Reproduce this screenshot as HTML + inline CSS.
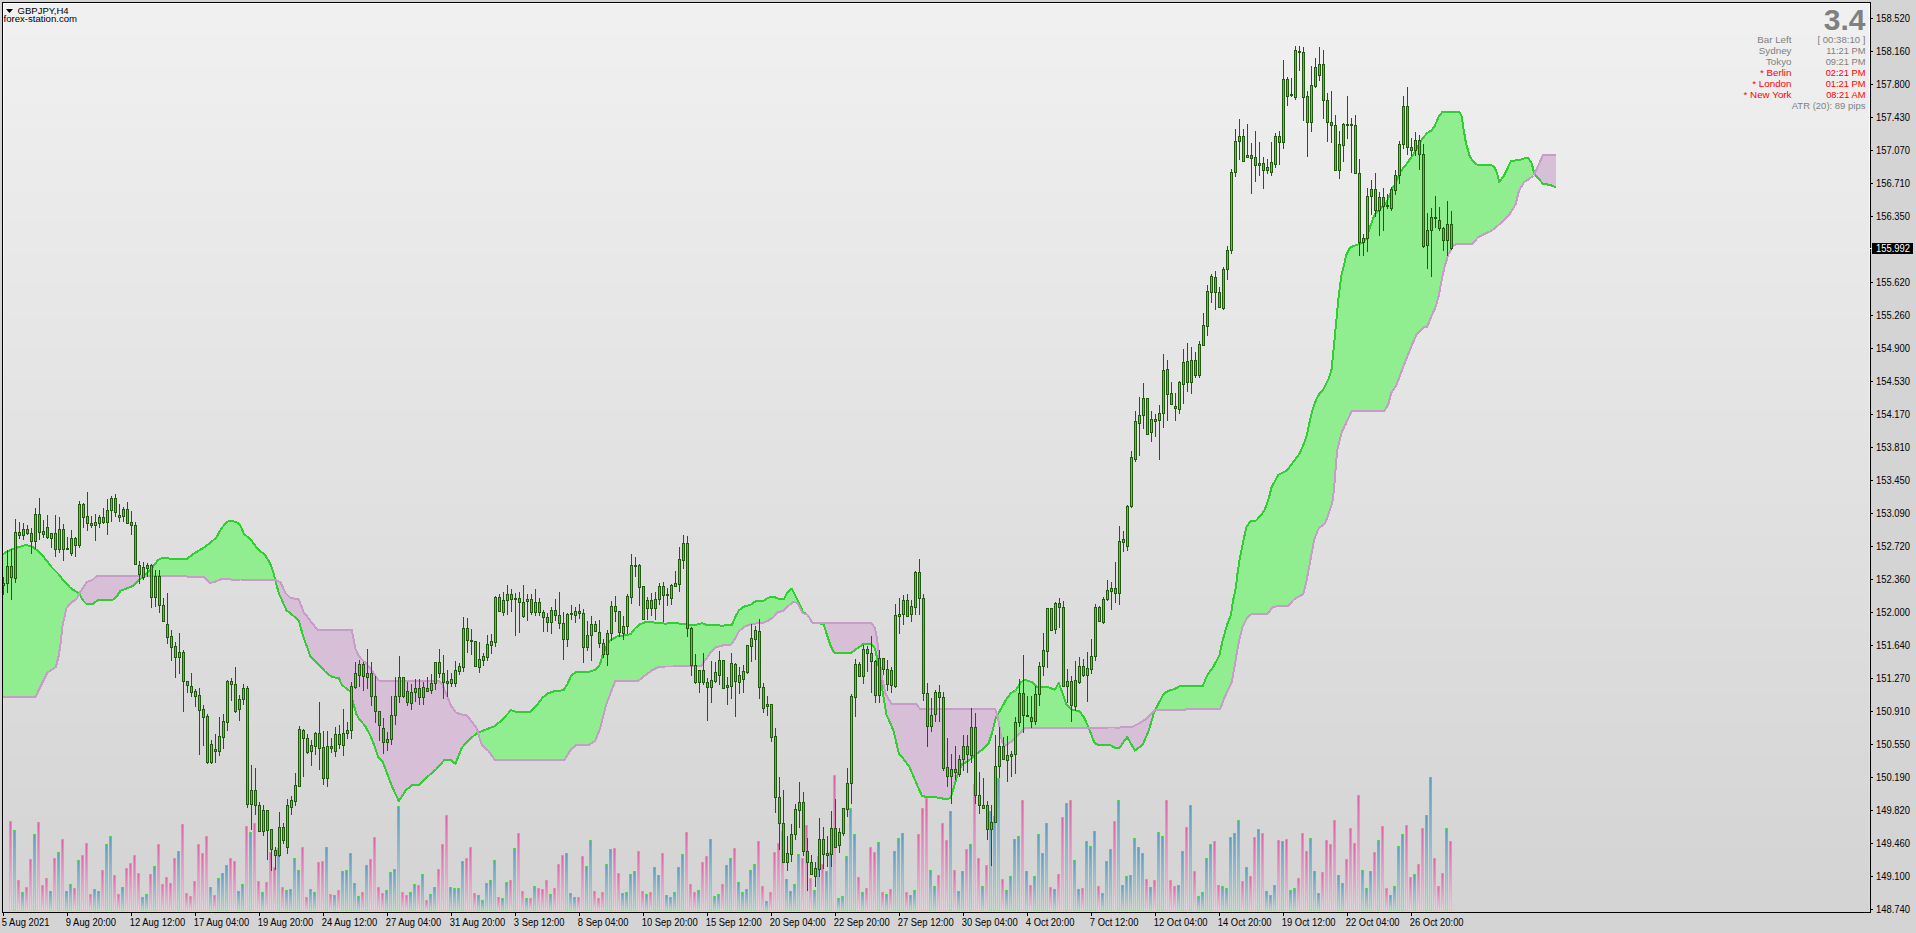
<!DOCTYPE html>
<html><head><meta charset="utf-8"><title>GBPJPY,H4</title>
<style>html,body{margin:0;padding:0;background:#d4d4d4;overflow:hidden;} svg{display:block;} text{shape-rendering:auto;}</style>
</head><body>
<svg width="1916" height="933" viewBox="0 0 1916 933" shape-rendering="crispEdges" font-family="'Liberation Sans', Arial, sans-serif">
<defs>
<linearGradient id="bg" x1="0" y1="0" x2="0" y2="1">
<stop offset="0" stop-color="#f0f0f0"/><stop offset="1" stop-color="#d6d6d6"/>
</linearGradient>
<linearGradient id="vg" x1="0" y1="0" x2="0" y2="1">
<stop offset="0" stop-color="#30ee30"/><stop offset="1" stop-color="#98e098"/></linearGradient>
<linearGradient id="vgi" x1="0" y1="0" x2="0" y2="1">
<stop offset="0" stop-color="#5c9cc0"/><stop offset="1" stop-color="#d4dcd4"/></linearGradient>
<linearGradient id="vp" x1="0" y1="0" x2="0" y2="1">
<stop offset="0" stop-color="#e8909c"/><stop offset="1" stop-color="#e8bcbc"/></linearGradient>
<linearGradient id="vpi" x1="0" y1="0" x2="0" y2="1">
<stop offset="0" stop-color="#e060a8"/><stop offset="1" stop-color="#e4dce0"/></linearGradient>
<linearGradient id="vl" x1="0" y1="0" x2="0" y2="1"><stop offset="0" stop-color="#ffffff"/><stop offset="1" stop-color="#dadada"/></linearGradient>
</defs>
<rect x="0" y="0" width="1916" height="933" fill="#d4d4d4"/>
<rect x="3" y="3" width="1867" height="31" fill="rgb(240,240,240)"/>
<rect x="3" y="34" width="1867" height="32" fill="rgb(239,239,239)"/>
<rect x="3" y="66" width="1867" height="31" fill="rgb(238,238,238)"/>
<rect x="3" y="97" width="1867" height="31" fill="rgb(237,237,237)"/>
<rect x="3" y="128" width="1867" height="32" fill="rgb(236,236,236)"/>
<rect x="3" y="160" width="1867" height="31" fill="rgb(235,235,235)"/>
<rect x="3" y="191" width="1867" height="31" fill="rgb(234,234,234)"/>
<rect x="3" y="222" width="1867" height="31" fill="rgb(233,233,233)"/>
<rect x="3" y="253" width="1867" height="32" fill="rgb(232,232,232)"/>
<rect x="3" y="285" width="1867" height="31" fill="rgb(231,231,231)"/>
<rect x="3" y="316" width="1867" height="31" fill="rgb(230,230,230)"/>
<rect x="3" y="347" width="1867" height="32" fill="rgb(229,229,229)"/>
<rect x="3" y="379" width="1867" height="31" fill="rgb(228,228,228)"/>
<rect x="3" y="410" width="1867" height="31" fill="rgb(227,227,227)"/>
<rect x="3" y="441" width="1867" height="32" fill="rgb(226,226,226)"/>
<rect x="3" y="473" width="1867" height="31" fill="rgb(225,225,225)"/>
<rect x="3" y="504" width="1867" height="31" fill="rgb(224,224,224)"/>
<rect x="3" y="535" width="1867" height="32" fill="rgb(223,223,223)"/>
<rect x="3" y="567" width="1867" height="31" fill="rgb(222,222,222)"/>
<rect x="3" y="598" width="1867" height="31" fill="rgb(221,221,221)"/>
<rect x="3" y="629" width="1867" height="32" fill="rgb(220,220,220)"/>
<rect x="3" y="661" width="1867" height="31" fill="rgb(219,219,219)"/>
<rect x="3" y="692" width="1867" height="31" fill="rgb(218,218,218)"/>
<rect x="3" y="723" width="1867" height="31" fill="rgb(217,217,217)"/>
<rect x="3" y="754" width="1867" height="32" fill="rgb(216,216,216)"/>
<rect x="3" y="786" width="1867" height="31" fill="rgb(215,215,215)"/>
<rect x="3" y="817" width="1867" height="31" fill="rgb(214,214,214)"/>
<rect x="3" y="848" width="1867" height="32" fill="rgb(213,213,213)"/>
<rect x="3" y="880" width="1867" height="31" fill="rgb(212,212,212)"/>
<rect x="3" y="3" width="1867" height="1" fill="#fff"/>
<rect x="3" y="3" width="1" height="909" fill="url(#vl)"/>
<rect x="1869" y="3" width="1" height="909" fill="url(#vl)"/>
<polygon points="3.00,554.00 11.60,549.30 11.60,549.30 19.30,547.00 19.30,547.00 26.00,545.00 26.00,545.00 31.80,546.40 31.80,546.40 35.70,549.20 35.70,549.20 38.60,551.20 38.60,551.20 41.50,554.50 41.50,554.50 45.30,558.90 45.30,558.90 47.30,561.50 47.30,561.50 52.10,567.60 52.10,567.60 55.90,571.40 55.90,571.40 57.90,573.40 57.90,573.40 58.80,574.50 58.80,574.50 60.80,577.00 60.80,577.00 62.70,579.40 62.70,579.40 63.60,580.50 63.60,580.50 66.50,583.70 66.50,583.70 70.40,587.90 70.40,587.90 71.40,588.60 71.40,588.60 76.20,591.70 76.20,591.70 79.10,593.60 79.10,593.60 79.27,593.90 79.10,594.20 79.10,594.20 76.20,599.40 76.20,599.40 71.40,602.30 71.40,602.30 70.40,603.50 70.40,603.50 66.50,608.10 66.50,608.10 63.60,620.60 63.60,620.60 62.70,624.50 62.70,624.50 60.80,641.90 60.80,641.90 58.80,655.40 58.80,655.40 57.90,659.00 57.90,659.00 55.90,666.90 55.90,666.90 52.10,669.50 52.10,669.50 47.30,672.70 47.30,672.70 45.30,676.70 45.30,676.70 41.50,684.30 41.50,684.30 38.60,690.50 38.60,690.50 35.70,696.80 35.70,696.80 31.80,696.80 31.80,696.80 26.00,696.80 26.00,696.80 19.30,696.80 19.30,696.80 11.60,696.80 11.60,696.80 3.00,696.80" fill="#90ee90"/>
<polygon points="79.27,593.90 81.00,597.00 81.00,597.00 82.90,600.40 82.90,600.40 86.80,604.30 86.80,604.30 92.60,604.30 92.60,604.30 96.40,601.20 96.40,601.20 97.40,600.40 97.40,600.40 104.10,600.40 104.10,600.40 111.90,600.40 111.90,600.40 116.70,596.50 116.70,596.50 120.50,590.80 120.50,590.80 127.30,588.20 127.30,588.20 133.10,585.90 133.10,585.90 138.90,580.50 138.90,580.50 143.35,576.40 138.90,576.40 138.90,576.40 133.10,576.40 133.10,576.40 127.30,576.40 127.30,576.40 120.50,576.30 120.50,576.30 116.70,576.30 116.70,576.30 111.90,576.30 111.90,576.30 104.10,576.30 104.10,576.30 97.40,576.30 97.40,576.30 96.40,576.30 96.40,576.30 92.60,579.80 92.60,579.80 86.80,582.10 86.80,582.10 82.90,587.90 82.90,587.90 81.00,590.80 81.00,590.80" fill="#d8bfd8"/>
<polygon points="143.35,576.40 146.60,573.40 146.60,573.40 152.40,567.60 152.40,567.60 158.10,559.90 158.10,559.90 162.00,558.00 162.00,558.00 173.60,558.90 173.60,558.90 187.10,558.90 187.10,558.90 192.90,554.10 192.90,554.10 197.70,551.40 197.70,551.40 203.50,547.80 203.50,547.80 205.40,546.60 205.40,546.60 210.20,542.70 210.20,542.70 215.10,538.70 215.10,538.70 216.00,538.00 216.00,538.00 220.80,529.30 220.80,529.30 226.60,522.00 226.60,522.00 230.50,520.60 230.50,520.60 236.30,522.00 236.30,522.00 240.10,525.00 240.10,525.00 244.00,534.10 244.00,534.10 249.80,538.50 249.80,538.50 257.50,548.60 257.50,548.60 265.20,555.30 265.20,555.30 270.00,563.00 270.00,563.00 272.90,570.70 272.90,570.70 274.80,578.40 274.80,578.40 275.23,579.99 274.80,579.80 274.80,579.80 272.90,579.80 272.90,579.80 270.00,579.80 270.00,579.80 265.20,579.70 265.20,579.70 257.50,579.70 257.50,579.70 249.80,579.60 249.80,579.60 244.00,579.60 244.00,579.60 240.10,579.50 240.10,579.50 236.30,579.50 236.30,579.50 230.50,579.50 230.50,579.50 226.60,579.40 226.60,579.40 220.80,579.40 220.80,579.40 216.00,581.30 216.00,581.30 215.10,581.70 215.10,581.70 210.20,582.90 210.20,582.90 205.40,578.30 205.40,578.30 203.50,576.50 203.50,576.50 197.70,576.50 197.70,576.50 192.90,576.50 192.90,576.50 187.10,576.50 187.10,576.50 173.60,576.40 173.60,576.40 162.00,576.40 162.00,576.40 158.10,576.40 158.10,576.40 152.40,576.40 152.40,576.40 146.60,576.40 146.60,576.40" fill="#90ee90"/>
<polygon points="275.23,579.99 278.70,592.90 278.70,592.90 280.60,597.20 280.60,597.20 285.40,608.00 285.40,608.00 286.40,610.20 286.40,610.20 290.20,613.30 290.20,613.30 293.10,615.60 293.10,615.60 298.90,620.90 298.90,620.90 302.80,635.30 302.80,635.30 303.70,637.80 303.70,637.80 310.50,656.50 310.50,656.50 317.20,663.10 317.20,663.10 320.00,665.90 320.00,665.90 325.00,671.50 325.00,671.50 332.40,677.40 332.40,677.40 338.70,677.70 338.70,677.70 341.80,684.60 341.80,684.60 347.40,689.60 347.40,689.60 350.50,691.40 350.50,691.40 351.70,696.30 351.70,696.30 353.00,701.70 353.00,701.70 353.50,703.70 353.50,703.70 355.40,710.60 355.40,710.60 356.40,714.30 356.40,714.30 358.60,718.00 358.60,718.00 359.30,719.20 359.30,719.20 363.50,724.10 363.50,724.10 365.10,725.90 365.10,725.90 366.10,727.70 366.10,727.70 369.90,734.60 369.90,734.60 371.90,739.50 371.90,739.50 373.80,744.20 373.80,744.20 378.60,757.80 378.60,757.80 382.50,761.20 382.50,761.20 386.30,771.30 386.30,771.30 392.10,786.70 392.10,786.70 398.90,801.20 398.90,801.20 405.60,790.60 405.60,790.60 412.40,784.80 412.40,784.80 419.20,784.80 419.20,784.80 424.90,779.00 424.90,779.00 436.50,769.00 436.50,769.00 438.50,766.70 438.50,766.70 442.30,762.30 442.30,762.30 444.20,760.10 444.20,760.10 446.20,760.10 446.20,760.10 451.00,760.10 451.00,760.10 455.40,763.90 455.40,763.90 455.80,762.90 455.80,762.90 460.70,750.40 460.70,750.40 461.60,748.10 461.60,748.10 467.40,741.50 467.40,741.50 469.30,739.40 469.30,739.40 471.30,737.80 471.30,737.80 477.10,733.10 477.10,733.10 478.06,732.70 477.10,728.80 477.10,728.80 471.30,721.10 471.30,721.10 469.30,718.30 469.30,718.30 467.40,715.70 467.40,715.70 461.60,714.50 461.60,714.50 460.70,714.30 460.70,714.30 455.80,712.40 455.80,712.40 455.40,711.80 455.40,711.80 451.00,705.60 451.00,705.60 446.20,694.10 446.20,694.10 444.20,689.10 444.20,689.10 442.30,684.40 442.30,684.40 438.50,680.50 438.50,680.50 436.50,680.50 436.50,680.50 424.90,680.50 424.90,680.50 419.20,680.50 419.20,680.50 412.40,680.50 412.40,680.50 405.60,680.50 405.60,680.50 398.90,680.50 398.90,680.50 392.10,680.50 392.10,680.50 386.30,680.50 386.30,680.50 382.50,680.50 382.50,680.50 378.60,680.50 378.60,680.50 373.80,673.60 373.80,673.60 371.90,670.90 371.90,670.90 369.90,668.20 369.90,668.20 366.10,663.20 366.10,663.20 365.10,662.40 365.10,662.40 363.50,661.00 363.50,661.00 359.30,656.70 359.30,656.70 358.60,656.00 358.60,656.00 356.40,650.80 356.40,650.80 355.40,648.50 355.40,648.50 353.50,638.60 353.50,638.60 353.00,636.00 353.00,636.00 351.70,629.60 351.70,629.60 350.50,629.60 350.50,629.60 347.40,629.60 347.40,629.60 341.80,629.60 341.80,629.60 338.70,629.60 338.70,629.60 332.40,629.50 332.40,629.50 325.00,629.50 325.00,629.50 320.00,629.50 320.00,629.50 317.20,629.50 317.20,629.50 310.50,620.90 310.50,620.90 303.70,612.20 303.70,612.20 302.80,609.80 302.80,609.80 298.90,599.60 298.90,599.60 293.10,598.30 293.10,598.30 290.20,597.70 290.20,597.70 286.40,593.90 286.40,593.90 285.40,592.90 285.40,592.90 280.60,582.30 280.60,582.30 278.70,581.50 278.70,581.50" fill="#d8bfd8"/>
<polygon points="478.06,732.70 479.00,732.30 479.00,732.30 481.90,731.20 481.90,731.20 486.70,729.20 486.70,729.20 488.60,728.50 488.60,728.50 494.80,726.10 494.80,726.10 501.60,720.30 501.60,720.30 511.20,710.10 511.20,710.10 515.10,711.60 515.10,711.60 530.50,711.60 530.50,711.60 536.30,705.80 536.30,705.80 542.10,698.10 542.10,698.10 547.90,693.30 547.90,693.30 555.60,690.80 555.60,690.80 563.40,690.40 563.40,690.40 564.30,689.00 564.30,689.00 567.20,684.60 567.20,684.60 571.10,675.90 571.10,675.90 575.90,672.00 575.90,672.00 588.50,671.60 588.50,671.60 590.40,671.50 590.40,671.50 595.20,669.60 595.20,669.60 596.20,669.20 596.20,669.20 600.00,664.30 600.00,664.30 602.90,653.70 602.90,653.70 605.80,648.10 605.80,648.10 609.70,640.60 609.70,640.60 611.60,639.50 611.60,639.50 615.50,637.40 615.50,637.40 617.40,636.30 617.40,636.30 625.10,635.40 625.10,635.40 630.90,634.00 630.90,634.00 634.80,628.60 634.80,628.60 638.60,625.30 638.60,625.30 639.60,624.40 639.60,624.40 644.40,622.60 644.40,622.60 646.40,621.90 646.40,621.90 652.20,622.40 652.20,622.40 657.70,622.70 657.70,622.70 659.70,623.00 659.70,623.00 665.40,623.70 665.40,623.70 673.20,622.70 673.20,622.70 688.60,624.70 688.60,624.70 696.30,624.70 696.30,624.70 701.20,623.50 701.20,623.50 702.10,623.30 702.10,623.30 705.00,624.30 705.00,624.30 707.90,625.30 707.90,625.30 709.80,625.30 709.80,625.30 715.60,625.40 715.60,625.40 723.40,625.60 723.40,625.60 731.10,624.80 731.10,624.80 732.00,624.70 732.00,624.70 734.90,617.90 734.90,617.90 738.80,610.20 738.80,610.20 744.60,606.30 744.60,606.30 750.40,604.80 750.40,604.80 752.30,603.50 752.30,603.50 756.20,600.90 756.20,600.90 762.00,600.60 762.00,600.60 763.90,600.50 763.90,600.50 767.80,598.10 767.80,598.10 768.70,597.60 768.70,597.60 773.60,596.70 773.60,596.70 777.40,598.20 777.40,598.20 778.40,598.60 778.40,598.60 783.20,598.60 783.20,598.60 784.20,598.60 784.20,598.60 787.10,592.80 787.10,592.80 789.00,591.10 789.00,591.10 791.90,588.60 791.90,588.60 793.80,592.50 793.80,592.50 795.80,596.70 795.80,596.70 797.70,600.60 797.70,600.60 799.60,604.40 799.60,604.40 802.50,610.90 802.50,610.90 803.00,612.00 803.00,612.00 807.40,614.70 807.40,614.70 803.00,613.00 803.00,613.00 802.50,612.80 802.50,612.80 799.60,607.00 799.60,607.00 797.70,603.20 797.70,603.20 795.80,602.40 795.80,602.40 793.80,601.50 793.80,601.50 791.90,603.00 791.90,603.00 789.00,605.40 789.00,605.40 787.10,607.10 787.10,607.10 784.20,609.70 784.20,609.70 783.20,610.60 783.20,610.60 778.40,612.20 778.40,612.20 777.40,612.50 777.40,612.50 773.60,617.00 773.60,617.00 768.70,620.20 768.70,620.20 767.80,620.80 767.80,620.80 763.90,622.50 763.90,622.50 762.00,623.30 762.00,623.30 756.20,623.50 756.20,623.50 752.30,623.70 752.30,623.70 750.40,624.40 750.40,624.40 744.60,626.60 744.60,626.60 738.80,631.40 738.80,631.40 734.90,639.20 734.90,639.20 732.00,643.30 732.00,643.30 731.10,644.60 731.10,644.60 723.40,645.30 723.40,645.30 715.60,647.30 715.60,647.30 709.80,653.60 709.80,653.60 707.90,656.30 707.90,656.30 705.00,660.40 705.00,660.40 702.10,664.80 702.10,664.80 701.20,666.20 701.20,666.20 696.30,666.20 696.30,666.20 688.60,666.30 688.60,666.30 673.20,666.50 673.20,666.50 665.40,666.50 665.40,666.50 659.70,666.60 659.70,666.60 657.70,667.50 657.70,667.50 652.20,670.10 652.20,670.10 646.40,674.40 646.40,674.40 644.40,675.90 644.40,675.90 639.60,679.90 639.60,679.90 638.60,680.70 638.60,680.70 634.80,680.70 634.80,680.70 630.90,680.70 630.90,680.70 625.10,680.70 625.10,680.70 617.40,680.70 617.40,680.70 615.50,680.70 615.50,680.70 611.60,690.40 611.60,690.40 609.70,695.40 609.70,695.40 605.80,705.80 605.80,705.80 602.90,717.40 602.90,717.40 600.00,729.00 600.00,729.00 596.20,738.20 596.20,738.20 595.20,740.60 595.20,740.60 590.40,744.00 590.40,744.00 588.50,745.40 588.50,745.40 575.90,745.40 575.90,745.40 571.10,749.30 571.10,749.30 567.20,755.40 567.20,755.40 564.30,759.90 564.30,759.90 563.40,759.90 563.40,759.90 555.60,759.90 555.60,759.90 547.90,759.90 547.90,759.90 542.10,759.90 542.10,759.90 536.30,759.90 536.30,759.90 530.50,759.90 530.50,759.90 515.10,759.90 515.10,759.90 511.20,759.90 511.20,759.90 501.60,759.90 501.60,759.90 494.80,759.90 494.80,759.90 488.60,751.00 488.60,751.00 486.70,749.40 486.70,749.40 481.90,745.20 481.90,745.20 479.00,736.50 479.00,736.50" fill="#90ee90"/>
<polygon points="807.40,614.70 812.20,622.50 812.20,622.50 818.00,623.00 818.00,623.00 823.80,624.40 823.80,624.40 826.70,634.10 826.70,634.10 830.50,645.60 830.50,645.60 834.40,653.00 834.40,653.00 850.80,653.00 850.80,653.00 855.60,649.50 855.60,649.50 863.40,644.10 863.40,644.10 871.10,643.70 871.10,643.70 874.90,648.50 874.90,648.50 876.90,657.20 876.90,657.20 878.80,667.40 878.80,667.40 879.80,672.70 879.80,672.70 881.70,685.30 881.70,685.30 882.70,692.00 882.70,692.00 885.60,709.60 885.60,709.60 886.50,715.10 886.50,715.10 890.00,722.30 890.00,722.30 891.40,725.80 891.40,725.80 893.90,732.00 893.90,732.00 898.70,753.20 898.70,753.20 903.50,759.00 903.50,759.00 909.30,766.70 909.30,766.70 915.10,780.20 915.10,780.20 915.50,781.10 915.50,781.10 920.30,792.10 920.30,792.10 921.90,795.70 921.90,795.70 924.70,796.60 924.70,796.60 938.30,797.60 938.30,797.60 946.90,799.50 946.90,799.50 950.80,797.60 950.80,797.60 953.70,788.00 953.70,788.00 957.60,774.40 957.60,774.40 962.40,763.80 962.40,763.80 967.20,761.90 967.20,761.90 974.90,755.10 974.90,755.10 982.70,749.30 982.70,749.30 988.50,743.60 988.50,743.60 992.30,732.00 992.30,732.00 995.20,720.50 995.20,720.50 996.20,716.50 996.20,716.50 997.10,715.10 997.10,715.10 997.18,714.98 997.10,714.60 997.10,714.60 996.20,711.90 996.20,711.90 995.20,708.80 995.20,708.80 992.30,708.80 992.30,708.80 988.50,708.80 988.50,708.80 982.70,708.80 982.70,708.80 974.90,708.90 974.90,708.90 967.20,708.90 967.20,708.90 962.40,708.90 962.40,708.90 957.60,708.90 957.60,708.90 953.70,708.90 953.70,708.90 950.80,708.90 950.80,708.90 946.90,708.90 946.90,708.90 938.30,709.00 938.30,709.00 924.70,709.00 924.70,709.00 921.90,709.00 921.90,709.00 920.30,709.00 920.30,709.00 915.50,703.60 915.50,703.60 915.10,703.60 915.10,703.60 909.30,703.60 909.30,703.60 903.50,703.60 903.50,703.60 898.70,703.60 898.70,703.60 893.90,703.60 893.90,703.60 891.40,703.60 891.40,703.60 890.00,701.30 890.00,701.30 886.50,695.40 886.50,695.40 885.60,693.90 885.60,693.90 882.70,681.00 882.70,681.00 881.70,676.50 881.70,676.50 879.80,661.40 879.80,661.40 878.80,653.40 878.80,653.40 876.90,637.90 876.90,637.90 874.90,628.30 874.90,628.30 871.10,622.50 871.10,622.50 863.40,622.50 863.40,622.50 855.60,622.50 855.60,622.50 850.80,622.50 850.80,622.50 834.40,622.50 834.40,622.50 830.50,622.50 830.50,622.50 826.70,622.50 826.70,622.50 823.80,622.50 823.80,622.50 818.00,622.50 818.00,622.50 812.20,622.50 812.20,622.50 807.40,614.70" fill="#d8bfd8"/>
<polygon points="997.18,714.98 999.10,712.10 999.10,712.10 1000.00,710.70 1000.00,710.70 1002.00,707.00 1002.00,707.00 1005.80,700.10 1005.80,700.10 1010.70,693.40 1010.70,693.40 1013.60,691.60 1013.60,691.60 1015.50,690.50 1015.50,690.50 1021.30,681.80 1021.30,681.80 1025.10,679.80 1025.10,679.80 1032.90,682.70 1032.90,682.70 1036.70,686.60 1036.70,686.60 1044.40,686.60 1044.40,686.60 1050.00,687.80 1050.00,687.80 1054.80,689.80 1054.80,689.80 1058.70,683.00 1058.70,683.00 1061.60,690.70 1061.60,690.70 1066.40,704.20 1066.40,704.20 1072.20,710.00 1072.20,710.00 1079.00,711.00 1079.00,711.00 1083.80,716.80 1083.80,716.80 1088.60,727.40 1088.60,727.40 1088.71,727.70 1088.60,727.70 1088.60,727.70 1083.80,727.70 1083.80,727.70 1079.00,727.70 1079.00,727.70 1072.20,727.80 1072.20,727.80 1066.40,727.80 1066.40,727.80 1061.60,727.90 1061.60,727.90 1058.70,727.90 1058.70,727.90 1054.80,727.90 1054.80,727.90 1050.00,727.90 1050.00,727.90 1044.40,728.00 1044.40,728.00 1036.70,728.00 1036.70,728.00 1032.90,728.00 1032.90,728.00 1025.10,728.10 1025.10,728.10 1021.30,732.00 1021.30,732.00 1015.50,737.80 1015.50,737.80 1013.60,739.70 1013.60,739.70 1010.70,741.90 1010.70,741.90 1005.80,745.50 1005.80,745.50 1002.00,741.60 1002.00,741.60 1000.00,729.60 1000.00,729.60 999.10,724.20 999.10,724.20" fill="#90ee90"/>
<polygon points="1088.71,727.70 1094.40,742.90 1094.40,742.90 1098.30,744.80 1098.30,744.80 1109.80,744.80 1109.80,744.80 1114.70,747.70 1114.70,747.70 1119.50,747.70 1119.50,747.70 1127.20,737.10 1127.20,737.10 1131.10,743.90 1131.10,743.90 1134.90,750.60 1134.90,750.60 1138.80,747.70 1138.80,747.70 1142.70,744.80 1142.70,744.80 1146.50,736.00 1146.50,736.00 1148.50,731.30 1148.50,731.30 1154.20,712.00 1154.20,712.00 1155.20,710.00 1155.20,710.00 1154.20,711.00 1154.20,711.00 1148.50,716.70 1148.50,716.70 1146.50,718.70 1146.50,718.70 1142.70,721.10 1142.70,721.10 1138.80,723.60 1138.80,723.60 1134.90,725.50 1134.90,725.50 1131.10,727.40 1131.10,727.40 1127.20,727.40 1127.20,727.40 1119.50,727.50 1119.50,727.50 1114.70,727.50 1114.70,727.50 1109.80,727.50 1109.80,727.50 1098.30,727.60 1098.30,727.60 1094.40,727.60 1094.40,727.60" fill="#d8bfd8"/>
<polygon points="1155.20,710.00 1158.10,704.20 1158.10,704.20 1163.90,693.60 1163.90,693.60 1168.70,690.70 1168.70,690.70 1174.50,689.20 1174.50,689.20 1180.30,685.90 1180.30,685.90 1202.90,685.80 1202.90,685.80 1206.80,676.10 1206.80,676.10 1213.50,666.40 1213.50,666.40 1219.30,655.80 1219.30,655.80 1220.30,651.10 1220.30,651.10 1222.20,642.30 1222.20,642.30 1224.10,635.40 1224.10,635.40 1227.00,624.90 1227.00,624.90 1230.90,615.30 1230.90,615.30 1231.90,608.20 1231.90,608.20 1232.80,601.80 1232.80,601.80 1234.70,593.00 1234.70,593.00 1235.70,588.30 1235.70,588.30 1237.60,572.80 1237.60,572.80 1239.60,559.30 1239.60,559.30 1241.50,549.70 1241.50,549.70 1242.50,544.90 1242.50,544.90 1243.50,540.10 1243.50,540.10 1246.40,527.00 1246.40,527.00 1247.30,525.70 1247.30,525.70 1250.30,521.20 1250.30,521.20 1252.10,521.00 1252.10,521.00 1256.10,520.60 1256.10,520.60 1263.80,511.50 1263.80,511.50 1266.70,504.80 1266.70,504.80 1267.60,501.80 1267.60,501.80 1269.60,495.10 1269.60,495.10 1271.50,487.40 1271.50,487.40 1272.40,485.70 1272.40,485.70 1277.20,476.90 1277.20,476.90 1278.30,474.90 1278.30,474.90 1286.90,470.40 1286.90,470.40 1287.80,469.20 1287.80,469.20 1293.70,461.40 1293.70,461.40 1294.60,460.20 1294.60,460.20 1299.50,453.60 1299.50,453.60 1303.30,445.20 1303.30,445.20 1304.30,443.00 1304.30,443.00 1306.20,436.70 1306.20,436.70 1307.20,433.40 1307.20,433.40 1309.10,424.50 1309.10,424.50 1310.10,419.80 1310.10,419.80 1312.00,412.30 1312.00,412.30 1313.00,408.30 1313.00,408.30 1314.00,405.60 1314.00,405.60 1315.90,400.50 1315.90,400.50 1318.80,394.70 1318.80,394.70 1323.60,389.00 1323.60,389.00 1324.60,387.00 1324.60,387.00 1328.50,379.30 1328.50,379.30 1331.40,370.60 1331.40,370.60 1332.30,362.00 1332.30,362.00 1332.50,360.10 1332.50,360.10 1334.20,342.80 1334.20,342.80 1335.20,332.60 1335.20,332.60 1335.40,330.60 1335.40,330.60 1337.10,312.50 1337.10,312.50 1338.30,299.70 1338.30,299.70 1339.10,293.30 1339.10,293.30 1341.20,276.50 1341.20,276.50 1342.00,273.30 1342.00,273.30 1344.10,264.90 1344.10,264.90 1345.80,256.70 1345.80,256.70 1346.10,255.30 1346.10,255.30 1349.90,247.60 1349.90,247.60 1351.60,246.90 1351.60,246.90 1354.70,245.60 1354.70,245.60 1361.50,243.30 1361.50,243.30 1366.30,238.90 1366.30,238.90 1370.20,226.30 1370.20,226.30 1375.00,213.80 1375.00,213.80 1379.80,209.00 1379.80,209.00 1384.40,205.10 1384.40,205.10 1385.60,204.10 1385.60,204.10 1388.30,197.90 1388.30,197.90 1388.70,197.00 1388.70,197.00 1391.20,191.10 1391.20,191.10 1392.40,188.30 1392.40,188.30 1396.00,182.30 1396.00,182.30 1396.20,182.00 1396.20,182.00 1400.00,173.30 1400.00,173.30 1401.10,170.80 1401.10,170.80 1405.90,164.80 1405.90,164.80 1406.10,164.60 1406.10,164.60 1410.70,158.10 1410.70,158.10 1412.30,155.90 1412.30,155.90 1416.50,149.10 1416.50,149.10 1417.30,147.80 1417.30,147.80 1422.30,138.50 1422.30,138.50 1424.20,136.40 1424.20,136.40 1427.10,133.10 1427.10,133.10 1427.30,132.90 1427.30,132.90 1431.60,130.40 1431.60,130.40 1432.00,129.80 1432.00,129.80 1434.70,126.10 1434.70,126.10 1435.80,123.60 1435.80,123.60 1437.20,120.50 1437.20,120.50 1438.50,116.70 1438.50,116.70 1438.70,116.50 1438.70,116.50 1441.60,112.80 1441.60,112.80 1442.20,112.10 1442.20,112.10 1444.50,112.10 1444.50,112.10 1448.40,112.10 1448.40,112.10 1453.20,112.10 1453.20,112.10 1457.10,112.10 1457.10,112.10 1459.60,112.10 1459.60,112.10 1461.50,116.10 1461.50,116.10 1463.30,127.30 1463.30,127.30 1465.80,142.20 1465.80,142.20 1469.60,155.90 1469.60,155.90 1472.50,160.60 1472.50,160.60 1472.70,160.90 1472.70,160.90 1477.00,164.60 1477.00,164.60 1478.30,164.60 1478.30,164.60 1484.10,164.60 1484.10,164.60 1490.70,164.60 1490.70,164.60 1491.50,165.10 1491.50,165.10 1494.40,167.10 1494.40,167.10 1496.90,172.70 1496.90,172.70 1498.30,178.40 1498.30,178.40 1499.20,182.00 1499.20,182.00 1503.50,176.30 1503.50,176.30 1508.60,166.10 1508.60,166.10 1511.20,160.90 1511.20,160.90 1515.50,160.40 1515.50,160.40 1518.90,159.90 1518.90,159.90 1520.60,159.70 1520.60,159.70 1524.00,158.40 1524.00,158.40 1524.90,158.00 1524.90,158.00 1528.30,158.00 1528.30,158.00 1529.20,159.40 1529.20,159.40 1531.80,163.50 1531.80,163.50 1533.50,170.50 1533.50,170.50 1534.30,173.80 1534.30,173.80 1534.33,173.84 1534.30,173.90 1534.30,173.90 1533.50,175.50 1533.50,175.50 1531.80,176.80 1531.80,176.80 1529.20,178.90 1529.20,178.90 1528.30,179.50 1528.30,179.50 1524.90,181.70 1524.90,181.70 1524.00,182.30 1524.00,182.30 1520.60,188.00 1520.60,188.00 1518.90,190.90 1518.90,190.90 1515.50,204.60 1515.50,204.60 1511.20,211.60 1511.20,211.60 1508.60,215.80 1508.60,215.80 1503.50,220.50 1503.50,220.50 1499.20,224.40 1499.20,224.40 1498.30,225.20 1498.30,225.20 1496.90,226.30 1496.90,226.30 1494.40,228.40 1494.40,228.40 1491.50,230.70 1491.50,230.70 1490.70,231.10 1490.70,231.10 1484.10,234.10 1484.10,234.10 1478.30,237.00 1478.30,237.00 1477.00,238.50 1477.00,238.50 1472.70,243.50 1472.70,243.50 1472.50,243.70 1472.50,243.70 1469.60,243.70 1469.60,243.70 1465.80,243.70 1465.80,243.70 1463.30,243.70 1463.30,243.70 1461.50,243.70 1461.50,243.70 1459.60,243.70 1459.60,243.70 1457.10,243.70 1457.10,243.70 1453.20,245.60 1453.20,245.60 1448.40,254.30 1448.40,254.30 1444.50,266.90 1444.50,266.90 1442.20,277.60 1442.20,277.60 1441.60,280.40 1441.60,280.40 1438.70,295.80 1438.70,295.80 1438.50,296.50 1438.50,296.50 1437.20,301.30 1437.20,301.30 1435.80,306.40 1435.80,306.40 1434.70,308.90 1434.70,308.90 1432.00,315.10 1432.00,315.10 1431.60,316.00 1431.60,316.00 1427.30,326.20 1427.30,326.20 1427.10,326.70 1427.10,326.70 1424.20,326.70 1424.20,326.70 1422.30,328.60 1422.30,328.60 1417.30,333.60 1417.30,333.60 1416.50,334.40 1416.50,334.40 1412.30,344.20 1412.30,344.20 1410.70,348.00 1410.70,348.00 1406.10,359.60 1406.10,359.60 1405.90,360.10 1405.90,360.10 1401.10,372.50 1401.10,372.50 1400.00,375.40 1400.00,375.40 1396.20,385.60 1396.20,385.60 1396.00,386.10 1396.00,386.10 1392.40,391.10 1392.40,391.10 1391.20,392.80 1391.20,392.80 1388.70,402.80 1388.70,402.80 1388.30,404.40 1388.30,404.40 1385.60,409.10 1385.60,409.10 1384.40,411.20 1384.40,411.20 1379.80,411.20 1379.80,411.20 1375.00,411.20 1375.00,411.20 1370.20,411.20 1370.20,411.20 1366.30,411.20 1366.30,411.20 1361.50,411.20 1361.50,411.20 1354.70,411.20 1354.70,411.20 1351.60,411.20 1351.60,411.20 1349.90,414.90 1349.90,414.90 1346.10,423.10 1346.10,423.10 1345.80,423.70 1345.80,423.70 1344.10,427.10 1344.10,427.10 1342.00,431.40 1342.00,431.40 1341.20,434.60 1341.20,434.60 1339.10,443.00 1339.10,443.00 1338.30,446.10 1338.30,446.10 1337.10,450.70 1337.10,450.70 1335.40,471.50 1335.40,471.50 1335.20,473.90 1335.20,473.90 1334.20,487.40 1334.20,487.40 1332.50,501.30 1332.50,501.30 1332.30,502.90 1332.30,502.90 1331.40,505.60 1331.40,505.60 1328.50,514.40 1328.50,514.40 1324.60,524.10 1324.60,524.10 1323.60,524.80 1323.60,524.80 1318.80,528.00 1318.80,528.00 1315.90,535.30 1315.90,535.30 1314.00,540.10 1314.00,540.10 1313.00,545.90 1313.00,545.90 1312.00,551.60 1312.00,551.60 1310.10,561.70 1310.10,561.70 1309.10,567.00 1309.10,567.00 1307.20,577.20 1307.20,577.20 1306.20,582.50 1306.20,582.50 1304.30,590.10 1304.30,590.10 1303.30,594.10 1303.30,594.10 1299.50,596.20 1299.50,596.20 1294.60,598.90 1294.60,598.90 1293.70,599.80 1293.70,599.80 1287.80,606.00 1287.80,606.00 1286.90,606.00 1286.90,606.00 1278.30,606.00 1278.30,606.00 1277.20,606.00 1277.20,606.00 1272.40,607.60 1272.40,607.60 1271.50,608.80 1271.50,608.80 1269.60,611.30 1269.60,611.30 1267.60,613.90 1267.60,613.90 1266.70,613.90 1266.70,613.90 1263.80,613.90 1263.80,613.90 1256.10,613.90 1256.10,613.90 1252.10,613.90 1252.10,613.90 1250.30,615.10 1250.30,615.10 1247.30,617.20 1247.30,617.20 1246.40,619.00 1246.40,619.00 1243.50,624.90 1243.50,624.90 1242.50,626.90 1242.50,626.90 1241.50,630.90 1241.50,630.90 1239.60,638.50 1239.60,638.50 1237.60,648.10 1237.60,648.10 1235.70,659.50 1235.70,659.50 1234.70,665.50 1234.70,665.50 1232.80,676.60 1232.80,676.60 1231.90,681.90 1231.90,681.90 1230.90,684.00 1230.90,684.00 1227.00,692.20 1227.00,692.20 1224.10,698.30 1224.10,698.30 1222.20,703.60 1222.20,703.60 1220.30,708.90 1220.30,708.90 1219.30,708.90 1219.30,708.90 1213.50,709.00 1213.50,709.00 1206.80,709.10 1206.80,709.10 1202.90,709.20 1202.90,709.20 1180.30,709.60 1180.30,709.60 1174.50,709.70 1174.50,709.70 1168.70,709.80 1168.70,709.80 1163.90,709.90 1163.90,709.90 1158.10,710.00 1158.10,710.00 1155.20,710.00" fill="#90ee90"/>
<polygon points="1534.33,173.84 1536.90,176.80 1536.90,176.80 1542.90,183.70 1542.90,183.70 1549.80,184.90 1549.80,184.90 1555.80,187.10 1555.80,187.10 1556.00,187.10 1556.00,155.20 1555.80,155.20 1555.80,155.20 1549.80,155.20 1549.80,155.20 1542.90,155.20 1542.90,155.20 1536.90,168.60 1536.90,168.60" fill="#d8bfd8"/>
<polyline points="3,554.0 11.6,549.3 19.3,547.0 26,545.0 31.8,546.4 35.7,549.2 38.6,551.2 41.5,554.5 45.3,558.9 47.3,561.5 52.1,567.6 55.9,571.4 57.9,573.4 58.8,574.5 60.8,577.0 62.7,579.4 63.6,580.5 66.5,583.7 70.4,587.9 71.4,588.6 76.2,591.7 79.1,593.6 81,597.0 82.9,600.4 86.8,604.3 92.6,604.3 96.4,601.2 97.4,600.4 104.1,600.4 111.9,600.4 116.7,596.5 120.5,590.8 127.3,588.2 133.1,585.9 138.9,580.5 146.6,573.4 152.4,567.6 158.1,559.9 162,558.0 173.6,558.9 187.1,558.9 192.9,554.1 197.7,551.4 203.5,547.8 205.4,546.6 210.2,542.7 215.1,538.7 216,538.0 220.8,529.3 226.6,522.0 230.5,520.6 236.3,522.0 240.1,525.0 244,534.1 249.8,538.5 257.5,548.6 265.2,555.3 270,563.0 272.9,570.7 274.8,578.4 278.7,592.9 280.6,597.2 285.4,608.0 286.4,610.2 290.2,613.3 293.1,615.6 298.9,620.9 302.8,635.3 303.7,637.8 310.5,656.5 317.2,663.1 320,665.9 325,671.5 332.4,677.4 338.7,677.7 341.8,684.6 347.4,689.6 350.5,691.4 351.7,696.3 353,701.7 353.5,703.7 355.4,710.6 356.4,714.3 358.6,718.0 359.3,719.2 363.5,724.1 365.1,725.9 366.1,727.7 369.9,734.6 371.9,739.5 373.8,744.2 378.6,757.8 382.5,761.2 386.3,771.3 392.1,786.7 398.9,801.2 405.6,790.6 412.4,784.8 419.2,784.8 424.9,779.0 436.5,769.0 438.5,766.7 442.3,762.3 444.2,760.1 446.2,760.1 451,760.1 455.4,763.9 455.8,762.9 460.7,750.4 461.6,748.1 467.4,741.5 469.3,739.4 471.3,737.8 477.1,733.1 479,732.3 481.9,731.2 486.7,729.2 488.6,728.5 494.8,726.1 501.6,720.3 511.2,710.1 515.1,711.6 530.5,711.6 536.3,705.8 542.1,698.1 547.9,693.3 555.6,690.8 563.4,690.4 564.3,689.0 567.2,684.6 571.1,675.9 575.9,672.0 588.5,671.6 590.4,671.5 595.2,669.6 596.2,669.2 600,664.3 602.9,653.7 605.8,648.1 609.7,640.6 611.6,639.5 615.5,637.4 617.4,636.3 625.1,635.4 630.9,634.0 634.8,628.6 638.6,625.3 639.6,624.4 644.4,622.6 646.4,621.9 652.2,622.4 657.7,622.7 659.7,623.0 665.4,623.7 673.2,622.7 688.6,624.7 696.3,624.7 701.2,623.5 702.1,623.3 705,624.3 707.9,625.3 709.8,625.3 715.6,625.4 723.4,625.6 731.1,624.8 732,624.7 734.9,617.9 738.8,610.2 744.6,606.3 750.4,604.8 752.3,603.5 756.2,600.9 762,600.6 763.9,600.5 767.8,598.1 768.7,597.6 773.6,596.7 777.4,598.2 778.4,598.6 783.2,598.6 784.2,598.6 787.1,592.8 789,591.1 791.9,588.6 793.8,592.5 795.8,596.7 797.7,600.6 799.6,604.4 802.5,610.9 803,612.0 807.4,614.7 812.2,622.5 818,623.0 823.8,624.4 826.7,634.1 830.5,645.6 834.4,653.0 850.8,653.0 855.6,649.5 863.4,644.1 871.1,643.7 874.9,648.5 876.9,657.2 878.8,667.4 879.8,672.7 881.7,685.3 882.7,692.0 885.6,709.6 886.5,715.1 890,722.3 891.4,725.8 893.9,732.0 898.7,753.2 903.5,759.0 909.3,766.7 915.1,780.2 915.5,781.1 920.3,792.1 921.9,795.7 924.7,796.6 938.3,797.6 946.9,799.5 950.8,797.6 953.7,788.0 957.6,774.4 962.4,763.8 967.2,761.9 974.9,755.1 982.7,749.3 988.5,743.6 992.3,732.0 995.2,720.5 996.2,716.5 997.1,715.1 999.1,712.1 1000,710.7 1002,707.0 1005.8,700.1 1010.7,693.4 1013.6,691.6 1015.5,690.5 1021.3,681.8 1025.1,679.8 1032.9,682.7 1036.7,686.6 1044.4,686.6 1050,687.8 1054.8,689.8 1058.7,683.0 1061.6,690.7 1066.4,704.2 1072.2,710.0 1079,711.0 1083.8,716.8 1088.6,727.4 1094.4,742.9 1098.3,744.8 1109.8,744.8 1114.7,747.7 1119.5,747.7 1127.2,737.1 1131.1,743.9 1134.9,750.6 1138.8,747.7 1142.7,744.8 1146.5,736.0 1148.5,731.3 1154.2,712.0 1155.2,710.0 1158.1,704.2 1163.9,693.6 1168.7,690.7 1174.5,689.2 1180.3,685.9 1202.9,685.8 1206.8,676.1 1213.5,666.4 1219.3,655.8 1220.3,651.1 1222.2,642.3 1224.1,635.4 1227,624.9 1230.9,615.3 1231.9,608.2 1232.8,601.8 1234.7,593.0 1235.7,588.3 1237.6,572.8 1239.6,559.3 1241.5,549.7 1242.5,544.9 1243.5,540.1 1246.4,527.0 1247.3,525.7 1250.3,521.2 1252.1,521.0 1256.1,520.6 1263.8,511.5 1266.7,504.8 1267.6,501.8 1269.6,495.1 1271.5,487.4 1272.4,485.7 1277.2,476.9 1278.3,474.9 1286.9,470.4 1287.8,469.2 1293.7,461.4 1294.6,460.2 1299.5,453.6 1303.3,445.2 1304.3,443.0 1306.2,436.7 1307.2,433.4 1309.1,424.5 1310.1,419.8 1312,412.3 1313,408.3 1314,405.6 1315.9,400.5 1318.8,394.7 1323.6,389.0 1324.6,387.0 1328.5,379.3 1331.4,370.6 1332.3,362.0 1332.5,360.1 1334.2,342.8 1335.2,332.6 1335.4,330.6 1337.1,312.5 1338.3,299.7 1339.1,293.3 1341.2,276.5 1342,273.3 1344.1,264.9 1345.8,256.7 1346.1,255.3 1349.9,247.6 1351.6,246.9 1354.7,245.6 1361.5,243.3 1366.3,238.9 1370.2,226.3 1375,213.8 1379.8,209.0 1384.4,205.1 1385.6,204.1 1388.3,197.9 1388.7,197.0 1391.2,191.1 1392.4,188.3 1396,182.3 1396.2,182.0 1400,173.3 1401.1,170.8 1405.9,164.8 1406.1,164.6 1410.7,158.1 1412.3,155.9 1416.5,149.1 1417.3,147.8 1422.3,138.5 1424.2,136.4 1427.1,133.1 1427.3,132.9 1431.6,130.4 1432,129.8 1434.7,126.1 1435.8,123.6 1437.2,120.5 1438.5,116.7 1438.7,116.5 1441.6,112.8 1442.2,112.1 1444.5,112.1 1448.4,112.1 1453.2,112.1 1457.1,112.1 1459.6,112.1 1461.5,116.1 1463.3,127.3 1465.8,142.2 1469.6,155.9 1472.5,160.6 1472.7,160.9 1477,164.6 1478.3,164.6 1484.1,164.6 1490.7,164.6 1491.5,165.1 1494.4,167.1 1496.9,172.7 1498.3,178.4 1499.2,182.0 1503.5,176.3 1508.6,166.1 1511.2,160.9 1515.5,160.4 1518.9,159.9 1520.6,159.7 1524,158.4 1524.9,158.0 1528.3,158.0 1529.2,159.4 1531.8,163.5 1533.5,170.5 1534.3,173.8 1536.9,176.8 1542.9,183.7 1549.8,184.9 1555.8,187.1 1556,187.1" fill="none" stroke="#32cd32" stroke-width="2" stroke-linejoin="round"/>
<polyline points="3,696.8 11.6,696.8 19.3,696.8 26,696.8 31.8,696.8 35.7,696.8 38.6,690.5 41.5,684.3 45.3,676.7 47.3,672.7 52.1,669.5 55.9,666.9 57.9,659.0 58.8,655.4 60.8,641.9 62.7,624.5 63.6,620.6 66.5,608.1 70.4,603.5 71.4,602.3 76.2,599.4 79.1,594.2 81,590.8 82.9,587.9 86.8,582.1 92.6,579.8 96.4,576.3 97.4,576.3 104.1,576.3 111.9,576.3 116.7,576.3 120.5,576.3 127.3,576.4 133.1,576.4 138.9,576.4 146.6,576.4 152.4,576.4 158.1,576.4 162,576.4 173.6,576.4 187.1,576.5 192.9,576.5 197.7,576.5 203.5,576.5 205.4,578.3 210.2,582.9 215.1,581.7 216,581.3 220.8,579.4 226.6,579.4 230.5,579.5 236.3,579.5 240.1,579.5 244,579.6 249.8,579.6 257.5,579.7 265.2,579.7 270,579.8 272.9,579.8 274.8,579.8 278.7,581.5 280.6,582.3 285.4,592.9 286.4,593.9 290.2,597.7 293.1,598.3 298.9,599.6 302.8,609.8 303.7,612.2 310.5,620.9 317.2,629.5 320,629.5 325,629.5 332.4,629.5 338.7,629.6 341.8,629.6 347.4,629.6 350.5,629.6 351.7,629.6 353,636.0 353.5,638.6 355.4,648.5 356.4,650.8 358.6,656.0 359.3,656.7 363.5,661.0 365.1,662.4 366.1,663.2 369.9,668.2 371.9,670.9 373.8,673.6 378.6,680.5 382.5,680.5 386.3,680.5 392.1,680.5 398.9,680.5 405.6,680.5 412.4,680.5 419.2,680.5 424.9,680.5 436.5,680.5 438.5,680.5 442.3,684.4 444.2,689.1 446.2,694.1 451,705.6 455.4,711.8 455.8,712.4 460.7,714.3 461.6,714.5 467.4,715.7 469.3,718.3 471.3,721.1 477.1,728.8 479,736.5 481.9,745.2 486.7,749.4 488.6,751.0 494.8,759.9 501.6,759.9 511.2,759.9 515.1,759.9 530.5,759.9 536.3,759.9 542.1,759.9 547.9,759.9 555.6,759.9 563.4,759.9 564.3,759.9 567.2,755.4 571.1,749.3 575.9,745.4 588.5,745.4 590.4,744.0 595.2,740.6 596.2,738.2 600,729.0 602.9,717.4 605.8,705.8 609.7,695.4 611.6,690.4 615.5,680.7 617.4,680.7 625.1,680.7 630.9,680.7 634.8,680.7 638.6,680.7 639.6,679.9 644.4,675.9 646.4,674.4 652.2,670.1 657.7,667.5 659.7,666.6 665.4,666.5 673.2,666.5 688.6,666.3 696.3,666.2 701.2,666.2 702.1,664.8 705,660.4 707.9,656.3 709.8,653.6 715.6,647.3 723.4,645.3 731.1,644.6 732,643.3 734.9,639.2 738.8,631.4 744.6,626.6 750.4,624.4 752.3,623.7 756.2,623.5 762,623.3 763.9,622.5 767.8,620.8 768.7,620.2 773.6,617.0 777.4,612.5 778.4,612.2 783.2,610.6 784.2,609.7 787.1,607.1 789,605.4 791.9,603.0 793.8,601.5 795.8,602.4 797.7,603.2 799.6,607.0 802.5,612.8 803,613.0 807.4,614.7 812.2,622.5 818,622.5 823.8,622.5 826.7,622.5 830.5,622.5 834.4,622.5 850.8,622.5 855.6,622.5 863.4,622.5 871.1,622.5 874.9,628.3 876.9,637.9 878.8,653.4 879.8,661.4 881.7,676.5 882.7,681.0 885.6,693.9 886.5,695.4 890,701.3 891.4,703.6 893.9,703.6 898.7,703.6 903.5,703.6 909.3,703.6 915.1,703.6 915.5,703.6 920.3,709.0 921.9,709.0 924.7,709.0 938.3,709.0 946.9,708.9 950.8,708.9 953.7,708.9 957.6,708.9 962.4,708.9 967.2,708.9 974.9,708.9 982.7,708.8 988.5,708.8 992.3,708.8 995.2,708.8 996.2,711.9 997.1,714.6 999.1,724.2 1000,729.6 1002,741.6 1005.8,745.5 1010.7,741.9 1013.6,739.7 1015.5,737.8 1021.3,732.0 1025.1,728.1 1032.9,728.0 1036.7,728.0 1044.4,728.0 1050,727.9 1054.8,727.9 1058.7,727.9 1061.6,727.9 1066.4,727.8 1072.2,727.8 1079,727.7 1083.8,727.7 1088.6,727.7 1094.4,727.6 1098.3,727.6 1109.8,727.5 1114.7,727.5 1119.5,727.5 1127.2,727.4 1131.1,727.4 1134.9,725.5 1138.8,723.6 1142.7,721.1 1146.5,718.7 1148.5,716.7 1154.2,711.0 1155.2,710.0 1158.1,710.0 1163.9,709.9 1168.7,709.8 1174.5,709.7 1180.3,709.6 1202.9,709.2 1206.8,709.1 1213.5,709.0 1219.3,708.9 1220.3,708.9 1222.2,703.6 1224.1,698.3 1227,692.2 1230.9,684.0 1231.9,681.9 1232.8,676.6 1234.7,665.5 1235.7,659.5 1237.6,648.1 1239.6,638.5 1241.5,630.9 1242.5,626.9 1243.5,624.9 1246.4,619.0 1247.3,617.2 1250.3,615.1 1252.1,613.9 1256.1,613.9 1263.8,613.9 1266.7,613.9 1267.6,613.9 1269.6,611.3 1271.5,608.8 1272.4,607.6 1277.2,606.0 1278.3,606.0 1286.9,606.0 1287.8,606.0 1293.7,599.8 1294.6,598.9 1299.5,596.2 1303.3,594.1 1304.3,590.1 1306.2,582.5 1307.2,577.2 1309.1,567.0 1310.1,561.7 1312,551.6 1313,545.9 1314,540.1 1315.9,535.3 1318.8,528.0 1323.6,524.8 1324.6,524.1 1328.5,514.4 1331.4,505.6 1332.3,502.9 1332.5,501.3 1334.2,487.4 1335.2,473.9 1335.4,471.5 1337.1,450.7 1338.3,446.1 1339.1,443.0 1341.2,434.6 1342,431.4 1344.1,427.1 1345.8,423.7 1346.1,423.1 1349.9,414.9 1351.6,411.2 1354.7,411.2 1361.5,411.2 1366.3,411.2 1370.2,411.2 1375,411.2 1379.8,411.2 1384.4,411.2 1385.6,409.1 1388.3,404.4 1388.7,402.8 1391.2,392.8 1392.4,391.1 1396,386.1 1396.2,385.6 1400,375.4 1401.1,372.5 1405.9,360.1 1406.1,359.6 1410.7,348.0 1412.3,344.2 1416.5,334.4 1417.3,333.6 1422.3,328.6 1424.2,326.7 1427.1,326.7 1427.3,326.2 1431.6,316.0 1432,315.1 1434.7,308.9 1435.8,306.4 1437.2,301.3 1438.5,296.5 1438.7,295.8 1441.6,280.4 1442.2,277.6 1444.5,266.9 1448.4,254.3 1453.2,245.6 1457.1,243.7 1459.6,243.7 1461.5,243.7 1463.3,243.7 1465.8,243.7 1469.6,243.7 1472.5,243.7 1472.7,243.5 1477,238.5 1478.3,237.0 1484.1,234.1 1490.7,231.1 1491.5,230.7 1494.4,228.4 1496.9,226.3 1498.3,225.2 1499.2,224.4 1503.5,220.5 1508.6,215.8 1511.2,211.6 1515.5,204.6 1518.9,190.9 1520.6,188.0 1524,182.3 1524.9,181.7 1528.3,179.5 1529.2,178.9 1531.8,176.8 1533.5,175.5 1534.3,173.9 1536.9,168.6 1542.9,155.2 1549.8,155.2 1555.8,155.2 1556,155.2" fill="none" stroke="#c89bc8" stroke-width="2" stroke-linejoin="round"/>
<rect x="9" y="821" width="3" height="90" fill="url(#vp)"/>
<rect x="10" y="822" width="1" height="88" fill="url(#vpi)"/>
<rect x="13" y="830" width="3" height="81" fill="url(#vg)"/>
<rect x="14" y="831" width="1" height="79" fill="url(#vgi)"/>
<rect x="17" y="880" width="3" height="31" fill="url(#vp)"/>
<rect x="18" y="881" width="1" height="29" fill="url(#vpi)"/>
<rect x="21" y="892" width="3" height="19" fill="url(#vg)"/>
<rect x="22" y="893" width="1" height="17" fill="url(#vgi)"/>
<rect x="25" y="887" width="3" height="24" fill="url(#vp)"/>
<rect x="26" y="888" width="1" height="22" fill="url(#vpi)"/>
<rect x="29" y="859" width="3" height="52" fill="url(#vp)"/>
<rect x="30" y="860" width="1" height="50" fill="url(#vpi)"/>
<rect x="33" y="834" width="3" height="77" fill="url(#vg)"/>
<rect x="34" y="835" width="1" height="75" fill="url(#vgi)"/>
<rect x="37" y="822" width="3" height="89" fill="url(#vp)"/>
<rect x="38" y="823" width="1" height="87" fill="url(#vpi)"/>
<rect x="41" y="885" width="3" height="26" fill="url(#vp)"/>
<rect x="42" y="886" width="1" height="24" fill="url(#vpi)"/>
<rect x="45" y="878" width="3" height="33" fill="url(#vp)"/>
<rect x="46" y="879" width="1" height="31" fill="url(#vpi)"/>
<rect x="49" y="891" width="3" height="20" fill="url(#vg)"/>
<rect x="50" y="892" width="1" height="18" fill="url(#vgi)"/>
<rect x="53" y="858" width="3" height="53" fill="url(#vp)"/>
<rect x="54" y="859" width="1" height="51" fill="url(#vpi)"/>
<rect x="57" y="852" width="3" height="59" fill="url(#vg)"/>
<rect x="58" y="853" width="1" height="57" fill="url(#vgi)"/>
<rect x="61" y="839" width="3" height="72" fill="url(#vp)"/>
<rect x="62" y="840" width="1" height="70" fill="url(#vpi)"/>
<rect x="65" y="891" width="3" height="20" fill="url(#vg)"/>
<rect x="66" y="892" width="1" height="18" fill="url(#vgi)"/>
<rect x="69" y="884" width="3" height="27" fill="url(#vg)"/>
<rect x="70" y="885" width="1" height="25" fill="url(#vgi)"/>
<rect x="73" y="888" width="3" height="23" fill="url(#vp)"/>
<rect x="74" y="889" width="1" height="21" fill="url(#vpi)"/>
<rect x="77" y="860" width="3" height="51" fill="url(#vg)"/>
<rect x="78" y="861" width="1" height="49" fill="url(#vgi)"/>
<rect x="81" y="855" width="3" height="56" fill="url(#vp)"/>
<rect x="82" y="856" width="1" height="54" fill="url(#vpi)"/>
<rect x="85" y="843" width="3" height="68" fill="url(#vp)"/>
<rect x="86" y="844" width="1" height="66" fill="url(#vpi)"/>
<rect x="89" y="894" width="3" height="17" fill="url(#vp)"/>
<rect x="90" y="895" width="1" height="15" fill="url(#vpi)"/>
<rect x="93" y="889" width="3" height="22" fill="url(#vg)"/>
<rect x="94" y="890" width="1" height="20" fill="url(#vgi)"/>
<rect x="97" y="891" width="3" height="20" fill="url(#vg)"/>
<rect x="98" y="892" width="1" height="18" fill="url(#vgi)"/>
<rect x="101" y="870" width="3" height="41" fill="url(#vp)"/>
<rect x="102" y="871" width="1" height="39" fill="url(#vpi)"/>
<rect x="105" y="844" width="3" height="67" fill="url(#vg)"/>
<rect x="106" y="845" width="1" height="65" fill="url(#vgi)"/>
<rect x="109" y="836" width="3" height="75" fill="url(#vg)"/>
<rect x="110" y="837" width="1" height="73" fill="url(#vgi)"/>
<rect x="113" y="875" width="3" height="36" fill="url(#vp)"/>
<rect x="114" y="876" width="1" height="34" fill="url(#vpi)"/>
<rect x="117" y="894" width="3" height="17" fill="url(#vp)"/>
<rect x="118" y="895" width="1" height="15" fill="url(#vpi)"/>
<rect x="121" y="887" width="3" height="24" fill="url(#vg)"/>
<rect x="122" y="888" width="1" height="22" fill="url(#vgi)"/>
<rect x="125" y="868" width="3" height="43" fill="url(#vp)"/>
<rect x="126" y="869" width="1" height="41" fill="url(#vpi)"/>
<rect x="129" y="863" width="3" height="48" fill="url(#vp)"/>
<rect x="130" y="864" width="1" height="46" fill="url(#vpi)"/>
<rect x="133" y="855" width="3" height="56" fill="url(#vp)"/>
<rect x="134" y="856" width="1" height="54" fill="url(#vpi)"/>
<rect x="137" y="873" width="3" height="38" fill="url(#vp)"/>
<rect x="138" y="874" width="1" height="36" fill="url(#vpi)"/>
<rect x="141" y="897" width="3" height="14" fill="url(#vg)"/>
<rect x="142" y="898" width="1" height="12" fill="url(#vgi)"/>
<rect x="145" y="894" width="3" height="17" fill="url(#vg)"/>
<rect x="146" y="895" width="1" height="15" fill="url(#vgi)"/>
<rect x="149" y="874" width="3" height="37" fill="url(#vp)"/>
<rect x="150" y="875" width="1" height="35" fill="url(#vpi)"/>
<rect x="153" y="866" width="3" height="45" fill="url(#vg)"/>
<rect x="154" y="867" width="1" height="43" fill="url(#vgi)"/>
<rect x="157" y="844" width="3" height="67" fill="url(#vp)"/>
<rect x="158" y="845" width="1" height="65" fill="url(#vpi)"/>
<rect x="161" y="884" width="3" height="27" fill="url(#vp)"/>
<rect x="162" y="885" width="1" height="25" fill="url(#vpi)"/>
<rect x="165" y="877" width="3" height="34" fill="url(#vp)"/>
<rect x="166" y="878" width="1" height="32" fill="url(#vpi)"/>
<rect x="169" y="883" width="3" height="28" fill="url(#vp)"/>
<rect x="170" y="884" width="1" height="26" fill="url(#vpi)"/>
<rect x="173" y="858" width="3" height="53" fill="url(#vp)"/>
<rect x="174" y="859" width="1" height="51" fill="url(#vpi)"/>
<rect x="177" y="851" width="3" height="60" fill="url(#vg)"/>
<rect x="178" y="852" width="1" height="58" fill="url(#vgi)"/>
<rect x="181" y="824" width="3" height="87" fill="url(#vp)"/>
<rect x="182" y="825" width="1" height="85" fill="url(#vpi)"/>
<rect x="185" y="893" width="3" height="18" fill="url(#vp)"/>
<rect x="186" y="894" width="1" height="16" fill="url(#vpi)"/>
<rect x="189" y="896" width="3" height="15" fill="url(#vp)"/>
<rect x="190" y="897" width="1" height="13" fill="url(#vpi)"/>
<rect x="193" y="881" width="3" height="30" fill="url(#vp)"/>
<rect x="194" y="882" width="1" height="28" fill="url(#vpi)"/>
<rect x="197" y="844" width="3" height="67" fill="url(#vp)"/>
<rect x="198" y="845" width="1" height="65" fill="url(#vpi)"/>
<rect x="201" y="853" width="3" height="58" fill="url(#vp)"/>
<rect x="202" y="854" width="1" height="56" fill="url(#vpi)"/>
<rect x="205" y="836" width="3" height="75" fill="url(#vp)"/>
<rect x="206" y="837" width="1" height="73" fill="url(#vpi)"/>
<rect x="209" y="887" width="3" height="24" fill="url(#vg)"/>
<rect x="210" y="888" width="1" height="22" fill="url(#vgi)"/>
<rect x="213" y="895" width="3" height="16" fill="url(#vp)"/>
<rect x="214" y="896" width="1" height="14" fill="url(#vpi)"/>
<rect x="217" y="878" width="3" height="33" fill="url(#vg)"/>
<rect x="218" y="879" width="1" height="31" fill="url(#vgi)"/>
<rect x="221" y="873" width="3" height="38" fill="url(#vg)"/>
<rect x="222" y="874" width="1" height="36" fill="url(#vgi)"/>
<rect x="225" y="865" width="3" height="46" fill="url(#vg)"/>
<rect x="226" y="866" width="1" height="44" fill="url(#vgi)"/>
<rect x="229" y="858" width="3" height="53" fill="url(#vp)"/>
<rect x="230" y="859" width="1" height="51" fill="url(#vpi)"/>
<rect x="233" y="861" width="3" height="50" fill="url(#vp)"/>
<rect x="234" y="862" width="1" height="48" fill="url(#vpi)"/>
<rect x="237" y="891" width="3" height="20" fill="url(#vg)"/>
<rect x="238" y="892" width="1" height="18" fill="url(#vgi)"/>
<rect x="241" y="884" width="3" height="27" fill="url(#vg)"/>
<rect x="242" y="885" width="1" height="25" fill="url(#vgi)"/>
<rect x="245" y="826" width="3" height="85" fill="url(#vp)"/>
<rect x="246" y="827" width="1" height="83" fill="url(#vpi)"/>
<rect x="249" y="832" width="3" height="79" fill="url(#vg)"/>
<rect x="250" y="833" width="1" height="77" fill="url(#vgi)"/>
<rect x="253" y="823" width="3" height="88" fill="url(#vp)"/>
<rect x="254" y="824" width="1" height="86" fill="url(#vpi)"/>
<rect x="257" y="881" width="3" height="30" fill="url(#vp)"/>
<rect x="258" y="882" width="1" height="28" fill="url(#vpi)"/>
<rect x="261" y="892" width="3" height="19" fill="url(#vg)"/>
<rect x="262" y="893" width="1" height="17" fill="url(#vgi)"/>
<rect x="265" y="882" width="3" height="29" fill="url(#vp)"/>
<rect x="266" y="883" width="1" height="27" fill="url(#vpi)"/>
<rect x="269" y="852" width="3" height="59" fill="url(#vp)"/>
<rect x="270" y="853" width="1" height="57" fill="url(#vpi)"/>
<rect x="273" y="867" width="3" height="44" fill="url(#vp)"/>
<rect x="274" y="868" width="1" height="42" fill="url(#vpi)"/>
<rect x="277" y="848" width="3" height="63" fill="url(#vg)"/>
<rect x="278" y="849" width="1" height="61" fill="url(#vgi)"/>
<rect x="281" y="887" width="3" height="24" fill="url(#vp)"/>
<rect x="282" y="888" width="1" height="22" fill="url(#vpi)"/>
<rect x="285" y="890" width="3" height="21" fill="url(#vg)"/>
<rect x="286" y="891" width="1" height="19" fill="url(#vgi)"/>
<rect x="289" y="889" width="3" height="22" fill="url(#vg)"/>
<rect x="290" y="890" width="1" height="20" fill="url(#vgi)"/>
<rect x="293" y="858" width="3" height="53" fill="url(#vg)"/>
<rect x="294" y="859" width="1" height="51" fill="url(#vgi)"/>
<rect x="297" y="870" width="3" height="41" fill="url(#vg)"/>
<rect x="298" y="871" width="1" height="39" fill="url(#vgi)"/>
<rect x="301" y="847" width="3" height="64" fill="url(#vp)"/>
<rect x="302" y="848" width="1" height="62" fill="url(#vpi)"/>
<rect x="305" y="897" width="3" height="14" fill="url(#vp)"/>
<rect x="306" y="898" width="1" height="12" fill="url(#vpi)"/>
<rect x="309" y="889" width="3" height="22" fill="url(#vg)"/>
<rect x="310" y="890" width="1" height="20" fill="url(#vgi)"/>
<rect x="313" y="892" width="3" height="19" fill="url(#vg)"/>
<rect x="314" y="893" width="1" height="17" fill="url(#vgi)"/>
<rect x="317" y="862" width="3" height="49" fill="url(#vp)"/>
<rect x="318" y="863" width="1" height="47" fill="url(#vpi)"/>
<rect x="321" y="861" width="3" height="50" fill="url(#vp)"/>
<rect x="322" y="862" width="1" height="48" fill="url(#vpi)"/>
<rect x="325" y="847" width="3" height="64" fill="url(#vg)"/>
<rect x="326" y="848" width="1" height="62" fill="url(#vgi)"/>
<rect x="329" y="894" width="3" height="17" fill="url(#vp)"/>
<rect x="330" y="895" width="1" height="15" fill="url(#vpi)"/>
<rect x="333" y="895" width="3" height="16" fill="url(#vg)"/>
<rect x="334" y="896" width="1" height="14" fill="url(#vgi)"/>
<rect x="337" y="890" width="3" height="21" fill="url(#vp)"/>
<rect x="338" y="891" width="1" height="19" fill="url(#vpi)"/>
<rect x="341" y="871" width="3" height="40" fill="url(#vg)"/>
<rect x="342" y="872" width="1" height="38" fill="url(#vgi)"/>
<rect x="345" y="870" width="3" height="41" fill="url(#vg)"/>
<rect x="346" y="871" width="1" height="39" fill="url(#vgi)"/>
<rect x="349" y="853" width="3" height="58" fill="url(#vg)"/>
<rect x="350" y="854" width="1" height="56" fill="url(#vgi)"/>
<rect x="353" y="883" width="3" height="28" fill="url(#vg)"/>
<rect x="354" y="884" width="1" height="26" fill="url(#vgi)"/>
<rect x="357" y="896" width="3" height="15" fill="url(#vg)"/>
<rect x="358" y="897" width="1" height="13" fill="url(#vgi)"/>
<rect x="361" y="892" width="3" height="19" fill="url(#vp)"/>
<rect x="362" y="893" width="1" height="17" fill="url(#vpi)"/>
<rect x="365" y="865" width="3" height="46" fill="url(#vg)"/>
<rect x="366" y="866" width="1" height="44" fill="url(#vgi)"/>
<rect x="369" y="859" width="3" height="52" fill="url(#vp)"/>
<rect x="370" y="860" width="1" height="50" fill="url(#vpi)"/>
<rect x="373" y="837" width="3" height="74" fill="url(#vp)"/>
<rect x="374" y="838" width="1" height="72" fill="url(#vpi)"/>
<rect x="377" y="887" width="3" height="24" fill="url(#vp)"/>
<rect x="378" y="888" width="1" height="22" fill="url(#vpi)"/>
<rect x="381" y="893" width="3" height="18" fill="url(#vp)"/>
<rect x="382" y="894" width="1" height="16" fill="url(#vpi)"/>
<rect x="385" y="890" width="3" height="21" fill="url(#vg)"/>
<rect x="386" y="891" width="1" height="19" fill="url(#vgi)"/>
<rect x="389" y="872" width="3" height="39" fill="url(#vg)"/>
<rect x="390" y="873" width="1" height="37" fill="url(#vgi)"/>
<rect x="393" y="869" width="3" height="42" fill="url(#vg)"/>
<rect x="394" y="870" width="1" height="40" fill="url(#vgi)"/>
<rect x="397" y="806" width="3" height="105" fill="url(#vg)"/>
<rect x="398" y="807" width="1" height="103" fill="url(#vgi)"/>
<rect x="401" y="892" width="3" height="19" fill="url(#vp)"/>
<rect x="402" y="893" width="1" height="17" fill="url(#vpi)"/>
<rect x="405" y="895" width="3" height="16" fill="url(#vp)"/>
<rect x="406" y="896" width="1" height="14" fill="url(#vpi)"/>
<rect x="409" y="892" width="3" height="19" fill="url(#vg)"/>
<rect x="410" y="893" width="1" height="17" fill="url(#vgi)"/>
<rect x="413" y="884" width="3" height="27" fill="url(#vg)"/>
<rect x="414" y="885" width="1" height="25" fill="url(#vgi)"/>
<rect x="417" y="885" width="3" height="26" fill="url(#vp)"/>
<rect x="418" y="886" width="1" height="24" fill="url(#vpi)"/>
<rect x="421" y="874" width="3" height="37" fill="url(#vg)"/>
<rect x="422" y="875" width="1" height="35" fill="url(#vgi)"/>
<rect x="425" y="900" width="3" height="11" fill="url(#vp)"/>
<rect x="426" y="901" width="1" height="9" fill="url(#vpi)"/>
<rect x="429" y="894" width="3" height="17" fill="url(#vg)"/>
<rect x="430" y="895" width="1" height="15" fill="url(#vgi)"/>
<rect x="433" y="887" width="3" height="24" fill="url(#vg)"/>
<rect x="434" y="888" width="1" height="22" fill="url(#vgi)"/>
<rect x="437" y="869" width="3" height="42" fill="url(#vp)"/>
<rect x="438" y="870" width="1" height="40" fill="url(#vpi)"/>
<rect x="441" y="844" width="3" height="67" fill="url(#vp)"/>
<rect x="442" y="845" width="1" height="65" fill="url(#vpi)"/>
<rect x="445" y="815" width="3" height="96" fill="url(#vp)"/>
<rect x="446" y="816" width="1" height="94" fill="url(#vpi)"/>
<rect x="449" y="887" width="3" height="24" fill="url(#vg)"/>
<rect x="450" y="888" width="1" height="22" fill="url(#vgi)"/>
<rect x="453" y="888" width="3" height="23" fill="url(#vg)"/>
<rect x="454" y="889" width="1" height="21" fill="url(#vgi)"/>
<rect x="457" y="888" width="3" height="23" fill="url(#vg)"/>
<rect x="458" y="889" width="1" height="21" fill="url(#vgi)"/>
<rect x="461" y="861" width="3" height="50" fill="url(#vg)"/>
<rect x="462" y="862" width="1" height="48" fill="url(#vgi)"/>
<rect x="465" y="858" width="3" height="53" fill="url(#vp)"/>
<rect x="466" y="859" width="1" height="51" fill="url(#vpi)"/>
<rect x="469" y="847" width="3" height="64" fill="url(#vp)"/>
<rect x="470" y="848" width="1" height="62" fill="url(#vpi)"/>
<rect x="473" y="893" width="3" height="18" fill="url(#vp)"/>
<rect x="474" y="894" width="1" height="16" fill="url(#vpi)"/>
<rect x="477" y="895" width="3" height="16" fill="url(#vg)"/>
<rect x="478" y="896" width="1" height="14" fill="url(#vgi)"/>
<rect x="481" y="900" width="3" height="11" fill="url(#vg)"/>
<rect x="482" y="901" width="1" height="9" fill="url(#vgi)"/>
<rect x="485" y="883" width="3" height="28" fill="url(#vg)"/>
<rect x="486" y="884" width="1" height="26" fill="url(#vgi)"/>
<rect x="489" y="880" width="3" height="31" fill="url(#vg)"/>
<rect x="490" y="881" width="1" height="29" fill="url(#vgi)"/>
<rect x="493" y="860" width="3" height="51" fill="url(#vg)"/>
<rect x="494" y="861" width="1" height="49" fill="url(#vgi)"/>
<rect x="497" y="897" width="3" height="14" fill="url(#vp)"/>
<rect x="498" y="898" width="1" height="12" fill="url(#vpi)"/>
<rect x="501" y="898" width="3" height="13" fill="url(#vg)"/>
<rect x="502" y="899" width="1" height="11" fill="url(#vgi)"/>
<rect x="505" y="882" width="3" height="29" fill="url(#vg)"/>
<rect x="506" y="883" width="1" height="27" fill="url(#vgi)"/>
<rect x="509" y="880" width="3" height="31" fill="url(#vp)"/>
<rect x="510" y="881" width="1" height="29" fill="url(#vpi)"/>
<rect x="513" y="848" width="3" height="63" fill="url(#vg)"/>
<rect x="514" y="849" width="1" height="61" fill="url(#vgi)"/>
<rect x="517" y="833" width="3" height="78" fill="url(#vp)"/>
<rect x="518" y="834" width="1" height="76" fill="url(#vpi)"/>
<rect x="521" y="891" width="3" height="20" fill="url(#vp)"/>
<rect x="522" y="892" width="1" height="18" fill="url(#vpi)"/>
<rect x="525" y="898" width="3" height="13" fill="url(#vg)"/>
<rect x="526" y="899" width="1" height="11" fill="url(#vgi)"/>
<rect x="529" y="898" width="3" height="13" fill="url(#vp)"/>
<rect x="530" y="899" width="1" height="11" fill="url(#vpi)"/>
<rect x="533" y="886" width="3" height="25" fill="url(#vg)"/>
<rect x="534" y="887" width="1" height="23" fill="url(#vgi)"/>
<rect x="537" y="888" width="3" height="23" fill="url(#vp)"/>
<rect x="538" y="889" width="1" height="21" fill="url(#vpi)"/>
<rect x="541" y="889" width="3" height="22" fill="url(#vp)"/>
<rect x="542" y="890" width="1" height="20" fill="url(#vpi)"/>
<rect x="545" y="880" width="3" height="31" fill="url(#vp)"/>
<rect x="546" y="881" width="1" height="29" fill="url(#vpi)"/>
<rect x="549" y="894" width="3" height="17" fill="url(#vg)"/>
<rect x="550" y="895" width="1" height="15" fill="url(#vgi)"/>
<rect x="553" y="888" width="3" height="23" fill="url(#vp)"/>
<rect x="554" y="889" width="1" height="21" fill="url(#vpi)"/>
<rect x="557" y="864" width="3" height="47" fill="url(#vp)"/>
<rect x="558" y="865" width="1" height="45" fill="url(#vpi)"/>
<rect x="561" y="855" width="3" height="56" fill="url(#vp)"/>
<rect x="562" y="856" width="1" height="54" fill="url(#vpi)"/>
<rect x="565" y="853" width="3" height="58" fill="url(#vg)"/>
<rect x="566" y="854" width="1" height="56" fill="url(#vgi)"/>
<rect x="569" y="893" width="3" height="18" fill="url(#vg)"/>
<rect x="570" y="894" width="1" height="16" fill="url(#vgi)"/>
<rect x="573" y="897" width="3" height="14" fill="url(#vg)"/>
<rect x="574" y="898" width="1" height="12" fill="url(#vgi)"/>
<rect x="577" y="897" width="3" height="14" fill="url(#vp)"/>
<rect x="578" y="898" width="1" height="12" fill="url(#vpi)"/>
<rect x="581" y="856" width="3" height="55" fill="url(#vp)"/>
<rect x="582" y="857" width="1" height="53" fill="url(#vpi)"/>
<rect x="585" y="866" width="3" height="45" fill="url(#vg)"/>
<rect x="586" y="867" width="1" height="43" fill="url(#vgi)"/>
<rect x="589" y="840" width="3" height="71" fill="url(#vg)"/>
<rect x="590" y="841" width="1" height="69" fill="url(#vgi)"/>
<rect x="593" y="891" width="3" height="20" fill="url(#vp)"/>
<rect x="594" y="892" width="1" height="18" fill="url(#vpi)"/>
<rect x="597" y="898" width="3" height="13" fill="url(#vp)"/>
<rect x="598" y="899" width="1" height="11" fill="url(#vpi)"/>
<rect x="601" y="892" width="3" height="19" fill="url(#vp)"/>
<rect x="602" y="893" width="1" height="17" fill="url(#vpi)"/>
<rect x="605" y="864" width="3" height="47" fill="url(#vg)"/>
<rect x="606" y="865" width="1" height="45" fill="url(#vgi)"/>
<rect x="609" y="849" width="3" height="62" fill="url(#vg)"/>
<rect x="610" y="850" width="1" height="60" fill="url(#vgi)"/>
<rect x="613" y="848" width="3" height="63" fill="url(#vp)"/>
<rect x="614" y="849" width="1" height="61" fill="url(#vpi)"/>
<rect x="617" y="873" width="3" height="38" fill="url(#vp)"/>
<rect x="618" y="874" width="1" height="36" fill="url(#vpi)"/>
<rect x="621" y="893" width="3" height="18" fill="url(#vg)"/>
<rect x="622" y="894" width="1" height="16" fill="url(#vgi)"/>
<rect x="625" y="892" width="3" height="19" fill="url(#vg)"/>
<rect x="626" y="893" width="1" height="17" fill="url(#vgi)"/>
<rect x="629" y="874" width="3" height="37" fill="url(#vg)"/>
<rect x="630" y="875" width="1" height="35" fill="url(#vgi)"/>
<rect x="633" y="871" width="3" height="40" fill="url(#vg)"/>
<rect x="634" y="872" width="1" height="38" fill="url(#vgi)"/>
<rect x="637" y="851" width="3" height="60" fill="url(#vp)"/>
<rect x="638" y="852" width="1" height="58" fill="url(#vpi)"/>
<rect x="641" y="891" width="3" height="20" fill="url(#vp)"/>
<rect x="642" y="892" width="1" height="18" fill="url(#vpi)"/>
<rect x="645" y="894" width="3" height="17" fill="url(#vg)"/>
<rect x="646" y="895" width="1" height="15" fill="url(#vgi)"/>
<rect x="649" y="892" width="3" height="19" fill="url(#vp)"/>
<rect x="650" y="893" width="1" height="17" fill="url(#vpi)"/>
<rect x="653" y="867" width="3" height="44" fill="url(#vg)"/>
<rect x="654" y="868" width="1" height="42" fill="url(#vgi)"/>
<rect x="657" y="875" width="3" height="36" fill="url(#vg)"/>
<rect x="658" y="876" width="1" height="34" fill="url(#vgi)"/>
<rect x="661" y="853" width="3" height="58" fill="url(#vp)"/>
<rect x="662" y="854" width="1" height="56" fill="url(#vpi)"/>
<rect x="665" y="895" width="3" height="16" fill="url(#vg)"/>
<rect x="666" y="896" width="1" height="14" fill="url(#vgi)"/>
<rect x="669" y="897" width="3" height="14" fill="url(#vg)"/>
<rect x="670" y="898" width="1" height="12" fill="url(#vgi)"/>
<rect x="673" y="892" width="3" height="19" fill="url(#vg)"/>
<rect x="674" y="893" width="1" height="17" fill="url(#vgi)"/>
<rect x="677" y="867" width="3" height="44" fill="url(#vg)"/>
<rect x="678" y="868" width="1" height="42" fill="url(#vgi)"/>
<rect x="681" y="854" width="3" height="57" fill="url(#vg)"/>
<rect x="682" y="855" width="1" height="55" fill="url(#vgi)"/>
<rect x="685" y="832" width="3" height="79" fill="url(#vp)"/>
<rect x="686" y="833" width="1" height="77" fill="url(#vpi)"/>
<rect x="689" y="884" width="3" height="27" fill="url(#vp)"/>
<rect x="690" y="885" width="1" height="25" fill="url(#vpi)"/>
<rect x="693" y="892" width="3" height="19" fill="url(#vp)"/>
<rect x="694" y="893" width="1" height="17" fill="url(#vpi)"/>
<rect x="697" y="890" width="3" height="21" fill="url(#vg)"/>
<rect x="698" y="891" width="1" height="19" fill="url(#vgi)"/>
<rect x="701" y="862" width="3" height="49" fill="url(#vp)"/>
<rect x="702" y="863" width="1" height="47" fill="url(#vpi)"/>
<rect x="705" y="856" width="3" height="55" fill="url(#vp)"/>
<rect x="706" y="857" width="1" height="53" fill="url(#vpi)"/>
<rect x="709" y="839" width="3" height="72" fill="url(#vg)"/>
<rect x="710" y="840" width="1" height="70" fill="url(#vgi)"/>
<rect x="713" y="896" width="3" height="15" fill="url(#vg)"/>
<rect x="714" y="897" width="1" height="13" fill="url(#vgi)"/>
<rect x="717" y="894" width="3" height="17" fill="url(#vg)"/>
<rect x="718" y="895" width="1" height="15" fill="url(#vgi)"/>
<rect x="721" y="884" width="3" height="27" fill="url(#vp)"/>
<rect x="722" y="885" width="1" height="25" fill="url(#vpi)"/>
<rect x="725" y="865" width="3" height="46" fill="url(#vg)"/>
<rect x="726" y="866" width="1" height="44" fill="url(#vgi)"/>
<rect x="729" y="858" width="3" height="53" fill="url(#vg)"/>
<rect x="730" y="859" width="1" height="51" fill="url(#vgi)"/>
<rect x="733" y="848" width="3" height="63" fill="url(#vp)"/>
<rect x="734" y="849" width="1" height="61" fill="url(#vpi)"/>
<rect x="737" y="882" width="3" height="29" fill="url(#vg)"/>
<rect x="738" y="883" width="1" height="27" fill="url(#vgi)"/>
<rect x="741" y="892" width="3" height="19" fill="url(#vg)"/>
<rect x="742" y="893" width="1" height="17" fill="url(#vgi)"/>
<rect x="745" y="889" width="3" height="22" fill="url(#vg)"/>
<rect x="746" y="890" width="1" height="20" fill="url(#vgi)"/>
<rect x="749" y="870" width="3" height="41" fill="url(#vg)"/>
<rect x="750" y="871" width="1" height="39" fill="url(#vgi)"/>
<rect x="753" y="864" width="3" height="47" fill="url(#vg)"/>
<rect x="754" y="865" width="1" height="45" fill="url(#vgi)"/>
<rect x="757" y="841" width="3" height="70" fill="url(#vp)"/>
<rect x="758" y="842" width="1" height="68" fill="url(#vpi)"/>
<rect x="761" y="886" width="3" height="25" fill="url(#vp)"/>
<rect x="762" y="887" width="1" height="23" fill="url(#vpi)"/>
<rect x="765" y="901" width="3" height="10" fill="url(#vg)"/>
<rect x="766" y="902" width="1" height="8" fill="url(#vgi)"/>
<rect x="769" y="892" width="3" height="19" fill="url(#vp)"/>
<rect x="770" y="893" width="1" height="17" fill="url(#vpi)"/>
<rect x="773" y="852" width="3" height="59" fill="url(#vp)"/>
<rect x="774" y="853" width="1" height="57" fill="url(#vpi)"/>
<rect x="777" y="843" width="3" height="68" fill="url(#vp)"/>
<rect x="778" y="844" width="1" height="66" fill="url(#vpi)"/>
<rect x="781" y="831" width="3" height="80" fill="url(#vp)"/>
<rect x="782" y="832" width="1" height="78" fill="url(#vpi)"/>
<rect x="785" y="879" width="3" height="32" fill="url(#vg)"/>
<rect x="786" y="880" width="1" height="30" fill="url(#vgi)"/>
<rect x="789" y="891" width="3" height="20" fill="url(#vg)"/>
<rect x="790" y="892" width="1" height="18" fill="url(#vgi)"/>
<rect x="793" y="884" width="3" height="27" fill="url(#vg)"/>
<rect x="794" y="885" width="1" height="25" fill="url(#vgi)"/>
<rect x="797" y="854" width="3" height="57" fill="url(#vg)"/>
<rect x="798" y="855" width="1" height="55" fill="url(#vgi)"/>
<rect x="801" y="858" width="3" height="53" fill="url(#vp)"/>
<rect x="802" y="859" width="1" height="51" fill="url(#vpi)"/>
<rect x="805" y="825" width="3" height="86" fill="url(#vp)"/>
<rect x="806" y="826" width="1" height="84" fill="url(#vpi)"/>
<rect x="809" y="878" width="3" height="33" fill="url(#vp)"/>
<rect x="810" y="879" width="1" height="31" fill="url(#vpi)"/>
<rect x="813" y="890" width="3" height="21" fill="url(#vg)"/>
<rect x="814" y="891" width="1" height="19" fill="url(#vgi)"/>
<rect x="817" y="856" width="3" height="55" fill="url(#vg)"/>
<rect x="818" y="857" width="1" height="53" fill="url(#vgi)"/>
<rect x="821" y="864" width="3" height="47" fill="url(#vp)"/>
<rect x="822" y="865" width="1" height="45" fill="url(#vpi)"/>
<rect x="825" y="871" width="3" height="40" fill="url(#vg)"/>
<rect x="826" y="872" width="1" height="38" fill="url(#vgi)"/>
<rect x="829" y="852" width="3" height="59" fill="url(#vg)"/>
<rect x="830" y="853" width="1" height="57" fill="url(#vgi)"/>
<rect x="833" y="775" width="3" height="136" fill="url(#vp)"/>
<rect x="834" y="776" width="1" height="134" fill="url(#vpi)"/>
<rect x="837" y="898" width="3" height="13" fill="url(#vg)"/>
<rect x="838" y="899" width="1" height="11" fill="url(#vgi)"/>
<rect x="841" y="896" width="3" height="15" fill="url(#vg)"/>
<rect x="842" y="897" width="1" height="13" fill="url(#vgi)"/>
<rect x="845" y="856" width="3" height="55" fill="url(#vg)"/>
<rect x="846" y="857" width="1" height="53" fill="url(#vgi)"/>
<rect x="849" y="808" width="3" height="103" fill="url(#vg)"/>
<rect x="850" y="809" width="1" height="101" fill="url(#vgi)"/>
<rect x="853" y="834" width="3" height="77" fill="url(#vg)"/>
<rect x="854" y="835" width="1" height="75" fill="url(#vgi)"/>
<rect x="857" y="877" width="3" height="34" fill="url(#vp)"/>
<rect x="858" y="878" width="1" height="32" fill="url(#vpi)"/>
<rect x="861" y="892" width="3" height="19" fill="url(#vg)"/>
<rect x="862" y="893" width="1" height="17" fill="url(#vgi)"/>
<rect x="865" y="888" width="3" height="23" fill="url(#vp)"/>
<rect x="866" y="889" width="1" height="21" fill="url(#vpi)"/>
<rect x="869" y="847" width="3" height="64" fill="url(#vp)"/>
<rect x="870" y="848" width="1" height="62" fill="url(#vpi)"/>
<rect x="873" y="852" width="3" height="59" fill="url(#vp)"/>
<rect x="874" y="853" width="1" height="57" fill="url(#vpi)"/>
<rect x="877" y="842" width="3" height="69" fill="url(#vg)"/>
<rect x="878" y="843" width="1" height="67" fill="url(#vgi)"/>
<rect x="881" y="892" width="3" height="19" fill="url(#vp)"/>
<rect x="882" y="893" width="1" height="17" fill="url(#vpi)"/>
<rect x="885" y="894" width="3" height="17" fill="url(#vg)"/>
<rect x="886" y="895" width="1" height="15" fill="url(#vgi)"/>
<rect x="889" y="889" width="3" height="22" fill="url(#vp)"/>
<rect x="890" y="890" width="1" height="20" fill="url(#vpi)"/>
<rect x="893" y="851" width="3" height="60" fill="url(#vg)"/>
<rect x="894" y="852" width="1" height="58" fill="url(#vgi)"/>
<rect x="897" y="838" width="3" height="73" fill="url(#vg)"/>
<rect x="898" y="839" width="1" height="71" fill="url(#vgi)"/>
<rect x="901" y="833" width="3" height="78" fill="url(#vg)"/>
<rect x="902" y="834" width="1" height="76" fill="url(#vgi)"/>
<rect x="905" y="892" width="3" height="19" fill="url(#vp)"/>
<rect x="906" y="893" width="1" height="17" fill="url(#vpi)"/>
<rect x="909" y="895" width="3" height="16" fill="url(#vg)"/>
<rect x="910" y="896" width="1" height="14" fill="url(#vgi)"/>
<rect x="913" y="890" width="3" height="21" fill="url(#vg)"/>
<rect x="914" y="891" width="1" height="19" fill="url(#vgi)"/>
<rect x="917" y="834" width="3" height="77" fill="url(#vp)"/>
<rect x="918" y="835" width="1" height="75" fill="url(#vpi)"/>
<rect x="921" y="808" width="3" height="103" fill="url(#vp)"/>
<rect x="922" y="809" width="1" height="101" fill="url(#vpi)"/>
<rect x="925" y="798" width="3" height="113" fill="url(#vp)"/>
<rect x="926" y="799" width="1" height="111" fill="url(#vpi)"/>
<rect x="929" y="870" width="3" height="41" fill="url(#vg)"/>
<rect x="930" y="871" width="1" height="39" fill="url(#vgi)"/>
<rect x="933" y="886" width="3" height="25" fill="url(#vg)"/>
<rect x="934" y="887" width="1" height="23" fill="url(#vgi)"/>
<rect x="937" y="875" width="3" height="36" fill="url(#vp)"/>
<rect x="938" y="876" width="1" height="34" fill="url(#vpi)"/>
<rect x="941" y="823" width="3" height="88" fill="url(#vp)"/>
<rect x="942" y="824" width="1" height="86" fill="url(#vpi)"/>
<rect x="945" y="840" width="3" height="71" fill="url(#vp)"/>
<rect x="946" y="841" width="1" height="69" fill="url(#vpi)"/>
<rect x="949" y="811" width="3" height="100" fill="url(#vg)"/>
<rect x="950" y="812" width="1" height="98" fill="url(#vgi)"/>
<rect x="953" y="870" width="3" height="41" fill="url(#vp)"/>
<rect x="954" y="871" width="1" height="39" fill="url(#vpi)"/>
<rect x="957" y="891" width="3" height="20" fill="url(#vg)"/>
<rect x="958" y="892" width="1" height="18" fill="url(#vgi)"/>
<rect x="961" y="871" width="3" height="40" fill="url(#vg)"/>
<rect x="962" y="872" width="1" height="38" fill="url(#vgi)"/>
<rect x="965" y="849" width="3" height="62" fill="url(#vp)"/>
<rect x="966" y="850" width="1" height="60" fill="url(#vpi)"/>
<rect x="969" y="844" width="3" height="67" fill="url(#vg)"/>
<rect x="970" y="845" width="1" height="65" fill="url(#vgi)"/>
<rect x="973" y="784" width="3" height="127" fill="url(#vp)"/>
<rect x="974" y="785" width="1" height="125" fill="url(#vpi)"/>
<rect x="977" y="858" width="3" height="53" fill="url(#vp)"/>
<rect x="978" y="859" width="1" height="51" fill="url(#vpi)"/>
<rect x="981" y="886" width="3" height="25" fill="url(#vg)"/>
<rect x="982" y="887" width="1" height="23" fill="url(#vgi)"/>
<rect x="985" y="865" width="3" height="46" fill="url(#vp)"/>
<rect x="986" y="866" width="1" height="44" fill="url(#vpi)"/>
<rect x="989" y="811" width="3" height="100" fill="url(#vg)"/>
<rect x="990" y="812" width="1" height="98" fill="url(#vgi)"/>
<rect x="993" y="816" width="3" height="95" fill="url(#vg)"/>
<rect x="994" y="817" width="1" height="93" fill="url(#vgi)"/>
<rect x="997" y="778" width="3" height="133" fill="url(#vg)"/>
<rect x="998" y="779" width="1" height="131" fill="url(#vgi)"/>
<rect x="1001" y="879" width="3" height="32" fill="url(#vp)"/>
<rect x="1002" y="880" width="1" height="30" fill="url(#vpi)"/>
<rect x="1005" y="890" width="3" height="21" fill="url(#vg)"/>
<rect x="1006" y="891" width="1" height="19" fill="url(#vgi)"/>
<rect x="1009" y="876" width="3" height="35" fill="url(#vg)"/>
<rect x="1010" y="877" width="1" height="33" fill="url(#vgi)"/>
<rect x="1013" y="839" width="3" height="72" fill="url(#vg)"/>
<rect x="1014" y="840" width="1" height="70" fill="url(#vgi)"/>
<rect x="1017" y="836" width="3" height="75" fill="url(#vg)"/>
<rect x="1018" y="837" width="1" height="73" fill="url(#vgi)"/>
<rect x="1021" y="800" width="3" height="111" fill="url(#vp)"/>
<rect x="1022" y="801" width="1" height="109" fill="url(#vpi)"/>
<rect x="1025" y="871" width="3" height="40" fill="url(#vg)"/>
<rect x="1026" y="872" width="1" height="38" fill="url(#vgi)"/>
<rect x="1029" y="885" width="3" height="26" fill="url(#vp)"/>
<rect x="1030" y="886" width="1" height="24" fill="url(#vpi)"/>
<rect x="1033" y="876" width="3" height="35" fill="url(#vg)"/>
<rect x="1034" y="877" width="1" height="33" fill="url(#vgi)"/>
<rect x="1037" y="834" width="3" height="77" fill="url(#vg)"/>
<rect x="1038" y="835" width="1" height="75" fill="url(#vgi)"/>
<rect x="1041" y="853" width="3" height="58" fill="url(#vg)"/>
<rect x="1042" y="854" width="1" height="56" fill="url(#vgi)"/>
<rect x="1045" y="823" width="3" height="88" fill="url(#vg)"/>
<rect x="1046" y="824" width="1" height="86" fill="url(#vgi)"/>
<rect x="1049" y="887" width="3" height="24" fill="url(#vp)"/>
<rect x="1050" y="888" width="1" height="22" fill="url(#vpi)"/>
<rect x="1053" y="889" width="3" height="22" fill="url(#vg)"/>
<rect x="1054" y="890" width="1" height="20" fill="url(#vgi)"/>
<rect x="1057" y="874" width="3" height="37" fill="url(#vp)"/>
<rect x="1058" y="875" width="1" height="35" fill="url(#vpi)"/>
<rect x="1061" y="817" width="3" height="94" fill="url(#vp)"/>
<rect x="1062" y="818" width="1" height="92" fill="url(#vpi)"/>
<rect x="1065" y="803" width="3" height="108" fill="url(#vg)"/>
<rect x="1066" y="804" width="1" height="106" fill="url(#vgi)"/>
<rect x="1069" y="800" width="3" height="111" fill="url(#vp)"/>
<rect x="1070" y="801" width="1" height="109" fill="url(#vpi)"/>
<rect x="1073" y="860" width="3" height="51" fill="url(#vg)"/>
<rect x="1074" y="861" width="1" height="49" fill="url(#vgi)"/>
<rect x="1077" y="889" width="3" height="22" fill="url(#vg)"/>
<rect x="1078" y="890" width="1" height="20" fill="url(#vgi)"/>
<rect x="1081" y="888" width="3" height="23" fill="url(#vp)"/>
<rect x="1082" y="889" width="1" height="21" fill="url(#vpi)"/>
<rect x="1085" y="841" width="3" height="70" fill="url(#vg)"/>
<rect x="1086" y="842" width="1" height="68" fill="url(#vgi)"/>
<rect x="1089" y="846" width="3" height="65" fill="url(#vg)"/>
<rect x="1090" y="847" width="1" height="63" fill="url(#vgi)"/>
<rect x="1093" y="831" width="3" height="80" fill="url(#vg)"/>
<rect x="1094" y="832" width="1" height="78" fill="url(#vgi)"/>
<rect x="1097" y="886" width="3" height="25" fill="url(#vp)"/>
<rect x="1098" y="887" width="1" height="23" fill="url(#vpi)"/>
<rect x="1101" y="893" width="3" height="18" fill="url(#vg)"/>
<rect x="1102" y="894" width="1" height="16" fill="url(#vgi)"/>
<rect x="1105" y="861" width="3" height="50" fill="url(#vg)"/>
<rect x="1106" y="862" width="1" height="48" fill="url(#vgi)"/>
<rect x="1109" y="849" width="3" height="62" fill="url(#vg)"/>
<rect x="1110" y="850" width="1" height="60" fill="url(#vgi)"/>
<rect x="1113" y="821" width="3" height="90" fill="url(#vp)"/>
<rect x="1114" y="822" width="1" height="88" fill="url(#vpi)"/>
<rect x="1117" y="800" width="3" height="111" fill="url(#vg)"/>
<rect x="1118" y="801" width="1" height="109" fill="url(#vgi)"/>
<rect x="1121" y="885" width="3" height="26" fill="url(#vg)"/>
<rect x="1122" y="886" width="1" height="24" fill="url(#vgi)"/>
<rect x="1125" y="876" width="3" height="35" fill="url(#vg)"/>
<rect x="1126" y="877" width="1" height="33" fill="url(#vgi)"/>
<rect x="1129" y="875" width="3" height="36" fill="url(#vg)"/>
<rect x="1130" y="876" width="1" height="34" fill="url(#vgi)"/>
<rect x="1133" y="838" width="3" height="73" fill="url(#vg)"/>
<rect x="1134" y="839" width="1" height="71" fill="url(#vgi)"/>
<rect x="1137" y="847" width="3" height="64" fill="url(#vg)"/>
<rect x="1138" y="848" width="1" height="62" fill="url(#vgi)"/>
<rect x="1141" y="853" width="3" height="58" fill="url(#vg)"/>
<rect x="1142" y="854" width="1" height="56" fill="url(#vgi)"/>
<rect x="1145" y="879" width="3" height="32" fill="url(#vp)"/>
<rect x="1146" y="880" width="1" height="30" fill="url(#vpi)"/>
<rect x="1149" y="887" width="3" height="24" fill="url(#vg)"/>
<rect x="1150" y="888" width="1" height="22" fill="url(#vgi)"/>
<rect x="1153" y="880" width="3" height="31" fill="url(#vp)"/>
<rect x="1154" y="881" width="1" height="29" fill="url(#vpi)"/>
<rect x="1157" y="832" width="3" height="79" fill="url(#vg)"/>
<rect x="1158" y="833" width="1" height="77" fill="url(#vgi)"/>
<rect x="1161" y="836" width="3" height="75" fill="url(#vg)"/>
<rect x="1162" y="837" width="1" height="73" fill="url(#vgi)"/>
<rect x="1165" y="800" width="3" height="111" fill="url(#vp)"/>
<rect x="1166" y="801" width="1" height="109" fill="url(#vpi)"/>
<rect x="1169" y="880" width="3" height="31" fill="url(#vp)"/>
<rect x="1170" y="881" width="1" height="29" fill="url(#vpi)"/>
<rect x="1173" y="886" width="3" height="25" fill="url(#vp)"/>
<rect x="1174" y="887" width="1" height="23" fill="url(#vpi)"/>
<rect x="1177" y="885" width="3" height="26" fill="url(#vg)"/>
<rect x="1178" y="886" width="1" height="24" fill="url(#vgi)"/>
<rect x="1181" y="851" width="3" height="60" fill="url(#vg)"/>
<rect x="1182" y="852" width="1" height="58" fill="url(#vgi)"/>
<rect x="1185" y="827" width="3" height="84" fill="url(#vp)"/>
<rect x="1186" y="828" width="1" height="82" fill="url(#vpi)"/>
<rect x="1189" y="805" width="3" height="106" fill="url(#vg)"/>
<rect x="1190" y="806" width="1" height="104" fill="url(#vgi)"/>
<rect x="1193" y="871" width="3" height="40" fill="url(#vp)"/>
<rect x="1194" y="872" width="1" height="38" fill="url(#vpi)"/>
<rect x="1197" y="896" width="3" height="15" fill="url(#vg)"/>
<rect x="1198" y="897" width="1" height="13" fill="url(#vgi)"/>
<rect x="1201" y="892" width="3" height="19" fill="url(#vg)"/>
<rect x="1202" y="893" width="1" height="17" fill="url(#vgi)"/>
<rect x="1205" y="858" width="3" height="53" fill="url(#vg)"/>
<rect x="1206" y="859" width="1" height="51" fill="url(#vgi)"/>
<rect x="1209" y="844" width="3" height="67" fill="url(#vg)"/>
<rect x="1210" y="845" width="1" height="65" fill="url(#vgi)"/>
<rect x="1213" y="841" width="3" height="70" fill="url(#vp)"/>
<rect x="1214" y="842" width="1" height="68" fill="url(#vpi)"/>
<rect x="1217" y="885" width="3" height="26" fill="url(#vp)"/>
<rect x="1218" y="886" width="1" height="24" fill="url(#vpi)"/>
<rect x="1221" y="886" width="3" height="25" fill="url(#vg)"/>
<rect x="1222" y="887" width="1" height="23" fill="url(#vgi)"/>
<rect x="1225" y="888" width="3" height="23" fill="url(#vg)"/>
<rect x="1226" y="889" width="1" height="21" fill="url(#vgi)"/>
<rect x="1229" y="837" width="3" height="74" fill="url(#vg)"/>
<rect x="1230" y="838" width="1" height="72" fill="url(#vgi)"/>
<rect x="1233" y="833" width="3" height="78" fill="url(#vg)"/>
<rect x="1234" y="834" width="1" height="76" fill="url(#vgi)"/>
<rect x="1237" y="820" width="3" height="91" fill="url(#vg)"/>
<rect x="1238" y="821" width="1" height="89" fill="url(#vgi)"/>
<rect x="1241" y="881" width="3" height="30" fill="url(#vp)"/>
<rect x="1242" y="882" width="1" height="28" fill="url(#vpi)"/>
<rect x="1245" y="867" width="3" height="44" fill="url(#vg)"/>
<rect x="1246" y="868" width="1" height="42" fill="url(#vgi)"/>
<rect x="1249" y="876" width="3" height="35" fill="url(#vp)"/>
<rect x="1250" y="877" width="1" height="33" fill="url(#vpi)"/>
<rect x="1253" y="837" width="3" height="74" fill="url(#vp)"/>
<rect x="1254" y="838" width="1" height="72" fill="url(#vpi)"/>
<rect x="1257" y="829" width="3" height="82" fill="url(#vg)"/>
<rect x="1258" y="830" width="1" height="80" fill="url(#vgi)"/>
<rect x="1261" y="833" width="3" height="78" fill="url(#vp)"/>
<rect x="1262" y="834" width="1" height="76" fill="url(#vpi)"/>
<rect x="1265" y="891" width="3" height="20" fill="url(#vg)"/>
<rect x="1266" y="892" width="1" height="18" fill="url(#vgi)"/>
<rect x="1269" y="895" width="3" height="16" fill="url(#vg)"/>
<rect x="1270" y="896" width="1" height="14" fill="url(#vgi)"/>
<rect x="1273" y="885" width="3" height="26" fill="url(#vg)"/>
<rect x="1274" y="886" width="1" height="24" fill="url(#vgi)"/>
<rect x="1277" y="840" width="3" height="71" fill="url(#vp)"/>
<rect x="1278" y="841" width="1" height="69" fill="url(#vpi)"/>
<rect x="1281" y="841" width="3" height="70" fill="url(#vg)"/>
<rect x="1282" y="842" width="1" height="68" fill="url(#vgi)"/>
<rect x="1285" y="839" width="3" height="72" fill="url(#vp)"/>
<rect x="1286" y="840" width="1" height="70" fill="url(#vpi)"/>
<rect x="1289" y="890" width="3" height="21" fill="url(#vg)"/>
<rect x="1290" y="891" width="1" height="19" fill="url(#vgi)"/>
<rect x="1293" y="888" width="3" height="23" fill="url(#vg)"/>
<rect x="1294" y="889" width="1" height="21" fill="url(#vgi)"/>
<rect x="1297" y="878" width="3" height="33" fill="url(#vp)"/>
<rect x="1298" y="879" width="1" height="31" fill="url(#vpi)"/>
<rect x="1301" y="833" width="3" height="78" fill="url(#vp)"/>
<rect x="1302" y="834" width="1" height="76" fill="url(#vpi)"/>
<rect x="1305" y="851" width="3" height="60" fill="url(#vp)"/>
<rect x="1306" y="852" width="1" height="58" fill="url(#vpi)"/>
<rect x="1309" y="838" width="3" height="73" fill="url(#vg)"/>
<rect x="1310" y="839" width="1" height="71" fill="url(#vgi)"/>
<rect x="1313" y="871" width="3" height="40" fill="url(#vg)"/>
<rect x="1314" y="872" width="1" height="38" fill="url(#vgi)"/>
<rect x="1317" y="893" width="3" height="18" fill="url(#vg)"/>
<rect x="1318" y="894" width="1" height="16" fill="url(#vgi)"/>
<rect x="1321" y="872" width="3" height="39" fill="url(#vp)"/>
<rect x="1322" y="873" width="1" height="37" fill="url(#vpi)"/>
<rect x="1325" y="840" width="3" height="71" fill="url(#vp)"/>
<rect x="1326" y="841" width="1" height="69" fill="url(#vpi)"/>
<rect x="1329" y="844" width="3" height="67" fill="url(#vp)"/>
<rect x="1330" y="845" width="1" height="65" fill="url(#vpi)"/>
<rect x="1333" y="820" width="3" height="91" fill="url(#vp)"/>
<rect x="1334" y="821" width="1" height="89" fill="url(#vpi)"/>
<rect x="1337" y="875" width="3" height="36" fill="url(#vg)"/>
<rect x="1338" y="876" width="1" height="34" fill="url(#vgi)"/>
<rect x="1341" y="883" width="3" height="28" fill="url(#vg)"/>
<rect x="1342" y="884" width="1" height="26" fill="url(#vgi)"/>
<rect x="1345" y="859" width="3" height="52" fill="url(#vp)"/>
<rect x="1346" y="860" width="1" height="50" fill="url(#vpi)"/>
<rect x="1349" y="828" width="3" height="83" fill="url(#vp)"/>
<rect x="1350" y="829" width="1" height="81" fill="url(#vpi)"/>
<rect x="1353" y="843" width="3" height="68" fill="url(#vp)"/>
<rect x="1354" y="844" width="1" height="66" fill="url(#vpi)"/>
<rect x="1357" y="795" width="3" height="116" fill="url(#vp)"/>
<rect x="1358" y="796" width="1" height="114" fill="url(#vpi)"/>
<rect x="1361" y="870" width="3" height="41" fill="url(#vg)"/>
<rect x="1362" y="871" width="1" height="39" fill="url(#vgi)"/>
<rect x="1365" y="888" width="3" height="23" fill="url(#vg)"/>
<rect x="1366" y="889" width="1" height="21" fill="url(#vgi)"/>
<rect x="1369" y="871" width="3" height="40" fill="url(#vg)"/>
<rect x="1370" y="872" width="1" height="38" fill="url(#vgi)"/>
<rect x="1373" y="852" width="3" height="59" fill="url(#vp)"/>
<rect x="1374" y="853" width="1" height="57" fill="url(#vpi)"/>
<rect x="1377" y="840" width="3" height="71" fill="url(#vg)"/>
<rect x="1378" y="841" width="1" height="69" fill="url(#vgi)"/>
<rect x="1381" y="826" width="3" height="85" fill="url(#vp)"/>
<rect x="1382" y="827" width="1" height="83" fill="url(#vpi)"/>
<rect x="1385" y="888" width="3" height="23" fill="url(#vp)"/>
<rect x="1386" y="889" width="1" height="21" fill="url(#vpi)"/>
<rect x="1389" y="895" width="3" height="16" fill="url(#vg)"/>
<rect x="1390" y="896" width="1" height="14" fill="url(#vgi)"/>
<rect x="1393" y="886" width="3" height="25" fill="url(#vg)"/>
<rect x="1394" y="887" width="1" height="23" fill="url(#vgi)"/>
<rect x="1397" y="846" width="3" height="65" fill="url(#vg)"/>
<rect x="1398" y="847" width="1" height="63" fill="url(#vgi)"/>
<rect x="1401" y="834" width="3" height="77" fill="url(#vg)"/>
<rect x="1402" y="835" width="1" height="75" fill="url(#vgi)"/>
<rect x="1405" y="825" width="3" height="86" fill="url(#vp)"/>
<rect x="1406" y="826" width="1" height="84" fill="url(#vpi)"/>
<rect x="1409" y="877" width="3" height="34" fill="url(#vp)"/>
<rect x="1410" y="878" width="1" height="32" fill="url(#vpi)"/>
<rect x="1413" y="874" width="3" height="37" fill="url(#vg)"/>
<rect x="1414" y="875" width="1" height="35" fill="url(#vgi)"/>
<rect x="1417" y="864" width="3" height="47" fill="url(#vp)"/>
<rect x="1418" y="865" width="1" height="45" fill="url(#vpi)"/>
<rect x="1421" y="828" width="3" height="83" fill="url(#vp)"/>
<rect x="1422" y="829" width="1" height="81" fill="url(#vpi)"/>
<rect x="1425" y="815" width="3" height="96" fill="url(#vg)"/>
<rect x="1426" y="816" width="1" height="94" fill="url(#vgi)"/>
<rect x="1429" y="777" width="3" height="134" fill="url(#vg)"/>
<rect x="1430" y="778" width="1" height="132" fill="url(#vgi)"/>
<rect x="1433" y="858" width="3" height="53" fill="url(#vp)"/>
<rect x="1434" y="859" width="1" height="51" fill="url(#vpi)"/>
<rect x="1437" y="886" width="3" height="25" fill="url(#vp)"/>
<rect x="1438" y="887" width="1" height="23" fill="url(#vpi)"/>
<rect x="1441" y="873" width="3" height="38" fill="url(#vp)"/>
<rect x="1442" y="874" width="1" height="36" fill="url(#vpi)"/>
<rect x="1445" y="828" width="3" height="83" fill="url(#vg)"/>
<rect x="1446" y="829" width="1" height="81" fill="url(#vgi)"/>
<rect x="1449" y="841" width="3" height="70" fill="url(#vp)"/>
<rect x="1450" y="842" width="1" height="68" fill="url(#vpi)"/>
<rect x="3" y="577" width="1" height="18" fill="#235a12"/>
<rect x="2" y="583" width="3" height="3" fill="#235a12"/>
<rect x="3" y="584" width="1" height="1" fill="#44d444"/>
<rect x="7" y="550" width="1" height="43" fill="#235a12"/>
<rect x="6" y="566" width="3" height="18" fill="#235a12"/>
<rect x="7" y="567" width="1" height="16" fill="#44d444"/>
<rect x="11" y="549" width="1" height="51" fill="#235a12"/>
<rect x="10" y="566" width="3" height="12" fill="#235a12"/>
<rect x="11" y="567" width="1" height="10" fill="#f06a6e"/>
<rect x="15" y="519" width="1" height="64" fill="#235a12"/>
<rect x="14" y="532" width="3" height="47" fill="#235a12"/>
<rect x="15" y="533" width="1" height="45" fill="#44d444"/>
<rect x="19" y="522" width="1" height="17" fill="#235a12"/>
<rect x="18" y="532" width="3" height="4" fill="#235a12"/>
<rect x="19" y="533" width="1" height="2" fill="#f06a6e"/>
<rect x="23" y="523" width="1" height="17" fill="#235a12"/>
<rect x="22" y="529" width="3" height="7" fill="#235a12"/>
<rect x="23" y="530" width="1" height="5" fill="#44d444"/>
<rect x="27" y="525" width="1" height="10" fill="#235a12"/>
<rect x="26" y="529" width="3" height="5" fill="#235a12"/>
<rect x="27" y="530" width="1" height="3" fill="#f06a6e"/>
<rect x="31" y="528" width="1" height="26" fill="#235a12"/>
<rect x="30" y="533" width="3" height="9" fill="#235a12"/>
<rect x="31" y="534" width="1" height="7" fill="#f06a6e"/>
<rect x="35" y="508" width="1" height="41" fill="#235a12"/>
<rect x="34" y="514" width="3" height="28" fill="#235a12"/>
<rect x="35" y="515" width="1" height="26" fill="#44d444"/>
<rect x="39" y="498" width="1" height="42" fill="#235a12"/>
<rect x="38" y="514" width="3" height="19" fill="#235a12"/>
<rect x="39" y="515" width="1" height="17" fill="#f06a6e"/>
<rect x="43" y="520" width="1" height="18" fill="#235a12"/>
<rect x="42" y="531" width="3" height="4" fill="#235a12"/>
<rect x="43" y="532" width="1" height="2" fill="#f06a6e"/>
<rect x="47" y="515" width="1" height="24" fill="#235a12"/>
<rect x="46" y="527" width="3" height="11" fill="#235a12"/>
<rect x="47" y="528" width="1" height="9" fill="#f06a6e"/>
<rect x="51" y="533" width="1" height="15" fill="#235a12"/>
<rect x="50" y="533" width="3" height="6" fill="#235a12"/>
<rect x="51" y="534" width="1" height="4" fill="#44d444"/>
<rect x="55" y="515" width="1" height="42" fill="#235a12"/>
<rect x="54" y="533" width="3" height="17" fill="#235a12"/>
<rect x="55" y="534" width="1" height="15" fill="#f06a6e"/>
<rect x="59" y="517" width="1" height="36" fill="#235a12"/>
<rect x="58" y="529" width="3" height="21" fill="#235a12"/>
<rect x="59" y="530" width="1" height="19" fill="#44d444"/>
<rect x="63" y="524" width="1" height="37" fill="#235a12"/>
<rect x="62" y="529" width="3" height="21" fill="#235a12"/>
<rect x="63" y="530" width="1" height="19" fill="#f06a6e"/>
<rect x="67" y="537" width="1" height="13" fill="#235a12"/>
<rect x="66" y="548" width="3" height="2" fill="#235a12"/>
<rect x="71" y="530" width="1" height="26" fill="#235a12"/>
<rect x="70" y="538" width="3" height="16" fill="#235a12"/>
<rect x="71" y="539" width="1" height="14" fill="#44d444"/>
<rect x="75" y="537" width="1" height="20" fill="#235a12"/>
<rect x="74" y="538" width="3" height="8" fill="#235a12"/>
<rect x="75" y="539" width="1" height="6" fill="#f06a6e"/>
<rect x="79" y="501" width="1" height="47" fill="#235a12"/>
<rect x="78" y="504" width="3" height="42" fill="#235a12"/>
<rect x="79" y="505" width="1" height="40" fill="#44d444"/>
<rect x="83" y="503" width="1" height="25" fill="#235a12"/>
<rect x="82" y="504" width="3" height="14" fill="#235a12"/>
<rect x="83" y="505" width="1" height="12" fill="#f06a6e"/>
<rect x="87" y="492" width="1" height="39" fill="#235a12"/>
<rect x="86" y="516" width="3" height="8" fill="#235a12"/>
<rect x="87" y="517" width="1" height="6" fill="#f06a6e"/>
<rect x="91" y="516" width="1" height="12" fill="#235a12"/>
<rect x="90" y="523" width="3" height="3" fill="#235a12"/>
<rect x="91" y="524" width="1" height="1" fill="#f06a6e"/>
<rect x="95" y="514" width="1" height="27" fill="#235a12"/>
<rect x="94" y="522" width="3" height="4" fill="#235a12"/>
<rect x="95" y="523" width="1" height="2" fill="#44d444"/>
<rect x="99" y="515" width="1" height="13" fill="#235a12"/>
<rect x="98" y="517" width="3" height="7" fill="#235a12"/>
<rect x="99" y="518" width="1" height="5" fill="#44d444"/>
<rect x="103" y="508" width="1" height="16" fill="#235a12"/>
<rect x="102" y="517" width="3" height="6" fill="#235a12"/>
<rect x="103" y="518" width="1" height="4" fill="#f06a6e"/>
<rect x="107" y="499" width="1" height="36" fill="#235a12"/>
<rect x="106" y="510" width="3" height="13" fill="#235a12"/>
<rect x="107" y="511" width="1" height="11" fill="#44d444"/>
<rect x="111" y="496" width="1" height="26" fill="#235a12"/>
<rect x="110" y="498" width="3" height="13" fill="#235a12"/>
<rect x="111" y="499" width="1" height="11" fill="#44d444"/>
<rect x="115" y="494" width="1" height="23" fill="#235a12"/>
<rect x="114" y="498" width="3" height="15" fill="#235a12"/>
<rect x="115" y="499" width="1" height="13" fill="#f06a6e"/>
<rect x="119" y="504" width="1" height="18" fill="#235a12"/>
<rect x="118" y="515" width="3" height="3" fill="#235a12"/>
<rect x="119" y="516" width="1" height="1" fill="#f06a6e"/>
<rect x="123" y="507" width="1" height="15" fill="#235a12"/>
<rect x="122" y="509" width="3" height="8" fill="#235a12"/>
<rect x="123" y="510" width="1" height="6" fill="#44d444"/>
<rect x="127" y="502" width="1" height="22" fill="#235a12"/>
<rect x="126" y="509" width="3" height="15" fill="#235a12"/>
<rect x="127" y="510" width="1" height="13" fill="#f06a6e"/>
<rect x="131" y="511" width="1" height="24" fill="#235a12"/>
<rect x="130" y="522" width="3" height="4" fill="#235a12"/>
<rect x="131" y="523" width="1" height="2" fill="#f06a6e"/>
<rect x="135" y="522" width="1" height="43" fill="#235a12"/>
<rect x="134" y="525" width="3" height="40" fill="#235a12"/>
<rect x="135" y="526" width="1" height="38" fill="#f06a6e"/>
<rect x="139" y="561" width="1" height="23" fill="#235a12"/>
<rect x="138" y="565" width="3" height="10" fill="#235a12"/>
<rect x="139" y="566" width="1" height="8" fill="#f06a6e"/>
<rect x="143" y="562" width="1" height="18" fill="#235a12"/>
<rect x="142" y="567" width="3" height="11" fill="#235a12"/>
<rect x="143" y="568" width="1" height="9" fill="#44d444"/>
<rect x="147" y="563" width="1" height="14" fill="#235a12"/>
<rect x="146" y="565" width="3" height="4" fill="#235a12"/>
<rect x="147" y="566" width="1" height="2" fill="#44d444"/>
<rect x="151" y="564" width="1" height="44" fill="#235a12"/>
<rect x="150" y="565" width="3" height="33" fill="#235a12"/>
<rect x="151" y="566" width="1" height="31" fill="#f06a6e"/>
<rect x="155" y="570" width="1" height="37" fill="#235a12"/>
<rect x="154" y="576" width="3" height="22" fill="#235a12"/>
<rect x="155" y="577" width="1" height="20" fill="#44d444"/>
<rect x="159" y="570" width="1" height="43" fill="#235a12"/>
<rect x="158" y="576" width="3" height="30" fill="#235a12"/>
<rect x="159" y="577" width="1" height="28" fill="#f06a6e"/>
<rect x="163" y="598" width="1" height="24" fill="#235a12"/>
<rect x="162" y="605" width="3" height="17" fill="#235a12"/>
<rect x="163" y="606" width="1" height="15" fill="#f06a6e"/>
<rect x="167" y="593" width="1" height="51" fill="#235a12"/>
<rect x="166" y="624" width="3" height="14" fill="#235a12"/>
<rect x="167" y="625" width="1" height="12" fill="#f06a6e"/>
<rect x="171" y="630" width="1" height="31" fill="#235a12"/>
<rect x="170" y="636" width="3" height="12" fill="#235a12"/>
<rect x="171" y="637" width="1" height="10" fill="#f06a6e"/>
<rect x="175" y="642" width="1" height="36" fill="#235a12"/>
<rect x="174" y="646" width="3" height="12" fill="#235a12"/>
<rect x="175" y="647" width="1" height="10" fill="#f06a6e"/>
<rect x="179" y="633" width="1" height="41" fill="#235a12"/>
<rect x="178" y="652" width="3" height="6" fill="#235a12"/>
<rect x="179" y="653" width="1" height="4" fill="#44d444"/>
<rect x="183" y="650" width="1" height="62" fill="#235a12"/>
<rect x="182" y="652" width="3" height="30" fill="#235a12"/>
<rect x="183" y="653" width="1" height="28" fill="#f06a6e"/>
<rect x="187" y="681" width="1" height="12" fill="#235a12"/>
<rect x="186" y="681" width="3" height="5" fill="#235a12"/>
<rect x="187" y="682" width="1" height="3" fill="#f06a6e"/>
<rect x="191" y="673" width="1" height="24" fill="#235a12"/>
<rect x="190" y="686" width="3" height="7" fill="#235a12"/>
<rect x="191" y="687" width="1" height="5" fill="#f06a6e"/>
<rect x="195" y="689" width="1" height="18" fill="#235a12"/>
<rect x="194" y="691" width="3" height="6" fill="#235a12"/>
<rect x="195" y="692" width="1" height="4" fill="#f06a6e"/>
<rect x="199" y="688" width="1" height="67" fill="#235a12"/>
<rect x="198" y="695" width="3" height="16" fill="#235a12"/>
<rect x="199" y="696" width="1" height="14" fill="#f06a6e"/>
<rect x="203" y="705" width="1" height="41" fill="#235a12"/>
<rect x="202" y="709" width="3" height="9" fill="#235a12"/>
<rect x="203" y="710" width="1" height="7" fill="#f06a6e"/>
<rect x="207" y="714" width="1" height="50" fill="#235a12"/>
<rect x="206" y="716" width="3" height="47" fill="#235a12"/>
<rect x="207" y="717" width="1" height="45" fill="#f06a6e"/>
<rect x="211" y="740" width="1" height="24" fill="#235a12"/>
<rect x="210" y="744" width="3" height="19" fill="#235a12"/>
<rect x="211" y="745" width="1" height="17" fill="#44d444"/>
<rect x="215" y="734" width="1" height="29" fill="#235a12"/>
<rect x="214" y="749" width="3" height="3" fill="#235a12"/>
<rect x="215" y="750" width="1" height="1" fill="#f06a6e"/>
<rect x="219" y="717" width="1" height="39" fill="#235a12"/>
<rect x="218" y="736" width="3" height="16" fill="#235a12"/>
<rect x="219" y="737" width="1" height="14" fill="#44d444"/>
<rect x="223" y="714" width="1" height="35" fill="#235a12"/>
<rect x="222" y="721" width="3" height="17" fill="#235a12"/>
<rect x="223" y="722" width="1" height="15" fill="#44d444"/>
<rect x="227" y="680" width="1" height="51" fill="#235a12"/>
<rect x="226" y="681" width="3" height="42" fill="#235a12"/>
<rect x="227" y="682" width="1" height="40" fill="#44d444"/>
<rect x="231" y="678" width="1" height="23" fill="#235a12"/>
<rect x="230" y="681" width="3" height="4" fill="#235a12"/>
<rect x="231" y="682" width="1" height="2" fill="#f06a6e"/>
<rect x="235" y="667" width="1" height="46" fill="#235a12"/>
<rect x="234" y="684" width="3" height="28" fill="#235a12"/>
<rect x="235" y="685" width="1" height="26" fill="#f06a6e"/>
<rect x="239" y="695" width="1" height="26" fill="#235a12"/>
<rect x="238" y="699" width="3" height="11" fill="#235a12"/>
<rect x="239" y="700" width="1" height="9" fill="#44d444"/>
<rect x="243" y="684" width="1" height="21" fill="#235a12"/>
<rect x="242" y="688" width="3" height="12" fill="#235a12"/>
<rect x="243" y="689" width="1" height="10" fill="#44d444"/>
<rect x="247" y="686" width="1" height="122" fill="#235a12"/>
<rect x="246" y="688" width="3" height="117" fill="#235a12"/>
<rect x="247" y="689" width="1" height="115" fill="#f06a6e"/>
<rect x="251" y="765" width="1" height="65" fill="#235a12"/>
<rect x="250" y="790" width="3" height="15" fill="#235a12"/>
<rect x="251" y="791" width="1" height="13" fill="#44d444"/>
<rect x="255" y="768" width="1" height="47" fill="#235a12"/>
<rect x="254" y="790" width="3" height="16" fill="#235a12"/>
<rect x="255" y="791" width="1" height="14" fill="#f06a6e"/>
<rect x="259" y="802" width="1" height="30" fill="#235a12"/>
<rect x="258" y="805" width="3" height="27" fill="#235a12"/>
<rect x="259" y="806" width="1" height="25" fill="#f06a6e"/>
<rect x="263" y="805" width="1" height="31" fill="#235a12"/>
<rect x="262" y="810" width="3" height="22" fill="#235a12"/>
<rect x="263" y="811" width="1" height="20" fill="#44d444"/>
<rect x="267" y="810" width="1" height="50" fill="#235a12"/>
<rect x="266" y="810" width="3" height="21" fill="#235a12"/>
<rect x="267" y="811" width="1" height="19" fill="#f06a6e"/>
<rect x="271" y="829" width="1" height="42" fill="#235a12"/>
<rect x="270" y="829" width="3" height="21" fill="#235a12"/>
<rect x="271" y="830" width="1" height="19" fill="#f06a6e"/>
<rect x="275" y="847" width="1" height="23" fill="#235a12"/>
<rect x="274" y="850" width="3" height="6" fill="#235a12"/>
<rect x="275" y="851" width="1" height="4" fill="#f06a6e"/>
<rect x="279" y="812" width="1" height="45" fill="#235a12"/>
<rect x="278" y="827" width="3" height="29" fill="#235a12"/>
<rect x="279" y="828" width="1" height="27" fill="#44d444"/>
<rect x="283" y="823" width="1" height="21" fill="#235a12"/>
<rect x="282" y="827" width="3" height="14" fill="#235a12"/>
<rect x="283" y="828" width="1" height="12" fill="#f06a6e"/>
<rect x="287" y="799" width="1" height="55" fill="#235a12"/>
<rect x="286" y="805" width="3" height="43" fill="#235a12"/>
<rect x="287" y="806" width="1" height="41" fill="#44d444"/>
<rect x="291" y="796" width="1" height="19" fill="#235a12"/>
<rect x="290" y="800" width="3" height="8" fill="#235a12"/>
<rect x="291" y="801" width="1" height="6" fill="#44d444"/>
<rect x="295" y="773" width="1" height="33" fill="#235a12"/>
<rect x="294" y="785" width="3" height="17" fill="#235a12"/>
<rect x="295" y="786" width="1" height="15" fill="#44d444"/>
<rect x="299" y="726" width="1" height="61" fill="#235a12"/>
<rect x="298" y="729" width="3" height="58" fill="#235a12"/>
<rect x="299" y="730" width="1" height="56" fill="#44d444"/>
<rect x="303" y="729" width="1" height="48" fill="#235a12"/>
<rect x="302" y="730" width="3" height="9" fill="#235a12"/>
<rect x="303" y="731" width="1" height="7" fill="#f06a6e"/>
<rect x="307" y="734" width="1" height="20" fill="#235a12"/>
<rect x="306" y="738" width="3" height="15" fill="#235a12"/>
<rect x="307" y="739" width="1" height="13" fill="#f06a6e"/>
<rect x="311" y="740" width="1" height="26" fill="#235a12"/>
<rect x="310" y="745" width="3" height="7" fill="#235a12"/>
<rect x="311" y="746" width="1" height="5" fill="#44d444"/>
<rect x="315" y="732" width="1" height="23" fill="#235a12"/>
<rect x="314" y="733" width="3" height="14" fill="#235a12"/>
<rect x="315" y="734" width="1" height="12" fill="#44d444"/>
<rect x="319" y="702" width="1" height="68" fill="#235a12"/>
<rect x="318" y="733" width="3" height="16" fill="#235a12"/>
<rect x="319" y="734" width="1" height="14" fill="#f06a6e"/>
<rect x="323" y="731" width="1" height="54" fill="#235a12"/>
<rect x="322" y="747" width="3" height="32" fill="#235a12"/>
<rect x="323" y="748" width="1" height="30" fill="#f06a6e"/>
<rect x="327" y="731" width="1" height="56" fill="#235a12"/>
<rect x="326" y="746" width="3" height="33" fill="#235a12"/>
<rect x="327" y="747" width="1" height="31" fill="#44d444"/>
<rect x="331" y="738" width="1" height="15" fill="#235a12"/>
<rect x="330" y="746" width="3" height="3" fill="#235a12"/>
<rect x="331" y="747" width="1" height="1" fill="#f06a6e"/>
<rect x="335" y="727" width="1" height="30" fill="#235a12"/>
<rect x="334" y="734" width="3" height="18" fill="#235a12"/>
<rect x="335" y="735" width="1" height="16" fill="#44d444"/>
<rect x="339" y="725" width="1" height="24" fill="#235a12"/>
<rect x="338" y="734" width="3" height="11" fill="#235a12"/>
<rect x="339" y="735" width="1" height="9" fill="#f06a6e"/>
<rect x="343" y="709" width="1" height="47" fill="#235a12"/>
<rect x="342" y="733" width="3" height="13" fill="#235a12"/>
<rect x="343" y="734" width="1" height="11" fill="#44d444"/>
<rect x="347" y="722" width="1" height="17" fill="#235a12"/>
<rect x="346" y="730" width="3" height="4" fill="#235a12"/>
<rect x="347" y="731" width="1" height="2" fill="#44d444"/>
<rect x="351" y="682" width="1" height="57" fill="#235a12"/>
<rect x="350" y="686" width="3" height="45" fill="#235a12"/>
<rect x="351" y="687" width="1" height="43" fill="#44d444"/>
<rect x="355" y="662" width="1" height="27" fill="#235a12"/>
<rect x="354" y="673" width="3" height="15" fill="#235a12"/>
<rect x="355" y="674" width="1" height="13" fill="#44d444"/>
<rect x="359" y="660" width="1" height="27" fill="#235a12"/>
<rect x="358" y="664" width="3" height="12" fill="#235a12"/>
<rect x="359" y="665" width="1" height="10" fill="#44d444"/>
<rect x="363" y="662" width="1" height="29" fill="#235a12"/>
<rect x="362" y="664" width="3" height="13" fill="#235a12"/>
<rect x="363" y="665" width="1" height="11" fill="#f06a6e"/>
<rect x="367" y="649" width="1" height="40" fill="#235a12"/>
<rect x="366" y="673" width="3" height="5" fill="#235a12"/>
<rect x="367" y="674" width="1" height="3" fill="#44d444"/>
<rect x="371" y="662" width="1" height="44" fill="#235a12"/>
<rect x="370" y="673" width="3" height="24" fill="#235a12"/>
<rect x="371" y="674" width="1" height="22" fill="#f06a6e"/>
<rect x="375" y="676" width="1" height="47" fill="#235a12"/>
<rect x="374" y="696" width="3" height="16" fill="#235a12"/>
<rect x="375" y="697" width="1" height="14" fill="#f06a6e"/>
<rect x="379" y="711" width="1" height="30" fill="#235a12"/>
<rect x="378" y="711" width="3" height="15" fill="#235a12"/>
<rect x="379" y="712" width="1" height="13" fill="#f06a6e"/>
<rect x="383" y="718" width="1" height="36" fill="#235a12"/>
<rect x="382" y="728" width="3" height="15" fill="#235a12"/>
<rect x="383" y="729" width="1" height="13" fill="#f06a6e"/>
<rect x="387" y="732" width="1" height="19" fill="#235a12"/>
<rect x="386" y="739" width="3" height="4" fill="#235a12"/>
<rect x="387" y="740" width="1" height="2" fill="#44d444"/>
<rect x="391" y="696" width="1" height="49" fill="#235a12"/>
<rect x="390" y="715" width="3" height="25" fill="#235a12"/>
<rect x="391" y="716" width="1" height="23" fill="#44d444"/>
<rect x="395" y="677" width="1" height="48" fill="#235a12"/>
<rect x="394" y="696" width="3" height="20" fill="#235a12"/>
<rect x="395" y="697" width="1" height="18" fill="#44d444"/>
<rect x="399" y="656" width="1" height="47" fill="#235a12"/>
<rect x="398" y="677" width="3" height="20" fill="#235a12"/>
<rect x="399" y="678" width="1" height="18" fill="#44d444"/>
<rect x="403" y="677" width="1" height="21" fill="#235a12"/>
<rect x="402" y="677" width="3" height="20" fill="#235a12"/>
<rect x="403" y="678" width="1" height="18" fill="#f06a6e"/>
<rect x="407" y="682" width="1" height="24" fill="#235a12"/>
<rect x="406" y="691" width="3" height="12" fill="#235a12"/>
<rect x="407" y="692" width="1" height="10" fill="#f06a6e"/>
<rect x="411" y="684" width="1" height="26" fill="#235a12"/>
<rect x="410" y="692" width="3" height="12" fill="#235a12"/>
<rect x="411" y="693" width="1" height="10" fill="#44d444"/>
<rect x="415" y="679" width="1" height="23" fill="#235a12"/>
<rect x="414" y="688" width="3" height="5" fill="#235a12"/>
<rect x="415" y="689" width="1" height="3" fill="#44d444"/>
<rect x="419" y="679" width="1" height="26" fill="#235a12"/>
<rect x="418" y="688" width="3" height="10" fill="#235a12"/>
<rect x="419" y="689" width="1" height="8" fill="#f06a6e"/>
<rect x="423" y="682" width="1" height="23" fill="#235a12"/>
<rect x="422" y="687" width="3" height="11" fill="#235a12"/>
<rect x="423" y="688" width="1" height="9" fill="#44d444"/>
<rect x="427" y="677" width="1" height="15" fill="#235a12"/>
<rect x="426" y="688" width="3" height="4" fill="#235a12"/>
<rect x="427" y="689" width="1" height="2" fill="#f06a6e"/>
<rect x="431" y="674" width="1" height="20" fill="#235a12"/>
<rect x="430" y="683" width="3" height="8" fill="#235a12"/>
<rect x="431" y="684" width="1" height="6" fill="#44d444"/>
<rect x="435" y="662" width="1" height="28" fill="#235a12"/>
<rect x="434" y="662" width="3" height="22" fill="#235a12"/>
<rect x="435" y="663" width="1" height="20" fill="#44d444"/>
<rect x="439" y="649" width="1" height="29" fill="#235a12"/>
<rect x="438" y="662" width="3" height="12" fill="#235a12"/>
<rect x="439" y="663" width="1" height="10" fill="#f06a6e"/>
<rect x="443" y="655" width="1" height="44" fill="#235a12"/>
<rect x="442" y="673" width="3" height="10" fill="#235a12"/>
<rect x="443" y="674" width="1" height="8" fill="#f06a6e"/>
<rect x="447" y="670" width="1" height="27" fill="#235a12"/>
<rect x="446" y="681" width="3" height="3" fill="#235a12"/>
<rect x="447" y="682" width="1" height="1" fill="#f06a6e"/>
<rect x="451" y="673" width="1" height="14" fill="#235a12"/>
<rect x="450" y="679" width="3" height="5" fill="#235a12"/>
<rect x="451" y="680" width="1" height="3" fill="#44d444"/>
<rect x="455" y="661" width="1" height="26" fill="#235a12"/>
<rect x="454" y="670" width="3" height="14" fill="#235a12"/>
<rect x="455" y="671" width="1" height="12" fill="#44d444"/>
<rect x="459" y="663" width="1" height="12" fill="#235a12"/>
<rect x="458" y="666" width="3" height="6" fill="#235a12"/>
<rect x="459" y="667" width="1" height="4" fill="#44d444"/>
<rect x="463" y="617" width="1" height="55" fill="#235a12"/>
<rect x="462" y="628" width="3" height="40" fill="#235a12"/>
<rect x="463" y="629" width="1" height="38" fill="#44d444"/>
<rect x="467" y="618" width="1" height="35" fill="#235a12"/>
<rect x="466" y="628" width="3" height="13" fill="#235a12"/>
<rect x="467" y="629" width="1" height="11" fill="#f06a6e"/>
<rect x="471" y="629" width="1" height="26" fill="#235a12"/>
<rect x="470" y="640" width="3" height="2" fill="#235a12"/>
<rect x="475" y="641" width="1" height="26" fill="#235a12"/>
<rect x="474" y="641" width="3" height="26" fill="#235a12"/>
<rect x="475" y="642" width="1" height="24" fill="#f06a6e"/>
<rect x="479" y="642" width="1" height="31" fill="#235a12"/>
<rect x="478" y="659" width="3" height="9" fill="#235a12"/>
<rect x="479" y="660" width="1" height="7" fill="#44d444"/>
<rect x="483" y="653" width="1" height="13" fill="#235a12"/>
<rect x="482" y="656" width="3" height="5" fill="#235a12"/>
<rect x="483" y="657" width="1" height="3" fill="#44d444"/>
<rect x="487" y="635" width="1" height="26" fill="#235a12"/>
<rect x="486" y="644" width="3" height="14" fill="#235a12"/>
<rect x="487" y="645" width="1" height="12" fill="#44d444"/>
<rect x="491" y="634" width="1" height="20" fill="#235a12"/>
<rect x="490" y="641" width="3" height="5" fill="#235a12"/>
<rect x="491" y="642" width="1" height="3" fill="#44d444"/>
<rect x="495" y="596" width="1" height="51" fill="#235a12"/>
<rect x="494" y="597" width="3" height="46" fill="#235a12"/>
<rect x="495" y="598" width="1" height="44" fill="#44d444"/>
<rect x="499" y="594" width="1" height="18" fill="#235a12"/>
<rect x="498" y="597" width="3" height="15" fill="#235a12"/>
<rect x="499" y="598" width="1" height="13" fill="#f06a6e"/>
<rect x="503" y="592" width="1" height="24" fill="#235a12"/>
<rect x="502" y="600" width="3" height="13" fill="#235a12"/>
<rect x="503" y="601" width="1" height="11" fill="#44d444"/>
<rect x="507" y="585" width="1" height="30" fill="#235a12"/>
<rect x="506" y="594" width="3" height="7" fill="#235a12"/>
<rect x="507" y="595" width="1" height="5" fill="#44d444"/>
<rect x="511" y="589" width="1" height="23" fill="#235a12"/>
<rect x="510" y="594" width="3" height="6" fill="#235a12"/>
<rect x="511" y="595" width="1" height="4" fill="#f06a6e"/>
<rect x="515" y="593" width="1" height="43" fill="#235a12"/>
<rect x="514" y="598" width="3" height="2" fill="#235a12"/>
<rect x="519" y="592" width="1" height="41" fill="#235a12"/>
<rect x="518" y="598" width="3" height="5" fill="#235a12"/>
<rect x="519" y="599" width="1" height="3" fill="#f06a6e"/>
<rect x="523" y="585" width="1" height="33" fill="#235a12"/>
<rect x="522" y="602" width="3" height="15" fill="#235a12"/>
<rect x="523" y="603" width="1" height="13" fill="#f06a6e"/>
<rect x="527" y="594" width="1" height="27" fill="#235a12"/>
<rect x="526" y="599" width="3" height="3" fill="#235a12"/>
<rect x="527" y="600" width="1" height="1" fill="#44d444"/>
<rect x="531" y="594" width="1" height="21" fill="#235a12"/>
<rect x="530" y="599" width="3" height="14" fill="#235a12"/>
<rect x="531" y="600" width="1" height="12" fill="#f06a6e"/>
<rect x="535" y="589" width="1" height="27" fill="#235a12"/>
<rect x="534" y="602" width="3" height="11" fill="#235a12"/>
<rect x="535" y="603" width="1" height="9" fill="#44d444"/>
<rect x="539" y="598" width="1" height="18" fill="#235a12"/>
<rect x="538" y="602" width="3" height="11" fill="#235a12"/>
<rect x="539" y="603" width="1" height="9" fill="#f06a6e"/>
<rect x="543" y="610" width="1" height="22" fill="#235a12"/>
<rect x="542" y="612" width="3" height="6" fill="#235a12"/>
<rect x="543" y="613" width="1" height="4" fill="#f06a6e"/>
<rect x="547" y="613" width="1" height="19" fill="#235a12"/>
<rect x="546" y="617" width="3" height="6" fill="#235a12"/>
<rect x="547" y="618" width="1" height="4" fill="#f06a6e"/>
<rect x="551" y="607" width="1" height="27" fill="#235a12"/>
<rect x="550" y="610" width="3" height="13" fill="#235a12"/>
<rect x="551" y="611" width="1" height="11" fill="#44d444"/>
<rect x="555" y="599" width="1" height="22" fill="#235a12"/>
<rect x="554" y="610" width="3" height="6" fill="#235a12"/>
<rect x="555" y="611" width="1" height="4" fill="#f06a6e"/>
<rect x="559" y="592" width="1" height="37" fill="#235a12"/>
<rect x="558" y="615" width="3" height="9" fill="#235a12"/>
<rect x="559" y="616" width="1" height="7" fill="#f06a6e"/>
<rect x="563" y="612" width="1" height="48" fill="#235a12"/>
<rect x="562" y="623" width="3" height="17" fill="#235a12"/>
<rect x="563" y="624" width="1" height="15" fill="#f06a6e"/>
<rect x="567" y="613" width="1" height="34" fill="#235a12"/>
<rect x="566" y="614" width="3" height="26" fill="#235a12"/>
<rect x="567" y="615" width="1" height="24" fill="#44d444"/>
<rect x="571" y="605" width="1" height="15" fill="#235a12"/>
<rect x="570" y="613" width="3" height="2" fill="#235a12"/>
<rect x="575" y="607" width="1" height="16" fill="#235a12"/>
<rect x="574" y="611" width="3" height="5" fill="#235a12"/>
<rect x="575" y="612" width="1" height="3" fill="#44d444"/>
<rect x="579" y="604" width="1" height="15" fill="#235a12"/>
<rect x="578" y="611" width="3" height="3" fill="#235a12"/>
<rect x="579" y="612" width="1" height="1" fill="#f06a6e"/>
<rect x="583" y="609" width="1" height="54" fill="#235a12"/>
<rect x="582" y="613" width="3" height="35" fill="#235a12"/>
<rect x="583" y="614" width="1" height="33" fill="#f06a6e"/>
<rect x="587" y="621" width="1" height="30" fill="#235a12"/>
<rect x="586" y="635" width="3" height="13" fill="#235a12"/>
<rect x="587" y="636" width="1" height="11" fill="#44d444"/>
<rect x="591" y="616" width="1" height="45" fill="#235a12"/>
<rect x="590" y="624" width="3" height="12" fill="#235a12"/>
<rect x="591" y="625" width="1" height="10" fill="#44d444"/>
<rect x="595" y="621" width="1" height="11" fill="#235a12"/>
<rect x="594" y="624" width="3" height="8" fill="#235a12"/>
<rect x="595" y="625" width="1" height="6" fill="#f06a6e"/>
<rect x="599" y="620" width="1" height="28" fill="#235a12"/>
<rect x="598" y="632" width="3" height="12" fill="#235a12"/>
<rect x="599" y="633" width="1" height="10" fill="#f06a6e"/>
<rect x="603" y="639" width="1" height="19" fill="#235a12"/>
<rect x="602" y="643" width="3" height="12" fill="#235a12"/>
<rect x="603" y="644" width="1" height="10" fill="#f06a6e"/>
<rect x="607" y="630" width="1" height="36" fill="#235a12"/>
<rect x="606" y="633" width="3" height="22" fill="#235a12"/>
<rect x="607" y="634" width="1" height="20" fill="#44d444"/>
<rect x="611" y="601" width="1" height="40" fill="#235a12"/>
<rect x="610" y="606" width="3" height="28" fill="#235a12"/>
<rect x="611" y="607" width="1" height="26" fill="#44d444"/>
<rect x="615" y="596" width="1" height="26" fill="#235a12"/>
<rect x="614" y="606" width="3" height="6" fill="#235a12"/>
<rect x="615" y="607" width="1" height="4" fill="#f06a6e"/>
<rect x="619" y="611" width="1" height="26" fill="#235a12"/>
<rect x="618" y="611" width="3" height="22" fill="#235a12"/>
<rect x="619" y="612" width="1" height="20" fill="#f06a6e"/>
<rect x="623" y="616" width="1" height="24" fill="#235a12"/>
<rect x="622" y="626" width="3" height="8" fill="#235a12"/>
<rect x="623" y="627" width="1" height="6" fill="#44d444"/>
<rect x="627" y="594" width="1" height="40" fill="#235a12"/>
<rect x="626" y="596" width="3" height="31" fill="#235a12"/>
<rect x="627" y="597" width="1" height="29" fill="#44d444"/>
<rect x="631" y="554" width="1" height="50" fill="#235a12"/>
<rect x="630" y="565" width="3" height="33" fill="#235a12"/>
<rect x="631" y="566" width="1" height="31" fill="#44d444"/>
<rect x="635" y="557" width="1" height="20" fill="#235a12"/>
<rect x="634" y="565" width="3" height="2" fill="#235a12"/>
<rect x="639" y="564" width="1" height="42" fill="#235a12"/>
<rect x="638" y="565" width="3" height="23" fill="#235a12"/>
<rect x="639" y="566" width="1" height="21" fill="#f06a6e"/>
<rect x="643" y="586" width="1" height="34" fill="#235a12"/>
<rect x="642" y="586" width="3" height="34" fill="#235a12"/>
<rect x="643" y="587" width="1" height="32" fill="#f06a6e"/>
<rect x="647" y="597" width="1" height="23" fill="#235a12"/>
<rect x="646" y="600" width="3" height="9" fill="#235a12"/>
<rect x="647" y="601" width="1" height="7" fill="#44d444"/>
<rect x="651" y="593" width="1" height="23" fill="#235a12"/>
<rect x="650" y="600" width="3" height="9" fill="#235a12"/>
<rect x="651" y="601" width="1" height="7" fill="#f06a6e"/>
<rect x="655" y="592" width="1" height="28" fill="#235a12"/>
<rect x="654" y="599" width="3" height="10" fill="#235a12"/>
<rect x="655" y="600" width="1" height="8" fill="#44d444"/>
<rect x="659" y="583" width="1" height="22" fill="#235a12"/>
<rect x="658" y="586" width="3" height="14" fill="#235a12"/>
<rect x="659" y="587" width="1" height="12" fill="#44d444"/>
<rect x="663" y="582" width="1" height="40" fill="#235a12"/>
<rect x="662" y="586" width="3" height="10" fill="#235a12"/>
<rect x="663" y="587" width="1" height="8" fill="#f06a6e"/>
<rect x="667" y="588" width="1" height="18" fill="#235a12"/>
<rect x="666" y="594" width="3" height="2" fill="#235a12"/>
<rect x="671" y="584" width="1" height="21" fill="#235a12"/>
<rect x="670" y="585" width="3" height="14" fill="#235a12"/>
<rect x="671" y="586" width="1" height="12" fill="#44d444"/>
<rect x="675" y="571" width="1" height="16" fill="#235a12"/>
<rect x="674" y="583" width="3" height="4" fill="#235a12"/>
<rect x="675" y="584" width="1" height="2" fill="#44d444"/>
<rect x="679" y="547" width="1" height="45" fill="#235a12"/>
<rect x="678" y="559" width="3" height="26" fill="#235a12"/>
<rect x="679" y="560" width="1" height="24" fill="#44d444"/>
<rect x="683" y="535" width="1" height="34" fill="#235a12"/>
<rect x="682" y="543" width="3" height="18" fill="#235a12"/>
<rect x="683" y="544" width="1" height="16" fill="#44d444"/>
<rect x="687" y="536" width="1" height="101" fill="#235a12"/>
<rect x="686" y="543" width="3" height="86" fill="#235a12"/>
<rect x="687" y="544" width="1" height="84" fill="#f06a6e"/>
<rect x="691" y="627" width="1" height="49" fill="#235a12"/>
<rect x="690" y="628" width="3" height="38" fill="#235a12"/>
<rect x="691" y="629" width="1" height="36" fill="#f06a6e"/>
<rect x="695" y="654" width="1" height="30" fill="#235a12"/>
<rect x="694" y="665" width="3" height="18" fill="#235a12"/>
<rect x="695" y="666" width="1" height="16" fill="#f06a6e"/>
<rect x="699" y="670" width="1" height="23" fill="#235a12"/>
<rect x="698" y="670" width="3" height="13" fill="#235a12"/>
<rect x="699" y="671" width="1" height="11" fill="#44d444"/>
<rect x="703" y="653" width="1" height="32" fill="#235a12"/>
<rect x="702" y="670" width="3" height="13" fill="#235a12"/>
<rect x="703" y="671" width="1" height="11" fill="#f06a6e"/>
<rect x="707" y="678" width="1" height="43" fill="#235a12"/>
<rect x="706" y="682" width="3" height="6" fill="#235a12"/>
<rect x="707" y="683" width="1" height="4" fill="#f06a6e"/>
<rect x="711" y="661" width="1" height="42" fill="#235a12"/>
<rect x="710" y="680" width="3" height="8" fill="#235a12"/>
<rect x="711" y="681" width="1" height="6" fill="#44d444"/>
<rect x="715" y="662" width="1" height="21" fill="#235a12"/>
<rect x="714" y="672" width="3" height="10" fill="#235a12"/>
<rect x="715" y="673" width="1" height="8" fill="#44d444"/>
<rect x="719" y="651" width="1" height="34" fill="#235a12"/>
<rect x="718" y="660" width="3" height="16" fill="#235a12"/>
<rect x="719" y="661" width="1" height="14" fill="#44d444"/>
<rect x="723" y="660" width="1" height="29" fill="#235a12"/>
<rect x="722" y="660" width="3" height="29" fill="#235a12"/>
<rect x="723" y="661" width="1" height="27" fill="#f06a6e"/>
<rect x="727" y="677" width="1" height="28" fill="#235a12"/>
<rect x="726" y="685" width="3" height="3" fill="#235a12"/>
<rect x="727" y="686" width="1" height="1" fill="#44d444"/>
<rect x="731" y="653" width="1" height="46" fill="#235a12"/>
<rect x="730" y="663" width="3" height="24" fill="#235a12"/>
<rect x="731" y="664" width="1" height="22" fill="#44d444"/>
<rect x="735" y="663" width="1" height="54" fill="#235a12"/>
<rect x="734" y="664" width="3" height="18" fill="#235a12"/>
<rect x="735" y="665" width="1" height="16" fill="#f06a6e"/>
<rect x="739" y="667" width="1" height="27" fill="#235a12"/>
<rect x="738" y="675" width="3" height="8" fill="#235a12"/>
<rect x="739" y="676" width="1" height="6" fill="#44d444"/>
<rect x="743" y="665" width="1" height="28" fill="#235a12"/>
<rect x="742" y="671" width="3" height="9" fill="#235a12"/>
<rect x="743" y="672" width="1" height="7" fill="#44d444"/>
<rect x="747" y="645" width="1" height="29" fill="#235a12"/>
<rect x="746" y="645" width="3" height="28" fill="#235a12"/>
<rect x="747" y="646" width="1" height="26" fill="#44d444"/>
<rect x="751" y="624" width="1" height="38" fill="#235a12"/>
<rect x="750" y="638" width="3" height="9" fill="#235a12"/>
<rect x="751" y="639" width="1" height="7" fill="#44d444"/>
<rect x="755" y="626" width="1" height="34" fill="#235a12"/>
<rect x="754" y="630" width="3" height="10" fill="#235a12"/>
<rect x="755" y="631" width="1" height="8" fill="#44d444"/>
<rect x="759" y="619" width="1" height="80" fill="#235a12"/>
<rect x="758" y="631" width="3" height="57" fill="#235a12"/>
<rect x="759" y="632" width="1" height="55" fill="#f06a6e"/>
<rect x="763" y="683" width="1" height="30" fill="#235a12"/>
<rect x="762" y="687" width="3" height="22" fill="#235a12"/>
<rect x="763" y="688" width="1" height="20" fill="#f06a6e"/>
<rect x="767" y="696" width="1" height="20" fill="#235a12"/>
<rect x="766" y="704" width="3" height="3" fill="#235a12"/>
<rect x="767" y="705" width="1" height="1" fill="#44d444"/>
<rect x="771" y="704" width="1" height="38" fill="#235a12"/>
<rect x="770" y="704" width="3" height="34" fill="#235a12"/>
<rect x="771" y="705" width="1" height="32" fill="#f06a6e"/>
<rect x="775" y="728" width="1" height="85" fill="#235a12"/>
<rect x="774" y="736" width="3" height="62" fill="#235a12"/>
<rect x="775" y="737" width="1" height="60" fill="#f06a6e"/>
<rect x="779" y="777" width="1" height="73" fill="#235a12"/>
<rect x="778" y="797" width="3" height="27" fill="#235a12"/>
<rect x="779" y="798" width="1" height="25" fill="#f06a6e"/>
<rect x="783" y="790" width="1" height="73" fill="#235a12"/>
<rect x="782" y="823" width="3" height="40" fill="#235a12"/>
<rect x="783" y="824" width="1" height="38" fill="#f06a6e"/>
<rect x="787" y="836" width="1" height="35" fill="#235a12"/>
<rect x="786" y="853" width="3" height="10" fill="#235a12"/>
<rect x="787" y="854" width="1" height="8" fill="#44d444"/>
<rect x="791" y="824" width="1" height="38" fill="#235a12"/>
<rect x="790" y="834" width="3" height="21" fill="#235a12"/>
<rect x="791" y="835" width="1" height="19" fill="#44d444"/>
<rect x="795" y="804" width="1" height="36" fill="#235a12"/>
<rect x="794" y="809" width="3" height="26" fill="#235a12"/>
<rect x="795" y="810" width="1" height="24" fill="#44d444"/>
<rect x="799" y="782" width="1" height="46" fill="#235a12"/>
<rect x="798" y="802" width="3" height="9" fill="#235a12"/>
<rect x="799" y="803" width="1" height="7" fill="#44d444"/>
<rect x="803" y="792" width="1" height="64" fill="#235a12"/>
<rect x="802" y="802" width="3" height="50" fill="#235a12"/>
<rect x="803" y="803" width="1" height="48" fill="#f06a6e"/>
<rect x="807" y="838" width="1" height="53" fill="#235a12"/>
<rect x="806" y="851" width="3" height="12" fill="#235a12"/>
<rect x="807" y="852" width="1" height="10" fill="#f06a6e"/>
<rect x="811" y="855" width="1" height="20" fill="#235a12"/>
<rect x="810" y="862" width="3" height="13" fill="#235a12"/>
<rect x="811" y="863" width="1" height="11" fill="#f06a6e"/>
<rect x="815" y="862" width="1" height="25" fill="#235a12"/>
<rect x="814" y="868" width="3" height="9" fill="#235a12"/>
<rect x="815" y="869" width="1" height="7" fill="#44d444"/>
<rect x="819" y="818" width="1" height="59" fill="#235a12"/>
<rect x="818" y="839" width="3" height="31" fill="#235a12"/>
<rect x="819" y="840" width="1" height="29" fill="#44d444"/>
<rect x="823" y="827" width="1" height="42" fill="#235a12"/>
<rect x="822" y="839" width="3" height="16" fill="#235a12"/>
<rect x="823" y="840" width="1" height="14" fill="#f06a6e"/>
<rect x="827" y="836" width="1" height="31" fill="#235a12"/>
<rect x="826" y="853" width="3" height="3" fill="#235a12"/>
<rect x="827" y="854" width="1" height="1" fill="#44d444"/>
<rect x="831" y="811" width="1" height="56" fill="#235a12"/>
<rect x="830" y="828" width="3" height="27" fill="#235a12"/>
<rect x="831" y="829" width="1" height="25" fill="#44d444"/>
<rect x="835" y="799" width="1" height="49" fill="#235a12"/>
<rect x="834" y="828" width="3" height="20" fill="#235a12"/>
<rect x="835" y="829" width="1" height="18" fill="#f06a6e"/>
<rect x="839" y="828" width="1" height="25" fill="#235a12"/>
<rect x="838" y="832" width="3" height="14" fill="#235a12"/>
<rect x="839" y="833" width="1" height="12" fill="#44d444"/>
<rect x="843" y="808" width="1" height="28" fill="#235a12"/>
<rect x="842" y="808" width="3" height="26" fill="#235a12"/>
<rect x="843" y="809" width="1" height="24" fill="#44d444"/>
<rect x="847" y="768" width="1" height="49" fill="#235a12"/>
<rect x="846" y="783" width="3" height="27" fill="#235a12"/>
<rect x="847" y="784" width="1" height="25" fill="#44d444"/>
<rect x="851" y="694" width="1" height="110" fill="#235a12"/>
<rect x="850" y="696" width="3" height="88" fill="#235a12"/>
<rect x="851" y="697" width="1" height="86" fill="#44d444"/>
<rect x="855" y="659" width="1" height="58" fill="#235a12"/>
<rect x="854" y="664" width="3" height="34" fill="#235a12"/>
<rect x="855" y="665" width="1" height="32" fill="#44d444"/>
<rect x="859" y="662" width="1" height="15" fill="#235a12"/>
<rect x="858" y="664" width="3" height="13" fill="#235a12"/>
<rect x="859" y="665" width="1" height="11" fill="#f06a6e"/>
<rect x="863" y="645" width="1" height="39" fill="#235a12"/>
<rect x="862" y="649" width="3" height="28" fill="#235a12"/>
<rect x="863" y="650" width="1" height="26" fill="#44d444"/>
<rect x="867" y="646" width="1" height="26" fill="#235a12"/>
<rect x="866" y="649" width="3" height="5" fill="#235a12"/>
<rect x="867" y="650" width="1" height="3" fill="#f06a6e"/>
<rect x="871" y="636" width="1" height="57" fill="#235a12"/>
<rect x="870" y="653" width="3" height="9" fill="#235a12"/>
<rect x="871" y="654" width="1" height="7" fill="#f06a6e"/>
<rect x="875" y="660" width="1" height="43" fill="#235a12"/>
<rect x="874" y="661" width="3" height="35" fill="#235a12"/>
<rect x="875" y="662" width="1" height="33" fill="#f06a6e"/>
<rect x="879" y="650" width="1" height="53" fill="#235a12"/>
<rect x="878" y="658" width="3" height="38" fill="#235a12"/>
<rect x="879" y="659" width="1" height="36" fill="#44d444"/>
<rect x="883" y="658" width="1" height="17" fill="#235a12"/>
<rect x="882" y="658" width="3" height="12" fill="#235a12"/>
<rect x="883" y="659" width="1" height="10" fill="#f06a6e"/>
<rect x="887" y="660" width="1" height="31" fill="#235a12"/>
<rect x="886" y="669" width="3" height="16" fill="#235a12"/>
<rect x="887" y="670" width="1" height="14" fill="#44d444"/>
<rect x="891" y="667" width="1" height="26" fill="#235a12"/>
<rect x="890" y="670" width="3" height="16" fill="#235a12"/>
<rect x="891" y="671" width="1" height="14" fill="#f06a6e"/>
<rect x="895" y="604" width="1" height="84" fill="#235a12"/>
<rect x="894" y="615" width="3" height="72" fill="#235a12"/>
<rect x="895" y="616" width="1" height="70" fill="#44d444"/>
<rect x="899" y="598" width="1" height="36" fill="#235a12"/>
<rect x="898" y="614" width="3" height="3" fill="#235a12"/>
<rect x="899" y="615" width="1" height="1" fill="#44d444"/>
<rect x="903" y="595" width="1" height="30" fill="#235a12"/>
<rect x="902" y="600" width="3" height="15" fill="#235a12"/>
<rect x="903" y="601" width="1" height="13" fill="#44d444"/>
<rect x="907" y="594" width="1" height="23" fill="#235a12"/>
<rect x="906" y="600" width="3" height="17" fill="#235a12"/>
<rect x="907" y="601" width="1" height="15" fill="#f06a6e"/>
<rect x="911" y="600" width="1" height="22" fill="#235a12"/>
<rect x="910" y="606" width="3" height="9" fill="#235a12"/>
<rect x="911" y="607" width="1" height="7" fill="#44d444"/>
<rect x="915" y="571" width="1" height="44" fill="#235a12"/>
<rect x="914" y="572" width="3" height="36" fill="#235a12"/>
<rect x="915" y="573" width="1" height="34" fill="#44d444"/>
<rect x="919" y="559" width="1" height="56" fill="#235a12"/>
<rect x="918" y="572" width="3" height="27" fill="#235a12"/>
<rect x="919" y="573" width="1" height="25" fill="#f06a6e"/>
<rect x="923" y="594" width="1" height="107" fill="#235a12"/>
<rect x="922" y="598" width="3" height="96" fill="#235a12"/>
<rect x="923" y="599" width="1" height="94" fill="#f06a6e"/>
<rect x="927" y="683" width="1" height="64" fill="#235a12"/>
<rect x="926" y="693" width="3" height="34" fill="#235a12"/>
<rect x="927" y="694" width="1" height="32" fill="#f06a6e"/>
<rect x="931" y="698" width="1" height="34" fill="#235a12"/>
<rect x="930" y="715" width="3" height="12" fill="#235a12"/>
<rect x="931" y="716" width="1" height="10" fill="#44d444"/>
<rect x="935" y="690" width="1" height="32" fill="#235a12"/>
<rect x="934" y="692" width="3" height="23" fill="#235a12"/>
<rect x="935" y="693" width="1" height="21" fill="#44d444"/>
<rect x="939" y="685" width="1" height="37" fill="#235a12"/>
<rect x="938" y="692" width="3" height="6" fill="#235a12"/>
<rect x="939" y="693" width="1" height="4" fill="#f06a6e"/>
<rect x="943" y="692" width="1" height="79" fill="#235a12"/>
<rect x="942" y="697" width="3" height="72" fill="#235a12"/>
<rect x="943" y="698" width="1" height="70" fill="#f06a6e"/>
<rect x="947" y="738" width="1" height="49" fill="#235a12"/>
<rect x="946" y="767" width="3" height="10" fill="#235a12"/>
<rect x="947" y="768" width="1" height="8" fill="#f06a6e"/>
<rect x="951" y="754" width="1" height="50" fill="#235a12"/>
<rect x="950" y="769" width="3" height="8" fill="#235a12"/>
<rect x="951" y="770" width="1" height="6" fill="#44d444"/>
<rect x="955" y="746" width="1" height="34" fill="#235a12"/>
<rect x="954" y="769" width="3" height="4" fill="#235a12"/>
<rect x="955" y="770" width="1" height="2" fill="#f06a6e"/>
<rect x="959" y="755" width="1" height="22" fill="#235a12"/>
<rect x="958" y="759" width="3" height="16" fill="#235a12"/>
<rect x="959" y="760" width="1" height="14" fill="#44d444"/>
<rect x="963" y="735" width="1" height="36" fill="#235a12"/>
<rect x="962" y="746" width="3" height="14" fill="#235a12"/>
<rect x="963" y="747" width="1" height="12" fill="#44d444"/>
<rect x="967" y="735" width="1" height="38" fill="#235a12"/>
<rect x="966" y="746" width="3" height="9" fill="#235a12"/>
<rect x="967" y="747" width="1" height="7" fill="#f06a6e"/>
<rect x="971" y="708" width="1" height="55" fill="#235a12"/>
<rect x="970" y="727" width="3" height="29" fill="#235a12"/>
<rect x="971" y="728" width="1" height="27" fill="#44d444"/>
<rect x="975" y="713" width="1" height="91" fill="#235a12"/>
<rect x="974" y="727" width="3" height="69" fill="#235a12"/>
<rect x="975" y="728" width="1" height="67" fill="#f06a6e"/>
<rect x="979" y="772" width="1" height="42" fill="#235a12"/>
<rect x="978" y="795" width="3" height="11" fill="#235a12"/>
<rect x="979" y="796" width="1" height="9" fill="#f06a6e"/>
<rect x="983" y="778" width="1" height="31" fill="#235a12"/>
<rect x="982" y="805" width="3" height="4" fill="#235a12"/>
<rect x="983" y="806" width="1" height="2" fill="#44d444"/>
<rect x="987" y="801" width="1" height="39" fill="#235a12"/>
<rect x="986" y="805" width="3" height="25" fill="#235a12"/>
<rect x="987" y="806" width="1" height="23" fill="#f06a6e"/>
<rect x="991" y="805" width="1" height="61" fill="#235a12"/>
<rect x="990" y="822" width="3" height="8" fill="#235a12"/>
<rect x="991" y="823" width="1" height="6" fill="#44d444"/>
<rect x="995" y="735" width="1" height="88" fill="#235a12"/>
<rect x="994" y="766" width="3" height="57" fill="#235a12"/>
<rect x="995" y="767" width="1" height="55" fill="#44d444"/>
<rect x="999" y="727" width="1" height="51" fill="#235a12"/>
<rect x="998" y="746" width="3" height="21" fill="#235a12"/>
<rect x="999" y="747" width="1" height="19" fill="#44d444"/>
<rect x="1003" y="737" width="1" height="23" fill="#235a12"/>
<rect x="1002" y="746" width="3" height="14" fill="#235a12"/>
<rect x="1003" y="747" width="1" height="12" fill="#f06a6e"/>
<rect x="1007" y="736" width="1" height="46" fill="#235a12"/>
<rect x="1006" y="755" width="3" height="6" fill="#235a12"/>
<rect x="1007" y="756" width="1" height="4" fill="#44d444"/>
<rect x="1011" y="751" width="1" height="26" fill="#235a12"/>
<rect x="1010" y="754" width="3" height="3" fill="#235a12"/>
<rect x="1011" y="755" width="1" height="1" fill="#44d444"/>
<rect x="1015" y="717" width="1" height="57" fill="#235a12"/>
<rect x="1014" y="722" width="3" height="33" fill="#235a12"/>
<rect x="1015" y="723" width="1" height="31" fill="#44d444"/>
<rect x="1019" y="679" width="1" height="48" fill="#235a12"/>
<rect x="1018" y="693" width="3" height="30" fill="#235a12"/>
<rect x="1019" y="694" width="1" height="28" fill="#44d444"/>
<rect x="1023" y="655" width="1" height="78" fill="#235a12"/>
<rect x="1022" y="693" width="3" height="23" fill="#235a12"/>
<rect x="1023" y="694" width="1" height="21" fill="#f06a6e"/>
<rect x="1027" y="696" width="1" height="21" fill="#235a12"/>
<rect x="1026" y="715" width="3" height="2" fill="#235a12"/>
<rect x="1031" y="696" width="1" height="32" fill="#235a12"/>
<rect x="1030" y="717" width="3" height="5" fill="#235a12"/>
<rect x="1031" y="718" width="1" height="3" fill="#f06a6e"/>
<rect x="1035" y="686" width="1" height="39" fill="#235a12"/>
<rect x="1034" y="694" width="3" height="28" fill="#235a12"/>
<rect x="1035" y="695" width="1" height="26" fill="#44d444"/>
<rect x="1039" y="662" width="1" height="44" fill="#235a12"/>
<rect x="1038" y="666" width="3" height="29" fill="#235a12"/>
<rect x="1039" y="667" width="1" height="27" fill="#44d444"/>
<rect x="1043" y="633" width="1" height="43" fill="#235a12"/>
<rect x="1042" y="650" width="3" height="17" fill="#235a12"/>
<rect x="1043" y="651" width="1" height="15" fill="#44d444"/>
<rect x="1047" y="608" width="1" height="60" fill="#235a12"/>
<rect x="1046" y="608" width="3" height="44" fill="#235a12"/>
<rect x="1047" y="609" width="1" height="42" fill="#44d444"/>
<rect x="1051" y="608" width="1" height="23" fill="#235a12"/>
<rect x="1050" y="608" width="3" height="23" fill="#235a12"/>
<rect x="1051" y="609" width="1" height="21" fill="#f06a6e"/>
<rect x="1055" y="602" width="1" height="32" fill="#235a12"/>
<rect x="1054" y="603" width="3" height="27" fill="#235a12"/>
<rect x="1055" y="604" width="1" height="25" fill="#44d444"/>
<rect x="1059" y="598" width="1" height="30" fill="#235a12"/>
<rect x="1058" y="603" width="3" height="5" fill="#235a12"/>
<rect x="1059" y="604" width="1" height="3" fill="#f06a6e"/>
<rect x="1063" y="601" width="1" height="86" fill="#235a12"/>
<rect x="1062" y="607" width="3" height="80" fill="#235a12"/>
<rect x="1063" y="608" width="1" height="78" fill="#f06a6e"/>
<rect x="1067" y="669" width="1" height="34" fill="#235a12"/>
<rect x="1066" y="681" width="3" height="6" fill="#235a12"/>
<rect x="1067" y="682" width="1" height="4" fill="#44d444"/>
<rect x="1071" y="676" width="1" height="46" fill="#235a12"/>
<rect x="1070" y="681" width="3" height="25" fill="#235a12"/>
<rect x="1071" y="682" width="1" height="23" fill="#f06a6e"/>
<rect x="1075" y="661" width="1" height="50" fill="#235a12"/>
<rect x="1074" y="680" width="3" height="27" fill="#235a12"/>
<rect x="1075" y="681" width="1" height="25" fill="#44d444"/>
<rect x="1079" y="657" width="1" height="27" fill="#235a12"/>
<rect x="1078" y="666" width="3" height="17" fill="#235a12"/>
<rect x="1079" y="667" width="1" height="15" fill="#44d444"/>
<rect x="1083" y="659" width="1" height="18" fill="#235a12"/>
<rect x="1082" y="666" width="3" height="10" fill="#235a12"/>
<rect x="1083" y="667" width="1" height="8" fill="#f06a6e"/>
<rect x="1087" y="652" width="1" height="50" fill="#235a12"/>
<rect x="1086" y="668" width="3" height="8" fill="#235a12"/>
<rect x="1087" y="669" width="1" height="6" fill="#44d444"/>
<rect x="1091" y="639" width="1" height="35" fill="#235a12"/>
<rect x="1090" y="656" width="3" height="14" fill="#235a12"/>
<rect x="1091" y="657" width="1" height="12" fill="#44d444"/>
<rect x="1095" y="604" width="1" height="57" fill="#235a12"/>
<rect x="1094" y="607" width="3" height="50" fill="#235a12"/>
<rect x="1095" y="608" width="1" height="48" fill="#44d444"/>
<rect x="1099" y="606" width="1" height="16" fill="#235a12"/>
<rect x="1098" y="607" width="3" height="15" fill="#235a12"/>
<rect x="1099" y="608" width="1" height="13" fill="#f06a6e"/>
<rect x="1103" y="597" width="1" height="27" fill="#235a12"/>
<rect x="1102" y="599" width="3" height="24" fill="#235a12"/>
<rect x="1103" y="600" width="1" height="22" fill="#44d444"/>
<rect x="1107" y="580" width="1" height="21" fill="#235a12"/>
<rect x="1106" y="590" width="3" height="10" fill="#235a12"/>
<rect x="1107" y="591" width="1" height="8" fill="#44d444"/>
<rect x="1111" y="582" width="1" height="28" fill="#235a12"/>
<rect x="1110" y="588" width="3" height="4" fill="#235a12"/>
<rect x="1111" y="589" width="1" height="2" fill="#44d444"/>
<rect x="1115" y="562" width="1" height="41" fill="#235a12"/>
<rect x="1114" y="588" width="3" height="6" fill="#235a12"/>
<rect x="1115" y="589" width="1" height="4" fill="#f06a6e"/>
<rect x="1119" y="526" width="1" height="79" fill="#235a12"/>
<rect x="1118" y="541" width="3" height="53" fill="#235a12"/>
<rect x="1119" y="542" width="1" height="51" fill="#44d444"/>
<rect x="1123" y="531" width="1" height="21" fill="#235a12"/>
<rect x="1122" y="539" width="3" height="4" fill="#235a12"/>
<rect x="1123" y="540" width="1" height="2" fill="#44d444"/>
<rect x="1127" y="505" width="1" height="46" fill="#235a12"/>
<rect x="1126" y="506" width="3" height="41" fill="#235a12"/>
<rect x="1127" y="507" width="1" height="39" fill="#44d444"/>
<rect x="1131" y="451" width="1" height="57" fill="#235a12"/>
<rect x="1130" y="457" width="3" height="50" fill="#235a12"/>
<rect x="1131" y="458" width="1" height="48" fill="#44d444"/>
<rect x="1135" y="411" width="1" height="51" fill="#235a12"/>
<rect x="1134" y="421" width="3" height="39" fill="#235a12"/>
<rect x="1135" y="422" width="1" height="37" fill="#44d444"/>
<rect x="1139" y="397" width="1" height="59" fill="#235a12"/>
<rect x="1138" y="415" width="3" height="9" fill="#235a12"/>
<rect x="1139" y="416" width="1" height="7" fill="#44d444"/>
<rect x="1143" y="383" width="1" height="46" fill="#235a12"/>
<rect x="1142" y="398" width="3" height="18" fill="#235a12"/>
<rect x="1143" y="399" width="1" height="16" fill="#44d444"/>
<rect x="1147" y="398" width="1" height="37" fill="#235a12"/>
<rect x="1146" y="398" width="3" height="37" fill="#235a12"/>
<rect x="1147" y="399" width="1" height="35" fill="#f06a6e"/>
<rect x="1151" y="411" width="1" height="31" fill="#235a12"/>
<rect x="1150" y="419" width="3" height="14" fill="#235a12"/>
<rect x="1151" y="420" width="1" height="12" fill="#44d444"/>
<rect x="1155" y="414" width="1" height="23" fill="#235a12"/>
<rect x="1154" y="419" width="3" height="3" fill="#235a12"/>
<rect x="1155" y="420" width="1" height="1" fill="#f06a6e"/>
<rect x="1159" y="405" width="1" height="55" fill="#235a12"/>
<rect x="1158" y="413" width="3" height="8" fill="#235a12"/>
<rect x="1159" y="414" width="1" height="6" fill="#44d444"/>
<rect x="1163" y="354" width="1" height="74" fill="#235a12"/>
<rect x="1162" y="370" width="3" height="44" fill="#235a12"/>
<rect x="1163" y="371" width="1" height="42" fill="#44d444"/>
<rect x="1167" y="360" width="1" height="61" fill="#235a12"/>
<rect x="1166" y="369" width="3" height="26" fill="#235a12"/>
<rect x="1167" y="370" width="1" height="24" fill="#f06a6e"/>
<rect x="1171" y="382" width="1" height="23" fill="#235a12"/>
<rect x="1170" y="393" width="3" height="12" fill="#235a12"/>
<rect x="1171" y="394" width="1" height="10" fill="#f06a6e"/>
<rect x="1175" y="393" width="1" height="28" fill="#235a12"/>
<rect x="1174" y="406" width="3" height="3" fill="#235a12"/>
<rect x="1175" y="407" width="1" height="1" fill="#f06a6e"/>
<rect x="1179" y="381" width="1" height="33" fill="#235a12"/>
<rect x="1178" y="382" width="3" height="28" fill="#235a12"/>
<rect x="1179" y="383" width="1" height="26" fill="#44d444"/>
<rect x="1183" y="349" width="1" height="55" fill="#235a12"/>
<rect x="1182" y="362" width="3" height="23" fill="#235a12"/>
<rect x="1183" y="363" width="1" height="21" fill="#44d444"/>
<rect x="1187" y="343" width="1" height="49" fill="#235a12"/>
<rect x="1186" y="361" width="3" height="22" fill="#235a12"/>
<rect x="1187" y="362" width="1" height="20" fill="#f06a6e"/>
<rect x="1191" y="347" width="1" height="47" fill="#235a12"/>
<rect x="1190" y="360" width="3" height="23" fill="#235a12"/>
<rect x="1191" y="361" width="1" height="21" fill="#44d444"/>
<rect x="1195" y="352" width="1" height="26" fill="#235a12"/>
<rect x="1194" y="360" width="3" height="16" fill="#235a12"/>
<rect x="1195" y="361" width="1" height="14" fill="#f06a6e"/>
<rect x="1199" y="341" width="1" height="37" fill="#235a12"/>
<rect x="1198" y="344" width="3" height="32" fill="#235a12"/>
<rect x="1199" y="345" width="1" height="30" fill="#44d444"/>
<rect x="1203" y="313" width="1" height="33" fill="#235a12"/>
<rect x="1202" y="325" width="3" height="21" fill="#235a12"/>
<rect x="1203" y="326" width="1" height="19" fill="#44d444"/>
<rect x="1207" y="285" width="1" height="51" fill="#235a12"/>
<rect x="1206" y="291" width="3" height="36" fill="#235a12"/>
<rect x="1207" y="292" width="1" height="34" fill="#44d444"/>
<rect x="1211" y="274" width="1" height="29" fill="#235a12"/>
<rect x="1210" y="276" width="3" height="17" fill="#235a12"/>
<rect x="1211" y="277" width="1" height="15" fill="#44d444"/>
<rect x="1215" y="271" width="1" height="39" fill="#235a12"/>
<rect x="1214" y="277" width="3" height="16" fill="#235a12"/>
<rect x="1215" y="278" width="1" height="14" fill="#f06a6e"/>
<rect x="1219" y="287" width="1" height="21" fill="#235a12"/>
<rect x="1218" y="292" width="3" height="16" fill="#235a12"/>
<rect x="1219" y="293" width="1" height="14" fill="#f06a6e"/>
<rect x="1223" y="267" width="1" height="43" fill="#235a12"/>
<rect x="1222" y="269" width="3" height="40" fill="#235a12"/>
<rect x="1223" y="270" width="1" height="38" fill="#44d444"/>
<rect x="1227" y="246" width="1" height="34" fill="#235a12"/>
<rect x="1226" y="250" width="3" height="20" fill="#235a12"/>
<rect x="1227" y="251" width="1" height="18" fill="#44d444"/>
<rect x="1231" y="169" width="1" height="85" fill="#235a12"/>
<rect x="1230" y="172" width="3" height="79" fill="#235a12"/>
<rect x="1231" y="173" width="1" height="77" fill="#44d444"/>
<rect x="1235" y="129" width="1" height="48" fill="#235a12"/>
<rect x="1234" y="141" width="3" height="32" fill="#235a12"/>
<rect x="1235" y="142" width="1" height="30" fill="#44d444"/>
<rect x="1239" y="119" width="1" height="41" fill="#235a12"/>
<rect x="1238" y="136" width="3" height="6" fill="#235a12"/>
<rect x="1239" y="137" width="1" height="4" fill="#44d444"/>
<rect x="1243" y="129" width="1" height="33" fill="#235a12"/>
<rect x="1242" y="136" width="3" height="26" fill="#235a12"/>
<rect x="1243" y="137" width="1" height="24" fill="#f06a6e"/>
<rect x="1247" y="124" width="1" height="34" fill="#235a12"/>
<rect x="1246" y="155" width="3" height="3" fill="#235a12"/>
<rect x="1247" y="156" width="1" height="1" fill="#44d444"/>
<rect x="1251" y="143" width="1" height="51" fill="#235a12"/>
<rect x="1250" y="155" width="3" height="4" fill="#235a12"/>
<rect x="1251" y="156" width="1" height="2" fill="#f06a6e"/>
<rect x="1255" y="131" width="1" height="51" fill="#235a12"/>
<rect x="1254" y="157" width="3" height="9" fill="#235a12"/>
<rect x="1255" y="158" width="1" height="7" fill="#f06a6e"/>
<rect x="1259" y="142" width="1" height="34" fill="#235a12"/>
<rect x="1258" y="163" width="3" height="3" fill="#235a12"/>
<rect x="1259" y="164" width="1" height="1" fill="#44d444"/>
<rect x="1263" y="157" width="1" height="32" fill="#235a12"/>
<rect x="1262" y="163" width="3" height="8" fill="#235a12"/>
<rect x="1263" y="164" width="1" height="6" fill="#f06a6e"/>
<rect x="1267" y="159" width="1" height="15" fill="#235a12"/>
<rect x="1266" y="167" width="3" height="4" fill="#235a12"/>
<rect x="1267" y="168" width="1" height="2" fill="#44d444"/>
<rect x="1271" y="142" width="1" height="34" fill="#235a12"/>
<rect x="1270" y="162" width="3" height="11" fill="#235a12"/>
<rect x="1271" y="163" width="1" height="9" fill="#44d444"/>
<rect x="1275" y="133" width="1" height="35" fill="#235a12"/>
<rect x="1274" y="136" width="3" height="29" fill="#235a12"/>
<rect x="1275" y="137" width="1" height="27" fill="#44d444"/>
<rect x="1279" y="131" width="1" height="34" fill="#235a12"/>
<rect x="1278" y="136" width="3" height="7" fill="#235a12"/>
<rect x="1279" y="137" width="1" height="5" fill="#f06a6e"/>
<rect x="1283" y="60" width="1" height="89" fill="#235a12"/>
<rect x="1282" y="79" width="3" height="64" fill="#235a12"/>
<rect x="1283" y="80" width="1" height="62" fill="#44d444"/>
<rect x="1287" y="77" width="1" height="29" fill="#235a12"/>
<rect x="1286" y="79" width="3" height="18" fill="#235a12"/>
<rect x="1287" y="80" width="1" height="16" fill="#f06a6e"/>
<rect x="1291" y="78" width="1" height="19" fill="#235a12"/>
<rect x="1290" y="94" width="3" height="2" fill="#235a12"/>
<rect x="1295" y="46" width="1" height="54" fill="#235a12"/>
<rect x="1294" y="50" width="3" height="48" fill="#235a12"/>
<rect x="1295" y="51" width="1" height="46" fill="#44d444"/>
<rect x="1299" y="46" width="1" height="25" fill="#235a12"/>
<rect x="1298" y="51" width="3" height="2" fill="#235a12"/>
<rect x="1303" y="47" width="1" height="74" fill="#235a12"/>
<rect x="1302" y="52" width="3" height="46" fill="#235a12"/>
<rect x="1303" y="53" width="1" height="44" fill="#f06a6e"/>
<rect x="1307" y="91" width="1" height="66" fill="#235a12"/>
<rect x="1306" y="96" width="3" height="27" fill="#235a12"/>
<rect x="1307" y="97" width="1" height="25" fill="#f06a6e"/>
<rect x="1311" y="66" width="1" height="66" fill="#235a12"/>
<rect x="1310" y="85" width="3" height="38" fill="#235a12"/>
<rect x="1311" y="86" width="1" height="36" fill="#44d444"/>
<rect x="1315" y="58" width="1" height="30" fill="#235a12"/>
<rect x="1314" y="67" width="3" height="20" fill="#235a12"/>
<rect x="1315" y="68" width="1" height="18" fill="#44d444"/>
<rect x="1319" y="47" width="1" height="34" fill="#235a12"/>
<rect x="1318" y="64" width="3" height="12" fill="#235a12"/>
<rect x="1319" y="65" width="1" height="10" fill="#44d444"/>
<rect x="1323" y="50" width="1" height="69" fill="#235a12"/>
<rect x="1322" y="64" width="3" height="37" fill="#235a12"/>
<rect x="1323" y="65" width="1" height="35" fill="#f06a6e"/>
<rect x="1327" y="93" width="1" height="49" fill="#235a12"/>
<rect x="1326" y="100" width="3" height="23" fill="#235a12"/>
<rect x="1327" y="101" width="1" height="21" fill="#f06a6e"/>
<rect x="1331" y="91" width="1" height="52" fill="#235a12"/>
<rect x="1330" y="122" width="3" height="4" fill="#235a12"/>
<rect x="1331" y="123" width="1" height="2" fill="#f06a6e"/>
<rect x="1335" y="115" width="1" height="56" fill="#235a12"/>
<rect x="1334" y="125" width="3" height="46" fill="#235a12"/>
<rect x="1335" y="126" width="1" height="44" fill="#f06a6e"/>
<rect x="1339" y="131" width="1" height="48" fill="#235a12"/>
<rect x="1338" y="144" width="3" height="27" fill="#235a12"/>
<rect x="1339" y="145" width="1" height="25" fill="#44d444"/>
<rect x="1343" y="123" width="1" height="39" fill="#235a12"/>
<rect x="1342" y="124" width="3" height="22" fill="#235a12"/>
<rect x="1343" y="125" width="1" height="20" fill="#44d444"/>
<rect x="1347" y="96" width="1" height="43" fill="#235a12"/>
<rect x="1346" y="124" width="3" height="2" fill="#235a12"/>
<rect x="1351" y="118" width="1" height="55" fill="#235a12"/>
<rect x="1350" y="124" width="3" height="2" fill="#235a12"/>
<rect x="1355" y="115" width="1" height="59" fill="#235a12"/>
<rect x="1354" y="125" width="3" height="49" fill="#235a12"/>
<rect x="1355" y="126" width="1" height="47" fill="#f06a6e"/>
<rect x="1359" y="159" width="1" height="97" fill="#235a12"/>
<rect x="1358" y="173" width="3" height="70" fill="#235a12"/>
<rect x="1359" y="174" width="1" height="68" fill="#f06a6e"/>
<rect x="1363" y="234" width="1" height="22" fill="#235a12"/>
<rect x="1362" y="238" width="3" height="5" fill="#235a12"/>
<rect x="1363" y="239" width="1" height="3" fill="#44d444"/>
<rect x="1367" y="188" width="1" height="64" fill="#235a12"/>
<rect x="1366" y="196" width="3" height="43" fill="#235a12"/>
<rect x="1367" y="197" width="1" height="41" fill="#44d444"/>
<rect x="1371" y="180" width="1" height="35" fill="#235a12"/>
<rect x="1370" y="189" width="3" height="8" fill="#235a12"/>
<rect x="1371" y="190" width="1" height="6" fill="#44d444"/>
<rect x="1375" y="173" width="1" height="44" fill="#235a12"/>
<rect x="1374" y="189" width="3" height="22" fill="#235a12"/>
<rect x="1375" y="190" width="1" height="20" fill="#f06a6e"/>
<rect x="1379" y="192" width="1" height="44" fill="#235a12"/>
<rect x="1378" y="197" width="3" height="14" fill="#235a12"/>
<rect x="1379" y="198" width="1" height="12" fill="#44d444"/>
<rect x="1383" y="188" width="1" height="43" fill="#235a12"/>
<rect x="1382" y="197" width="3" height="10" fill="#235a12"/>
<rect x="1383" y="198" width="1" height="8" fill="#f06a6e"/>
<rect x="1387" y="194" width="1" height="15" fill="#235a12"/>
<rect x="1386" y="205" width="3" height="2" fill="#235a12"/>
<rect x="1391" y="187" width="1" height="24" fill="#235a12"/>
<rect x="1390" y="189" width="3" height="20" fill="#235a12"/>
<rect x="1391" y="190" width="1" height="18" fill="#44d444"/>
<rect x="1395" y="170" width="1" height="25" fill="#235a12"/>
<rect x="1394" y="175" width="3" height="16" fill="#235a12"/>
<rect x="1395" y="176" width="1" height="14" fill="#44d444"/>
<rect x="1399" y="141" width="1" height="43" fill="#235a12"/>
<rect x="1398" y="144" width="3" height="32" fill="#235a12"/>
<rect x="1399" y="145" width="1" height="30" fill="#44d444"/>
<rect x="1403" y="96" width="1" height="53" fill="#235a12"/>
<rect x="1402" y="106" width="3" height="39" fill="#235a12"/>
<rect x="1403" y="107" width="1" height="37" fill="#44d444"/>
<rect x="1407" y="87" width="1" height="68" fill="#235a12"/>
<rect x="1406" y="106" width="3" height="42" fill="#235a12"/>
<rect x="1407" y="107" width="1" height="40" fill="#f06a6e"/>
<rect x="1411" y="138" width="1" height="18" fill="#235a12"/>
<rect x="1410" y="147" width="3" height="4" fill="#235a12"/>
<rect x="1411" y="148" width="1" height="2" fill="#f06a6e"/>
<rect x="1415" y="132" width="1" height="24" fill="#235a12"/>
<rect x="1414" y="140" width="3" height="11" fill="#235a12"/>
<rect x="1415" y="141" width="1" height="9" fill="#44d444"/>
<rect x="1419" y="135" width="1" height="35" fill="#235a12"/>
<rect x="1418" y="140" width="3" height="15" fill="#235a12"/>
<rect x="1419" y="141" width="1" height="13" fill="#f06a6e"/>
<rect x="1423" y="144" width="1" height="104" fill="#235a12"/>
<rect x="1422" y="154" width="3" height="93" fill="#235a12"/>
<rect x="1423" y="155" width="1" height="91" fill="#f06a6e"/>
<rect x="1427" y="213" width="1" height="56" fill="#235a12"/>
<rect x="1426" y="230" width="3" height="16" fill="#235a12"/>
<rect x="1427" y="231" width="1" height="14" fill="#44d444"/>
<rect x="1431" y="208" width="1" height="69" fill="#235a12"/>
<rect x="1430" y="217" width="3" height="14" fill="#235a12"/>
<rect x="1431" y="218" width="1" height="12" fill="#44d444"/>
<rect x="1435" y="196" width="1" height="32" fill="#235a12"/>
<rect x="1434" y="217" width="3" height="2" fill="#235a12"/>
<rect x="1439" y="207" width="1" height="24" fill="#235a12"/>
<rect x="1438" y="220" width="3" height="9" fill="#235a12"/>
<rect x="1439" y="221" width="1" height="7" fill="#f06a6e"/>
<rect x="1443" y="227" width="1" height="24" fill="#235a12"/>
<rect x="1442" y="228" width="3" height="13" fill="#235a12"/>
<rect x="1443" y="229" width="1" height="11" fill="#f06a6e"/>
<rect x="1447" y="201" width="1" height="55" fill="#235a12"/>
<rect x="1446" y="224" width="3" height="17" fill="#235a12"/>
<rect x="1447" y="225" width="1" height="15" fill="#44d444"/>
<rect x="1451" y="211" width="1" height="39" fill="#235a12"/>
<rect x="1450" y="224" width="3" height="25" fill="#235a12"/>
<rect x="1451" y="225" width="1" height="23" fill="#f06a6e"/>
<rect x="2" y="2" width="1869" height="1" fill="#000"/>
<rect x="2" y="2" width="1" height="911" fill="#000"/>
<rect x="2" y="912" width="1869" height="1" fill="#000"/>
<rect x="1870" y="2" width="1" height="911" fill="#000"/>
<rect x="1871" y="18" width="2" height="1" fill="#000"/>
<text x="1876" y="22" font-size="10.0" textLength="34" lengthAdjust="spacingAndGlyphs">158.520</text>
<rect x="1871" y="51" width="2" height="1" fill="#000"/>
<text x="1876" y="55" font-size="10.0" textLength="34" lengthAdjust="spacingAndGlyphs">158.160</text>
<rect x="1871" y="84" width="2" height="1" fill="#000"/>
<text x="1876" y="88" font-size="10.0" textLength="34" lengthAdjust="spacingAndGlyphs">157.800</text>
<rect x="1871" y="117" width="2" height="1" fill="#000"/>
<text x="1876" y="121" font-size="10.0" textLength="34" lengthAdjust="spacingAndGlyphs">157.430</text>
<rect x="1871" y="150" width="2" height="1" fill="#000"/>
<text x="1876" y="154" font-size="10.0" textLength="34" lengthAdjust="spacingAndGlyphs">157.070</text>
<rect x="1871" y="183" width="2" height="1" fill="#000"/>
<text x="1876" y="187" font-size="10.0" textLength="34" lengthAdjust="spacingAndGlyphs">156.710</text>
<rect x="1871" y="216" width="2" height="1" fill="#000"/>
<text x="1876" y="220" font-size="10.0" textLength="34" lengthAdjust="spacingAndGlyphs">156.350</text>
<rect x="1871" y="282" width="2" height="1" fill="#000"/>
<text x="1876" y="286" font-size="10.0" textLength="34" lengthAdjust="spacingAndGlyphs">155.620</text>
<rect x="1871" y="315" width="2" height="1" fill="#000"/>
<text x="1876" y="319" font-size="10.0" textLength="34" lengthAdjust="spacingAndGlyphs">155.260</text>
<rect x="1871" y="348" width="2" height="1" fill="#000"/>
<text x="1876" y="352" font-size="10.0" textLength="34" lengthAdjust="spacingAndGlyphs">154.900</text>
<rect x="1871" y="381" width="2" height="1" fill="#000"/>
<text x="1876" y="385" font-size="10.0" textLength="34" lengthAdjust="spacingAndGlyphs">154.530</text>
<rect x="1871" y="414" width="2" height="1" fill="#000"/>
<text x="1876" y="418" font-size="10.0" textLength="34" lengthAdjust="spacingAndGlyphs">154.170</text>
<rect x="1871" y="447" width="2" height="1" fill="#000"/>
<text x="1876" y="451" font-size="10.0" textLength="34" lengthAdjust="spacingAndGlyphs">153.810</text>
<rect x="1871" y="480" width="2" height="1" fill="#000"/>
<text x="1876" y="484" font-size="10.0" textLength="34" lengthAdjust="spacingAndGlyphs">153.450</text>
<rect x="1871" y="513" width="2" height="1" fill="#000"/>
<text x="1876" y="517" font-size="10.0" textLength="34" lengthAdjust="spacingAndGlyphs">153.090</text>
<rect x="1871" y="546" width="2" height="1" fill="#000"/>
<text x="1876" y="550" font-size="10.0" textLength="34" lengthAdjust="spacingAndGlyphs">152.720</text>
<rect x="1871" y="579" width="2" height="1" fill="#000"/>
<text x="1876" y="583" font-size="10.0" textLength="34" lengthAdjust="spacingAndGlyphs">152.360</text>
<rect x="1871" y="612" width="2" height="1" fill="#000"/>
<text x="1876" y="616" font-size="10.0" textLength="34" lengthAdjust="spacingAndGlyphs">152.000</text>
<rect x="1871" y="645" width="2" height="1" fill="#000"/>
<text x="1876" y="649" font-size="10.0" textLength="34" lengthAdjust="spacingAndGlyphs">151.640</text>
<rect x="1871" y="678" width="2" height="1" fill="#000"/>
<text x="1876" y="682" font-size="10.0" textLength="34" lengthAdjust="spacingAndGlyphs">151.270</text>
<rect x="1871" y="711" width="2" height="1" fill="#000"/>
<text x="1876" y="715" font-size="10.0" textLength="34" lengthAdjust="spacingAndGlyphs">150.910</text>
<rect x="1871" y="744" width="2" height="1" fill="#000"/>
<text x="1876" y="748" font-size="10.0" textLength="34" lengthAdjust="spacingAndGlyphs">150.550</text>
<rect x="1871" y="777" width="2" height="1" fill="#000"/>
<text x="1876" y="781" font-size="10.0" textLength="34" lengthAdjust="spacingAndGlyphs">150.190</text>
<rect x="1871" y="810" width="2" height="1" fill="#000"/>
<text x="1876" y="814" font-size="10.0" textLength="34" lengthAdjust="spacingAndGlyphs">149.820</text>
<rect x="1871" y="843" width="2" height="1" fill="#000"/>
<text x="1876" y="847" font-size="10.0" textLength="34" lengthAdjust="spacingAndGlyphs">149.460</text>
<rect x="1871" y="876" width="2" height="1" fill="#000"/>
<text x="1876" y="880" font-size="10.0" textLength="34" lengthAdjust="spacingAndGlyphs">149.100</text>
<rect x="1871" y="909" width="2" height="1" fill="#000"/>
<text x="1876" y="913" font-size="10.0" textLength="34" lengthAdjust="spacingAndGlyphs">148.740</text>
<rect x="3" y="913" width="1" height="3" fill="#000"/>
<text x="1.8" y="926" font-size="10" textLength="47.6" lengthAdjust="spacingAndGlyphs">5 Aug 2021</text>
<rect x="67" y="913" width="1" height="3" fill="#000"/>
<text x="65.8" y="926" font-size="10" textLength="50.2" lengthAdjust="spacingAndGlyphs">9 Aug 20:00</text>
<rect x="131" y="913" width="1" height="3" fill="#000"/>
<text x="129.8" y="926" font-size="10" textLength="55.4" lengthAdjust="spacingAndGlyphs">12 Aug 12:00</text>
<rect x="195" y="913" width="1" height="3" fill="#000"/>
<text x="193.8" y="926" font-size="10" textLength="55.4" lengthAdjust="spacingAndGlyphs">17 Aug 04:00</text>
<rect x="259" y="913" width="1" height="3" fill="#000"/>
<text x="257.8" y="926" font-size="10" textLength="55.4" lengthAdjust="spacingAndGlyphs">19 Aug 20:00</text>
<rect x="323" y="913" width="1" height="3" fill="#000"/>
<text x="321.8" y="926" font-size="10" textLength="55.4" lengthAdjust="spacingAndGlyphs">24 Aug 12:00</text>
<rect x="387" y="913" width="1" height="3" fill="#000"/>
<text x="385.8" y="926" font-size="10" textLength="55.4" lengthAdjust="spacingAndGlyphs">27 Aug 04:00</text>
<rect x="451" y="913" width="1" height="3" fill="#000"/>
<text x="449.8" y="926" font-size="10" textLength="55.4" lengthAdjust="spacingAndGlyphs">31 Aug 20:00</text>
<rect x="515" y="913" width="1" height="3" fill="#000"/>
<text x="513.8" y="926" font-size="10" textLength="50.7" lengthAdjust="spacingAndGlyphs">3 Sep 12:00</text>
<rect x="579" y="913" width="1" height="3" fill="#000"/>
<text x="577.8" y="926" font-size="10" textLength="50.7" lengthAdjust="spacingAndGlyphs">8 Sep 04:00</text>
<rect x="643" y="913" width="1" height="3" fill="#000"/>
<text x="641.8" y="926" font-size="10" textLength="55.9" lengthAdjust="spacingAndGlyphs">10 Sep 20:00</text>
<rect x="707" y="913" width="1" height="3" fill="#000"/>
<text x="705.8" y="926" font-size="10" textLength="55.9" lengthAdjust="spacingAndGlyphs">15 Sep 12:00</text>
<rect x="771" y="913" width="1" height="3" fill="#000"/>
<text x="769.8" y="926" font-size="10" textLength="55.9" lengthAdjust="spacingAndGlyphs">20 Sep 04:00</text>
<rect x="835" y="913" width="1" height="3" fill="#000"/>
<text x="833.8" y="926" font-size="10" textLength="55.9" lengthAdjust="spacingAndGlyphs">22 Sep 20:00</text>
<rect x="899" y="913" width="1" height="3" fill="#000"/>
<text x="897.8" y="926" font-size="10" textLength="55.9" lengthAdjust="spacingAndGlyphs">27 Sep 12:00</text>
<rect x="963" y="913" width="1" height="3" fill="#000"/>
<text x="961.8" y="926" font-size="10" textLength="55.9" lengthAdjust="spacingAndGlyphs">30 Sep 04:00</text>
<rect x="1027" y="913" width="1" height="3" fill="#000"/>
<text x="1025.8" y="926" font-size="10" textLength="48.6" lengthAdjust="spacingAndGlyphs">4 Oct 20:00</text>
<rect x="1091" y="913" width="1" height="3" fill="#000"/>
<text x="1089.8" y="926" font-size="10" textLength="48.6" lengthAdjust="spacingAndGlyphs">7 Oct 12:00</text>
<rect x="1155" y="913" width="1" height="3" fill="#000"/>
<text x="1153.8" y="926" font-size="10" textLength="53.8" lengthAdjust="spacingAndGlyphs">12 Oct 04:00</text>
<rect x="1219" y="913" width="1" height="3" fill="#000"/>
<text x="1217.8" y="926" font-size="10" textLength="53.8" lengthAdjust="spacingAndGlyphs">14 Oct 20:00</text>
<rect x="1283" y="913" width="1" height="3" fill="#000"/>
<text x="1281.8" y="926" font-size="10" textLength="53.8" lengthAdjust="spacingAndGlyphs">19 Oct 12:00</text>
<rect x="1347" y="913" width="1" height="3" fill="#000"/>
<text x="1345.8" y="926" font-size="10" textLength="53.8" lengthAdjust="spacingAndGlyphs">22 Oct 04:00</text>
<rect x="1411" y="913" width="1" height="3" fill="#000"/>
<text x="1409.8" y="926" font-size="10" textLength="53.8" lengthAdjust="spacingAndGlyphs">26 Oct 20:00</text>
<rect x="1872" y="243" width="41" height="11" fill="#000"/>
<text x="1876" y="252" font-size="10.0" textLength="34" lengthAdjust="spacingAndGlyphs" fill="#fff">155.992</text>
<rect x="1870" y="248" width="2" height="1" fill="#fff"/>
<polygon points="6,9 13,9 9.5,13" fill="#000" shape-rendering="auto"/>
<text x="17.6" y="14" font-size="9.5">GBPJPY,H4</text>
<text x="3.5" y="22" font-size="9.6">forex-station.com</text>
<text x="1865.5" y="30" font-size="30" font-weight="bold" fill="#808080" text-anchor="end">3.4</text>
<text x="1791.5" y="42.5" font-size="9.8" fill="#808080" text-anchor="end">Bar Left</text>
<text x="1865.5" y="42.5" font-size="9.8" fill="#808080" text-anchor="end" textLength="48.1" lengthAdjust="spacingAndGlyphs">[ 00:38:10 ]</text>
<text x="1791.5" y="53.5" font-size="9.8" fill="#808080" text-anchor="end">Sydney</text>
<text x="1865.5" y="53.5" font-size="9.8" fill="#808080" text-anchor="end" textLength="39.2" lengthAdjust="spacingAndGlyphs">11:21 PM</text>
<text x="1791.5" y="64.5" font-size="9.8" fill="#808080" text-anchor="end">Tokyo</text>
<text x="1865.5" y="64.5" font-size="9.8" fill="#808080" text-anchor="end" textLength="39.8" lengthAdjust="spacingAndGlyphs">09:21 PM</text>
<text x="1791.5" y="75.5" font-size="9.8" fill="#ff0000" text-anchor="end">* Berlin</text>
<text x="1865.5" y="75.5" font-size="9.8" fill="#ff0000" text-anchor="end" textLength="39.8" lengthAdjust="spacingAndGlyphs">02:21 PM</text>
<text x="1791.5" y="86.5" font-size="9.8" fill="#ff0000" text-anchor="end">* London</text>
<text x="1865.5" y="86.5" font-size="9.8" fill="#ff0000" text-anchor="end" textLength="39.8" lengthAdjust="spacingAndGlyphs">01:21 PM</text>
<text x="1791.5" y="97.5" font-size="9.8" fill="#ff0000" text-anchor="end">* New York</text>
<text x="1865.5" y="97.5" font-size="9.8" fill="#ff0000" text-anchor="end" textLength="39.3" lengthAdjust="spacingAndGlyphs">08:21 AM</text>
<text x="1865.5" y="108.5" font-size="9.8" fill="#808080" text-anchor="end" textLength="73.8" lengthAdjust="spacingAndGlyphs">ATR (20): 89 pips</text>
</svg>
</body></html>
